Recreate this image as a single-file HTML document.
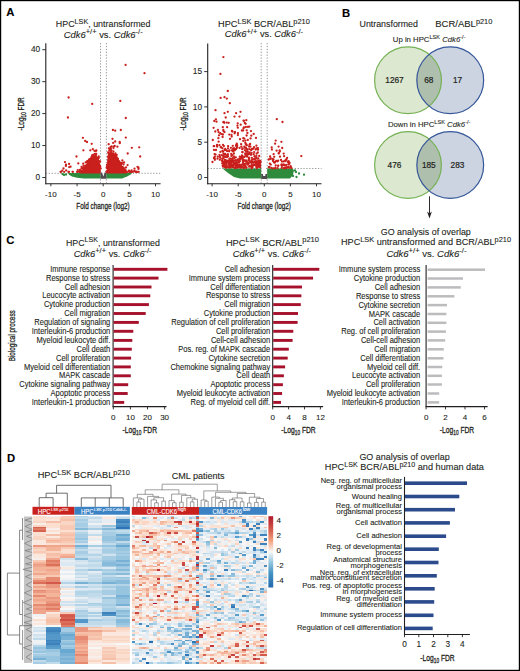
<!DOCTYPE html>
<html><head><meta charset="utf-8"><style>
html,body{margin:0;padding:0;background:#fff;}
body{width:520px;height:671px;overflow:hidden;}
svg{display:block;font-family:"Liberation Sans", sans-serif;}
</style></head><body>
<svg width="520" height="671" viewBox="0 0 520 671">
<rect x="0" y="0" width="520" height="671" fill="#fff"/>
<text transform="translate(6.30,15.90)" font-size="11.3" text-anchor="start" font-weight="bold" font-style="normal" fill="#000" stroke="#000" stroke-width="0.1" >A</text>
<text transform="translate(341.90,16.50)" font-size="11.3" text-anchor="start" font-weight="bold" font-style="normal" fill="#000" stroke="#000" stroke-width="0.1" >B</text>
<text transform="translate(6.30,244.10)" font-size="11.3" text-anchor="start" font-weight="bold" font-style="normal" fill="#000" stroke="#000" stroke-width="0.1" >C</text>
<text transform="translate(6.90,461.80)" font-size="11.3" text-anchor="start" font-weight="bold" font-style="normal" fill="#000" stroke="#000" stroke-width="0.1" >D</text>
<g id="A1">
<line x1="45.80" y1="43.20" x2="45.80" y2="184.30" stroke="#231f20" stroke-width="1.1"/>
<line x1="45.30" y1="183.70" x2="160.60" y2="183.70" stroke="#231f20" stroke-width="1.1"/>
<line x1="42.30" y1="177.50" x2="45.80" y2="177.50" stroke="#231f20" stroke-width="0.9"/>
<text transform="translate(40.20,180.10)" font-size="8.3" text-anchor="end" font-weight="normal" font-style="normal" fill="#231f20" stroke="#231f20" stroke-width="0.1" >0</text>
<line x1="42.30" y1="145.55" x2="45.80" y2="145.55" stroke="#231f20" stroke-width="0.9"/>
<text transform="translate(40.20,148.15)" font-size="8.3" text-anchor="end" font-weight="normal" font-style="normal" fill="#231f20" stroke="#231f20" stroke-width="0.1" >10</text>
<line x1="42.30" y1="113.60" x2="45.80" y2="113.60" stroke="#231f20" stroke-width="0.9"/>
<text transform="translate(40.20,116.20)" font-size="8.3" text-anchor="end" font-weight="normal" font-style="normal" fill="#231f20" stroke="#231f20" stroke-width="0.1" >20</text>
<line x1="42.30" y1="81.65" x2="45.80" y2="81.65" stroke="#231f20" stroke-width="0.9"/>
<text transform="translate(40.20,84.25)" font-size="8.3" text-anchor="end" font-weight="normal" font-style="normal" fill="#231f20" stroke="#231f20" stroke-width="0.1" >30</text>
<line x1="42.30" y1="49.70" x2="45.80" y2="49.70" stroke="#231f20" stroke-width="0.9"/>
<text transform="translate(40.20,52.30)" font-size="8.3" text-anchor="end" font-weight="normal" font-style="normal" fill="#231f20" stroke="#231f20" stroke-width="0.1" >40</text>
<line x1="50.90" y1="183.70" x2="50.90" y2="186.30" stroke="#231f20" stroke-width="0.9"/>
<text transform="translate(50.90,197.20)" font-size="8" text-anchor="middle" font-weight="normal" font-style="normal" fill="#231f20" stroke="#231f20" stroke-width="0.1" >-10</text>
<line x1="77.05" y1="183.70" x2="77.05" y2="186.30" stroke="#231f20" stroke-width="0.9"/>
<text transform="translate(77.05,197.20)" font-size="8" text-anchor="middle" font-weight="normal" font-style="normal" fill="#231f20" stroke="#231f20" stroke-width="0.1" >-5</text>
<line x1="103.20" y1="183.70" x2="103.20" y2="186.30" stroke="#231f20" stroke-width="0.9"/>
<text transform="translate(103.20,197.20)" font-size="8" text-anchor="middle" font-weight="normal" font-style="normal" fill="#231f20" stroke="#231f20" stroke-width="0.1" >0</text>
<line x1="129.35" y1="183.70" x2="129.35" y2="186.30" stroke="#231f20" stroke-width="0.9"/>
<text transform="translate(129.35,197.20)" font-size="8" text-anchor="middle" font-weight="normal" font-style="normal" fill="#231f20" stroke="#231f20" stroke-width="0.1" >5</text>
<line x1="155.50" y1="183.70" x2="155.50" y2="186.30" stroke="#231f20" stroke-width="0.9"/>
<text transform="translate(155.50,197.20)" font-size="8" text-anchor="middle" font-weight="normal" font-style="normal" fill="#231f20" stroke="#231f20" stroke-width="0.1" >10</text>
<line x1="100.50" y1="43.00" x2="100.50" y2="183.20" stroke="#555" stroke-width="0.6" stroke-dasharray="1.3,1.6"/>
<line x1="106.40" y1="43.00" x2="106.40" y2="183.20" stroke="#555" stroke-width="0.6" stroke-dasharray="1.3,1.6"/>
<line x1="45.80" y1="173.30" x2="160.60" y2="173.30" stroke="#555" stroke-width="0.6" stroke-dasharray="1.3,1.6"/>
<text transform="translate(103.00,209.30) scale(0.690,1)" font-size="9.3" text-anchor="middle" font-weight="normal" font-style="normal" fill="#231f20" stroke="#231f20" stroke-width="0.3">Fold change (log2)</text>
<text transform="translate(24.20,113.80) rotate(-90) scale(0.660,1)" font-size="9.8" text-anchor="middle" font-weight="normal" font-style="normal" fill="#231f20" stroke="#231f20" stroke-width="0.3">-Log<tspan font-size="7" dy="2">10</tspan><tspan dy="-2"> FDR</tspan></text>
<polygon fill="#2e8b3c" points="68,173 100.5,173 100.5,178.6 84,178.6 77,177.8 72,176.5 69,174.8"/>
<polygon fill="#2e8b3c" points="106.4,173 131,173 132,173.8 127,176.5 122,178.6 106.4,178.6"/>
<polygon fill="#4d4d4d" points="100.5,172.5 102,172.5 103.4,176.5 104.8,172.5 106.4,172.5 106.4,178.8 100.5,178.8"/>
<polygon fill="#c9201d" points="80,173.4 82,170.5 85,166.5 88,161.5 90.5,157.5 93,155.5 96,155.5 98.8,158.5 100.6,166 100.8,173.4"/>
<polygon fill="#c9201d" points="106.3,173.4 107.2,165 108.5,156 110.5,152 113,153 116,156 119,160.5 121.5,165.5 124,170 127,173.4"/>
<g fill="#c9201d"><circle cx="86.7" cy="166.0" r="1.15"/><circle cx="82.0" cy="171.8" r="1.15"/><circle cx="77.4" cy="171.8" r="1.15"/><circle cx="69.2" cy="167.1" r="1.15"/><circle cx="83.7" cy="169.5" r="1.15"/><circle cx="100.0" cy="166.0" r="1.15"/><circle cx="95.2" cy="157.1" r="1.15"/><circle cx="72.6" cy="171.8" r="1.15"/><circle cx="83.8" cy="168.0" r="1.15"/><circle cx="68.4" cy="171.8" r="1.15"/><circle cx="92.6" cy="155.3" r="1.15"/><circle cx="81.5" cy="168.5" r="1.15"/><circle cx="89.9" cy="160.1" r="1.15"/><circle cx="100.2" cy="166.5" r="1.15"/><circle cx="77.1" cy="171.8" r="1.15"/><circle cx="80.0" cy="171.8" r="1.15"/><circle cx="87.4" cy="161.4" r="1.15"/><circle cx="83.5" cy="165.8" r="1.15"/><circle cx="72.9" cy="171.8" r="1.15"/><circle cx="83.8" cy="169.1" r="1.15"/><circle cx="94.4" cy="150.8" r="1.15"/><circle cx="79.4" cy="171.8" r="1.15"/><circle cx="88.8" cy="160.2" r="1.15"/><circle cx="100.7" cy="168.5" r="1.15"/><circle cx="87.4" cy="164.9" r="1.15"/><circle cx="91.5" cy="158.9" r="1.15"/><circle cx="95.7" cy="157.8" r="1.15"/><circle cx="96.2" cy="154.0" r="1.15"/><circle cx="95.4" cy="157.2" r="1.15"/><circle cx="96.3" cy="150.4" r="1.15"/><circle cx="83.2" cy="163.7" r="1.15"/><circle cx="88.3" cy="161.7" r="1.15"/><circle cx="85.3" cy="165.6" r="1.15"/><circle cx="62.2" cy="170.7" r="1.15"/><circle cx="95.9" cy="154.0" r="1.15"/><circle cx="64.2" cy="171.8" r="1.15"/><circle cx="95.8" cy="155.6" r="1.15"/><circle cx="65.0" cy="162.1" r="1.15"/><circle cx="94.0" cy="157.6" r="1.15"/><circle cx="60.9" cy="171.8" r="1.15"/><circle cx="100.1" cy="161.5" r="1.15"/><circle cx="88.5" cy="162.4" r="1.15"/><circle cx="91.6" cy="157.2" r="1.15"/><circle cx="91.9" cy="157.8" r="1.15"/><circle cx="69.1" cy="164.0" r="1.15"/><circle cx="95.0" cy="153.9" r="1.15"/><circle cx="93.6" cy="154.6" r="1.15"/><circle cx="70.6" cy="166.7" r="1.15"/><circle cx="78.3" cy="163.4" r="1.15"/><circle cx="99.2" cy="161.3" r="1.15"/><circle cx="85.6" cy="162.3" r="1.15"/><circle cx="94.5" cy="156.4" r="1.15"/><circle cx="86.8" cy="162.0" r="1.15"/><circle cx="63.5" cy="168.5" r="1.15"/><circle cx="92.1" cy="155.3" r="1.15"/><circle cx="92.4" cy="157.5" r="1.15"/><circle cx="92.8" cy="149.2" r="1.15"/><circle cx="98.8" cy="157.9" r="1.15"/><circle cx="66.2" cy="170.4" r="1.15"/><circle cx="66.0" cy="164.7" r="1.15"/><circle cx="86.9" cy="164.7" r="1.15"/><circle cx="82.5" cy="171.8" r="1.15"/><circle cx="60.6" cy="171.8" r="1.15"/><circle cx="81.6" cy="166.8" r="1.15"/><circle cx="77.8" cy="170.1" r="1.15"/><circle cx="84.0" cy="169.5" r="1.15"/><circle cx="97.3" cy="158.3" r="1.15"/><circle cx="97.1" cy="157.8" r="1.15"/><circle cx="97.6" cy="158.0" r="1.15"/><circle cx="81.8" cy="171.4" r="1.15"/><circle cx="92.8" cy="157.7" r="1.15"/><circle cx="79.4" cy="171.8" r="1.15"/><circle cx="82.8" cy="168.1" r="1.15"/><circle cx="91.7" cy="157.3" r="1.15"/><circle cx="83.0" cy="168.1" r="1.15"/><circle cx="97.4" cy="158.0" r="1.15"/><circle cx="85.1" cy="167.0" r="1.15"/><circle cx="81.0" cy="171.5" r="1.15"/><circle cx="79.6" cy="171.5" r="1.15"/><circle cx="95.9" cy="150.9" r="1.15"/><circle cx="98.7" cy="156.3" r="1.15"/><circle cx="87.4" cy="161.1" r="1.15"/><circle cx="96.8" cy="158.4" r="1.15"/><circle cx="89.4" cy="159.1" r="1.15"/><circle cx="65.9" cy="165.9" r="1.15"/><circle cx="69.0" cy="171.8" r="1.15"/><circle cx="80.0" cy="170.0" r="1.15"/><circle cx="81.1" cy="171.8" r="1.15"/><circle cx="89.6" cy="161.4" r="1.15"/><circle cx="82.7" cy="170.6" r="1.15"/><circle cx="108.7" cy="144.2" r="1.15"/><circle cx="132.9" cy="171.8" r="1.15"/><circle cx="115.4" cy="157.8" r="1.15"/><circle cx="110.8" cy="152.8" r="1.15"/><circle cx="137.0" cy="171.8" r="1.15"/><circle cx="111.5" cy="146.5" r="1.15"/><circle cx="125.6" cy="170.3" r="1.15"/><circle cx="109.5" cy="156.3" r="1.15"/><circle cx="108.9" cy="148.4" r="1.15"/><circle cx="127.8" cy="171.8" r="1.15"/><circle cx="117.9" cy="158.6" r="1.15"/><circle cx="110.8" cy="152.1" r="1.15"/><circle cx="114.5" cy="156.6" r="1.15"/><circle cx="111.9" cy="154.9" r="1.15"/><circle cx="113.3" cy="154.5" r="1.15"/><circle cx="116.7" cy="154.8" r="1.15"/><circle cx="116.2" cy="156.5" r="1.15"/><circle cx="112.5" cy="153.9" r="1.15"/><circle cx="107.1" cy="167.4" r="1.15"/><circle cx="107.0" cy="164.8" r="1.15"/><circle cx="125.0" cy="171.8" r="1.15"/><circle cx="122.4" cy="160.5" r="1.15"/><circle cx="110.1" cy="149.7" r="1.15"/><circle cx="121.0" cy="164.7" r="1.15"/><circle cx="123.5" cy="167.7" r="1.15"/><circle cx="134.4" cy="171.1" r="1.15"/><circle cx="120.1" cy="163.7" r="1.15"/><circle cx="108.3" cy="159.3" r="1.15"/><circle cx="108.9" cy="153.3" r="1.15"/><circle cx="115.1" cy="157.0" r="1.15"/><circle cx="109.3" cy="150.7" r="1.15"/><circle cx="135.7" cy="171.8" r="1.15"/><circle cx="114.6" cy="156.0" r="1.15"/><circle cx="121.9" cy="168.1" r="1.15"/><circle cx="121.4" cy="166.9" r="1.15"/><circle cx="138.7" cy="171.8" r="1.15"/><circle cx="114.7" cy="146.0" r="1.15"/><circle cx="116.9" cy="158.3" r="1.15"/><circle cx="106.5" cy="171.8" r="1.15"/><circle cx="122.4" cy="167.3" r="1.15"/><circle cx="113.2" cy="153.4" r="1.15"/><circle cx="106.7" cy="171.5" r="1.15"/><circle cx="109.5" cy="154.8" r="1.15"/><circle cx="107.9" cy="162.6" r="1.15"/><circle cx="116.7" cy="158.7" r="1.15"/><circle cx="126.1" cy="171.8" r="1.15"/><circle cx="131.6" cy="170.3" r="1.15"/><circle cx="117.4" cy="146.7" r="1.15"/><circle cx="111.5" cy="150.6" r="1.15"/><circle cx="134.5" cy="171.2" r="1.15"/><circle cx="131.1" cy="171.8" r="1.15"/><circle cx="124.0" cy="170.2" r="1.15"/><circle cx="134.5" cy="168.7" r="1.15"/><circle cx="126.1" cy="167.4" r="1.15"/><circle cx="129.4" cy="171.8" r="1.15"/><circle cx="107.5" cy="164.6" r="1.15"/><circle cx="118.6" cy="162.0" r="1.15"/><circle cx="106.6" cy="167.7" r="1.15"/><circle cx="124.4" cy="169.4" r="1.15"/><circle cx="108.7" cy="153.6" r="1.15"/><circle cx="114.9" cy="157.2" r="1.15"/><circle cx="115.4" cy="153.5" r="1.15"/><circle cx="113.4" cy="151.4" r="1.15"/><circle cx="119.3" cy="161.5" r="1.15"/><circle cx="129.4" cy="171.3" r="1.15"/><circle cx="111.4" cy="153.9" r="1.15"/><circle cx="125.5" cy="171.8" r="1.15"/><circle cx="108.5" cy="157.4" r="1.15"/><circle cx="129.0" cy="170.7" r="1.15"/><circle cx="116.2" cy="156.4" r="1.15"/><circle cx="122.1" cy="166.9" r="1.15"/><circle cx="110.5" cy="147.1" r="1.15"/><circle cx="113.2" cy="142.9" r="1.15"/><circle cx="121.9" cy="163.0" r="1.15"/><circle cx="115.5" cy="157.2" r="1.15"/><circle cx="126.0" cy="171.8" r="1.15"/><circle cx="124.1" cy="162.4" r="1.15"/><circle cx="110.9" cy="149.0" r="1.15"/><circle cx="123.5" cy="164.4" r="1.15"/><circle cx="107.3" cy="166.6" r="1.15"/><circle cx="123.0" cy="168.7" r="1.15"/><circle cx="116.6" cy="158.9" r="1.15"/><circle cx="118.0" cy="160.3" r="1.15"/><circle cx="131.6" cy="171.8" r="1.15"/><circle cx="137.5" cy="166.8" r="1.15"/><circle cx="116.2" cy="157.3" r="1.15"/><circle cx="119.7" cy="141.9" r="1.15"/><circle cx="126.2" cy="171.8" r="1.15"/><circle cx="120.8" cy="165.6" r="1.15"/><circle cx="108.1" cy="160.8" r="1.15"/><circle cx="115.4" cy="155.5" r="1.15"/><circle cx="112.9" cy="153.9" r="1.15"/><circle cx="138.5" cy="168.9" r="1.15"/><circle cx="127.6" cy="165.1" r="1.15"/><circle cx="124.9" cy="169.3" r="1.15"/><circle cx="108.2" cy="156.5" r="1.15"/><circle cx="121.6" cy="163.5" r="1.15"/><circle cx="108.1" cy="152.3" r="1.15"/><circle cx="110.8" cy="152.5" r="1.15"/><circle cx="118.0" cy="160.3" r="1.15"/><circle cx="131.3" cy="171.8" r="1.15"/><circle cx="125.2" cy="171.8" r="1.15"/><circle cx="112.1" cy="154.6" r="1.15"/><circle cx="113.5" cy="148.1" r="1.15"/><circle cx="123.2" cy="170.1" r="1.15"/><circle cx="136.9" cy="171.8" r="1.15"/><circle cx="111.2" cy="154.1" r="1.15"/><circle cx="109.5" cy="155.0" r="1.15"/><circle cx="109.6" cy="155.5" r="1.15"/><circle cx="115.2" cy="154.8" r="1.15"/><circle cx="136.2" cy="171.8" r="1.15"/><circle cx="120.4" cy="163.3" r="1.15"/><circle cx="119.1" cy="161.9" r="1.15"/><circle cx="108.6" cy="157.3" r="1.15"/><circle cx="123.4" cy="168.0" r="1.15"/><circle cx="115.6" cy="157.1" r="1.15"/><circle cx="119.9" cy="162.8" r="1.15"/><circle cx="138.5" cy="167.6" r="1.15"/><circle cx="107.2" cy="167.2" r="1.15"/><circle cx="130.3" cy="171.8" r="1.15"/><circle cx="126.2" cy="171.8" r="1.15"/><circle cx="125.6" cy="64.9" r="1.15"/><circle cx="144.5" cy="73.2" r="1.15"/><circle cx="68.6" cy="97.5" r="1.15"/><circle cx="92.2" cy="103.9" r="1.15"/><circle cx="120.3" cy="100.9" r="1.15"/><circle cx="67.9" cy="117.5" r="1.15"/><circle cx="125.8" cy="118.0" r="1.15"/><circle cx="112.9" cy="130.0" r="1.15"/><circle cx="115.2" cy="130.7" r="1.15"/><circle cx="120.8" cy="130.0" r="1.15"/><circle cx="82.9" cy="137.8" r="1.15"/><circle cx="85.2" cy="141.0" r="1.15"/><circle cx="87.0" cy="142.0" r="1.15"/><circle cx="91.7" cy="143.8" r="1.15"/><circle cx="112.5" cy="138.8" r="1.15"/><circle cx="115.2" cy="141.5" r="1.15"/><circle cx="119.8" cy="143.2" r="1.15"/><circle cx="125.8" cy="137.6" r="1.15"/><circle cx="131.8" cy="147.8" r="1.15"/><circle cx="139.2" cy="147.3" r="1.15"/><circle cx="140.2" cy="156.5" r="1.15"/><circle cx="113.4" cy="146.6" r="1.15"/><circle cx="83.4" cy="150.3" r="1.15"/><circle cx="90.3" cy="150.3" r="1.15"/><circle cx="76.5" cy="156.5" r="1.15"/><circle cx="127.7" cy="153.5" r="1.15"/></g>
<g fill="#2e8b3c"><circle cx="62.5" cy="174.0" r="1.15"/><circle cx="64.0" cy="175.0" r="1.15"/><circle cx="66.0" cy="174.5" r="1.15"/></g>
</g>
<g id="A2">
<line x1="207.70" y1="43.50" x2="207.70" y2="184.30" stroke="#231f20" stroke-width="1.1"/>
<line x1="207.20" y1="183.70" x2="321.50" y2="183.70" stroke="#231f20" stroke-width="1.1"/>
<line x1="204.20" y1="177.50" x2="207.70" y2="177.50" stroke="#231f20" stroke-width="0.9"/>
<text transform="translate(202.10,180.10)" font-size="8.3" text-anchor="end" font-weight="normal" font-style="normal" fill="#231f20" stroke="#231f20" stroke-width="0.1" >0</text>
<line x1="204.20" y1="142.20" x2="207.70" y2="142.20" stroke="#231f20" stroke-width="0.9"/>
<text transform="translate(202.10,144.80)" font-size="8.3" text-anchor="end" font-weight="normal" font-style="normal" fill="#231f20" stroke="#231f20" stroke-width="0.1" >5</text>
<line x1="204.20" y1="106.90" x2="207.70" y2="106.90" stroke="#231f20" stroke-width="0.9"/>
<text transform="translate(202.10,109.50)" font-size="8.3" text-anchor="end" font-weight="normal" font-style="normal" fill="#231f20" stroke="#231f20" stroke-width="0.1" >10</text>
<line x1="204.20" y1="71.60" x2="207.70" y2="71.60" stroke="#231f20" stroke-width="0.9"/>
<text transform="translate(202.10,74.20)" font-size="8.3" text-anchor="end" font-weight="normal" font-style="normal" fill="#231f20" stroke="#231f20" stroke-width="0.1" >15</text>
<line x1="212.10" y1="183.70" x2="212.10" y2="186.30" stroke="#231f20" stroke-width="0.9"/>
<text transform="translate(212.10,197.20)" font-size="8" text-anchor="middle" font-weight="normal" font-style="normal" fill="#231f20" stroke="#231f20" stroke-width="0.1" >-10</text>
<line x1="238.20" y1="183.70" x2="238.20" y2="186.30" stroke="#231f20" stroke-width="0.9"/>
<text transform="translate(238.20,197.20)" font-size="8" text-anchor="middle" font-weight="normal" font-style="normal" fill="#231f20" stroke="#231f20" stroke-width="0.1" >-5</text>
<line x1="264.30" y1="183.70" x2="264.30" y2="186.30" stroke="#231f20" stroke-width="0.9"/>
<text transform="translate(264.30,197.20)" font-size="8" text-anchor="middle" font-weight="normal" font-style="normal" fill="#231f20" stroke="#231f20" stroke-width="0.1" >0</text>
<line x1="290.40" y1="183.70" x2="290.40" y2="186.30" stroke="#231f20" stroke-width="0.9"/>
<text transform="translate(290.40,197.20)" font-size="8" text-anchor="middle" font-weight="normal" font-style="normal" fill="#231f20" stroke="#231f20" stroke-width="0.1" >5</text>
<line x1="316.50" y1="183.70" x2="316.50" y2="186.30" stroke="#231f20" stroke-width="0.9"/>
<text transform="translate(316.50,197.20)" font-size="8" text-anchor="middle" font-weight="normal" font-style="normal" fill="#231f20" stroke="#231f20" stroke-width="0.1" >10</text>
<line x1="261.20" y1="43.00" x2="261.20" y2="183.20" stroke="#555" stroke-width="0.6" stroke-dasharray="1.3,1.6"/>
<line x1="267.20" y1="43.00" x2="267.20" y2="183.20" stroke="#555" stroke-width="0.6" stroke-dasharray="1.3,1.6"/>
<line x1="207.70" y1="168.50" x2="321.50" y2="168.50" stroke="#555" stroke-width="0.6" stroke-dasharray="1.3,1.6"/>
<text transform="translate(264.30,209.30) scale(0.690,1)" font-size="9.3" text-anchor="middle" font-weight="normal" font-style="normal" fill="#231f20" stroke="#231f20" stroke-width="0.3">Fold change (log2)</text>
<text transform="translate(186.10,113.80) rotate(-90) scale(0.660,1)" font-size="9.8" text-anchor="middle" font-weight="normal" font-style="normal" fill="#231f20" stroke="#231f20" stroke-width="0.3">-Log<tspan font-size="7" dy="2">10</tspan><tspan dy="-2"> FDR</tspan></text>
<polygon fill="#2e8b3c" points="222.5,168.5 261.2,168.5 261.2,178.6 240,178.6 234,177 228,173"/>
<polygon fill="#2e8b3c" points="267.2,168.5 292,168.5 294,170 293,175 290,178.6 267.2,178.6"/>
<polygon fill="#4d4d4d" points="261.2,174 267.2,174 267.2,179 261.2,179"/>
<polygon fill="#fff" points="262.2,168 266.2,168 265.2,176 263.2,176"/>
<g fill="#2e8b3c"><circle cx="296.0" cy="172.0" r="1.15"/><circle cx="299.0" cy="173.5" r="1.15"/><circle cx="304.0" cy="174.7" r="1.15"/><circle cx="296.5" cy="177.0" r="1.15"/><circle cx="293.0" cy="176.0" r="1.15"/><circle cx="295.0" cy="170.5" r="1.15"/></g>
<g fill="#c9201d"><circle cx="257.7" cy="165.0" r="1.15"/><circle cx="254.8" cy="161.6" r="1.15"/><circle cx="230.9" cy="160.5" r="1.15"/><circle cx="228.8" cy="167.2" r="1.15"/><circle cx="248.3" cy="164.0" r="1.15"/><circle cx="249.5" cy="160.8" r="1.15"/><circle cx="251.4" cy="163.0" r="1.15"/><circle cx="243.3" cy="164.5" r="1.15"/><circle cx="252.4" cy="167.7" r="1.15"/><circle cx="257.5" cy="166.2" r="1.15"/><circle cx="233.6" cy="163.0" r="1.15"/><circle cx="232.5" cy="167.0" r="1.15"/><circle cx="248.8" cy="163.1" r="1.15"/><circle cx="225.7" cy="167.1" r="1.15"/><circle cx="244.5" cy="164.0" r="1.15"/><circle cx="230.9" cy="165.0" r="1.15"/><circle cx="222.3" cy="163.4" r="1.15"/><circle cx="240.1" cy="165.7" r="1.15"/><circle cx="246.5" cy="160.6" r="1.15"/><circle cx="239.9" cy="161.2" r="1.15"/><circle cx="232.1" cy="166.2" r="1.15"/><circle cx="248.9" cy="160.6" r="1.15"/><circle cx="223.4" cy="165.6" r="1.15"/><circle cx="248.0" cy="164.2" r="1.15"/><circle cx="232.2" cy="164.8" r="1.15"/><circle cx="257.6" cy="162.9" r="1.15"/><circle cx="224.1" cy="166.3" r="1.15"/><circle cx="238.5" cy="165.4" r="1.15"/><circle cx="229.4" cy="162.7" r="1.15"/><circle cx="250.3" cy="161.9" r="1.15"/><circle cx="230.0" cy="164.1" r="1.15"/><circle cx="233.4" cy="160.5" r="1.15"/><circle cx="230.4" cy="161.7" r="1.15"/><circle cx="251.5" cy="166.3" r="1.15"/><circle cx="258.7" cy="165.7" r="1.15"/><circle cx="229.3" cy="164.2" r="1.15"/><circle cx="238.5" cy="166.3" r="1.15"/><circle cx="258.5" cy="162.9" r="1.15"/><circle cx="237.7" cy="166.9" r="1.15"/><circle cx="259.5" cy="166.4" r="1.15"/><circle cx="224.9" cy="166.9" r="1.15"/><circle cx="237.9" cy="167.5" r="1.15"/><circle cx="255.9" cy="161.1" r="1.15"/><circle cx="260.4" cy="162.4" r="1.15"/><circle cx="234.1" cy="160.8" r="1.15"/><circle cx="258.1" cy="166.6" r="1.15"/><circle cx="222.8" cy="162.3" r="1.15"/><circle cx="236.4" cy="162.9" r="1.15"/><circle cx="235.1" cy="165.1" r="1.15"/><circle cx="223.0" cy="166.7" r="1.15"/><circle cx="236.0" cy="165.8" r="1.15"/><circle cx="226.0" cy="160.6" r="1.15"/><circle cx="229.3" cy="160.6" r="1.15"/><circle cx="253.7" cy="165.3" r="1.15"/><circle cx="238.3" cy="161.7" r="1.15"/><circle cx="240.9" cy="167.6" r="1.15"/><circle cx="257.4" cy="165.1" r="1.15"/><circle cx="236.6" cy="166.5" r="1.15"/><circle cx="222.4" cy="161.1" r="1.15"/><circle cx="253.3" cy="164.8" r="1.15"/><circle cx="223.1" cy="162.1" r="1.15"/><circle cx="225.6" cy="167.7" r="1.15"/><circle cx="231.3" cy="160.9" r="1.15"/><circle cx="256.6" cy="162.2" r="1.15"/><circle cx="232.9" cy="165.4" r="1.15"/><circle cx="245.4" cy="160.6" r="1.15"/><circle cx="249.8" cy="166.0" r="1.15"/><circle cx="233.0" cy="165.6" r="1.15"/><circle cx="251.4" cy="168.0" r="1.15"/><circle cx="246.1" cy="160.9" r="1.15"/><circle cx="222.1" cy="160.7" r="1.15"/><circle cx="240.7" cy="166.2" r="1.15"/><circle cx="258.7" cy="160.6" r="1.15"/><circle cx="232.0" cy="165.0" r="1.15"/><circle cx="241.2" cy="164.7" r="1.15"/><circle cx="228.4" cy="160.9" r="1.15"/><circle cx="250.3" cy="161.8" r="1.15"/><circle cx="251.6" cy="161.7" r="1.15"/><circle cx="234.6" cy="163.3" r="1.15"/><circle cx="236.3" cy="165.5" r="1.15"/><circle cx="224.6" cy="162.0" r="1.15"/><circle cx="251.2" cy="166.5" r="1.15"/><circle cx="225.2" cy="166.1" r="1.15"/><circle cx="243.8" cy="167.7" r="1.15"/><circle cx="259.8" cy="165.5" r="1.15"/><circle cx="260.0" cy="161.2" r="1.15"/><circle cx="225.9" cy="166.0" r="1.15"/><circle cx="241.7" cy="167.3" r="1.15"/><circle cx="239.0" cy="162.5" r="1.15"/><circle cx="238.5" cy="166.2" r="1.15"/><circle cx="247.9" cy="163.2" r="1.15"/><circle cx="254.5" cy="162.2" r="1.15"/><circle cx="226.5" cy="162.9" r="1.15"/><circle cx="232.9" cy="161.5" r="1.15"/><circle cx="236.4" cy="163.6" r="1.15"/><circle cx="229.4" cy="162.3" r="1.15"/><circle cx="232.0" cy="166.1" r="1.15"/><circle cx="256.2" cy="166.8" r="1.15"/><circle cx="234.5" cy="163.5" r="1.15"/><circle cx="260.2" cy="165.0" r="1.15"/><circle cx="231.0" cy="164.1" r="1.15"/><circle cx="247.0" cy="161.8" r="1.15"/><circle cx="225.1" cy="160.4" r="1.15"/><circle cx="253.6" cy="164.3" r="1.15"/><circle cx="257.1" cy="161.5" r="1.15"/><circle cx="234.2" cy="167.7" r="1.15"/><circle cx="230.1" cy="167.1" r="1.15"/><circle cx="244.1" cy="160.5" r="1.15"/><circle cx="235.8" cy="160.8" r="1.15"/><circle cx="238.9" cy="161.3" r="1.15"/><circle cx="252.1" cy="166.0" r="1.15"/><circle cx="225.3" cy="160.7" r="1.15"/><circle cx="245.8" cy="163.4" r="1.15"/><circle cx="236.7" cy="166.3" r="1.15"/><circle cx="230.6" cy="166.9" r="1.15"/><circle cx="245.4" cy="166.0" r="1.15"/><circle cx="229.7" cy="163.0" r="1.15"/><circle cx="235.5" cy="167.9" r="1.15"/><circle cx="228.9" cy="162.8" r="1.15"/><circle cx="230.3" cy="165.6" r="1.15"/><circle cx="242.9" cy="161.9" r="1.15"/><circle cx="226.9" cy="167.5" r="1.15"/><circle cx="243.4" cy="165.0" r="1.15"/><circle cx="225.4" cy="163.1" r="1.15"/><circle cx="249.1" cy="166.7" r="1.15"/><circle cx="233.2" cy="164.8" r="1.15"/><circle cx="258.7" cy="165.6" r="1.15"/><circle cx="244.1" cy="165.6" r="1.15"/><circle cx="238.3" cy="165.2" r="1.15"/><circle cx="260.4" cy="161.3" r="1.15"/><circle cx="230.0" cy="165.2" r="1.15"/><circle cx="229.5" cy="162.4" r="1.15"/><circle cx="256.8" cy="168.0" r="1.15"/><circle cx="253.6" cy="164.7" r="1.15"/><circle cx="256.0" cy="164.9" r="1.15"/><circle cx="228.5" cy="164.5" r="1.15"/><circle cx="243.8" cy="167.9" r="1.15"/><circle cx="257.0" cy="163.1" r="1.15"/><circle cx="246.4" cy="167.3" r="1.15"/><circle cx="241.6" cy="165.1" r="1.15"/><circle cx="233.6" cy="166.9" r="1.15"/><circle cx="257.6" cy="164.0" r="1.15"/><circle cx="241.4" cy="167.2" r="1.15"/><circle cx="259.2" cy="161.8" r="1.15"/><circle cx="227.6" cy="166.5" r="1.15"/><circle cx="259.5" cy="160.7" r="1.15"/><circle cx="224.2" cy="164.3" r="1.15"/><circle cx="236.4" cy="160.9" r="1.15"/><circle cx="245.6" cy="161.0" r="1.15"/><circle cx="227.7" cy="161.7" r="1.15"/><circle cx="230.2" cy="161.9" r="1.15"/><circle cx="254.6" cy="164.9" r="1.15"/><circle cx="228.5" cy="161.6" r="1.15"/><circle cx="237.9" cy="166.3" r="1.15"/><circle cx="236.8" cy="164.0" r="1.15"/><circle cx="232.3" cy="167.1" r="1.15"/><circle cx="256.5" cy="162.4" r="1.15"/><circle cx="244.2" cy="167.7" r="1.15"/><circle cx="223.0" cy="162.2" r="1.15"/><circle cx="226.0" cy="161.5" r="1.15"/><circle cx="243.1" cy="163.4" r="1.15"/><circle cx="233.7" cy="163.2" r="1.15"/><circle cx="244.6" cy="164.8" r="1.15"/><circle cx="247.5" cy="164.7" r="1.15"/><circle cx="239.0" cy="164.6" r="1.15"/><circle cx="246.3" cy="167.8" r="1.15"/><circle cx="231.2" cy="164.2" r="1.15"/><circle cx="251.9" cy="162.1" r="1.15"/><circle cx="229.1" cy="164.5" r="1.15"/><circle cx="226.3" cy="164.4" r="1.15"/><circle cx="239.2" cy="167.0" r="1.15"/><circle cx="239.6" cy="167.3" r="1.15"/><circle cx="223.7" cy="164.1" r="1.15"/><circle cx="225.0" cy="163.1" r="1.15"/><circle cx="251.9" cy="162.4" r="1.15"/><circle cx="224.2" cy="164.1" r="1.15"/><circle cx="236.6" cy="164.1" r="1.15"/><circle cx="226.5" cy="160.7" r="1.15"/><circle cx="260.3" cy="161.4" r="1.15"/><circle cx="253.3" cy="162.4" r="1.15"/><circle cx="259.8" cy="166.5" r="1.15"/><circle cx="258.8" cy="164.2" r="1.15"/><circle cx="227.7" cy="160.9" r="1.15"/><circle cx="257.8" cy="161.9" r="1.15"/><circle cx="236.3" cy="167.5" r="1.15"/><circle cx="227.7" cy="162.2" r="1.15"/><circle cx="232.0" cy="161.1" r="1.15"/><circle cx="227.0" cy="161.7" r="1.15"/><circle cx="257.4" cy="164.1" r="1.15"/><circle cx="232.7" cy="166.4" r="1.15"/><circle cx="234.4" cy="164.1" r="1.15"/><circle cx="230.0" cy="167.7" r="1.15"/><circle cx="258.1" cy="166.8" r="1.15"/><circle cx="256.4" cy="162.8" r="1.15"/><circle cx="252.4" cy="166.7" r="1.15"/><circle cx="242.9" cy="167.1" r="1.15"/><circle cx="235.7" cy="163.1" r="1.15"/><circle cx="243.1" cy="161.3" r="1.15"/><circle cx="256.0" cy="163.5" r="1.15"/><circle cx="260.2" cy="167.2" r="1.15"/><circle cx="237.1" cy="163.2" r="1.15"/><circle cx="231.8" cy="161.9" r="1.15"/><circle cx="243.8" cy="160.4" r="1.15"/><circle cx="251.6" cy="165.2" r="1.15"/><circle cx="229.0" cy="164.6" r="1.15"/><circle cx="223.5" cy="162.3" r="1.15"/><circle cx="231.3" cy="161.7" r="1.15"/><circle cx="259.9" cy="163.1" r="1.15"/><circle cx="247.5" cy="163.5" r="1.15"/><circle cx="222.7" cy="165.6" r="1.15"/><circle cx="219.9" cy="159.8" r="1.15"/><circle cx="232.9" cy="150.4" r="1.15"/><circle cx="254.2" cy="152.1" r="1.15"/><circle cx="223.5" cy="158.2" r="1.15"/><circle cx="214.0" cy="149.9" r="1.15"/><circle cx="229.3" cy="160.3" r="1.15"/><circle cx="229.4" cy="158.6" r="1.15"/><circle cx="239.8" cy="156.7" r="1.15"/><circle cx="222.4" cy="150.9" r="1.15"/><circle cx="234.8" cy="150.3" r="1.15"/><circle cx="256.1" cy="158.1" r="1.15"/><circle cx="219.9" cy="156.4" r="1.15"/><circle cx="242.4" cy="158.8" r="1.15"/><circle cx="249.0" cy="146.4" r="1.15"/><circle cx="225.2" cy="153.9" r="1.15"/><circle cx="242.7" cy="160.1" r="1.15"/><circle cx="229.1" cy="151.3" r="1.15"/><circle cx="233.4" cy="150.0" r="1.15"/><circle cx="246.7" cy="145.3" r="1.15"/><circle cx="254.6" cy="156.3" r="1.15"/><circle cx="237.5" cy="159.6" r="1.15"/><circle cx="223.9" cy="153.8" r="1.15"/><circle cx="248.8" cy="159.4" r="1.15"/><circle cx="238.3" cy="160.1" r="1.15"/><circle cx="219.5" cy="145.2" r="1.15"/><circle cx="241.0" cy="157.1" r="1.15"/><circle cx="242.5" cy="152.2" r="1.15"/><circle cx="221.0" cy="147.3" r="1.15"/><circle cx="226.8" cy="155.3" r="1.15"/><circle cx="253.9" cy="159.5" r="1.15"/><circle cx="245.9" cy="147.8" r="1.15"/><circle cx="251.8" cy="160.2" r="1.15"/><circle cx="234.4" cy="148.4" r="1.15"/><circle cx="233.8" cy="148.4" r="1.15"/><circle cx="217.8" cy="156.7" r="1.15"/><circle cx="214.8" cy="156.6" r="1.15"/><circle cx="247.5" cy="154.9" r="1.15"/><circle cx="251.9" cy="149.2" r="1.15"/><circle cx="225.2" cy="148.9" r="1.15"/><circle cx="233.1" cy="151.4" r="1.15"/><circle cx="237.1" cy="147.7" r="1.15"/><circle cx="242.5" cy="156.1" r="1.15"/><circle cx="223.0" cy="144.9" r="1.15"/><circle cx="213.7" cy="146.2" r="1.15"/><circle cx="223.9" cy="156.1" r="1.15"/><circle cx="256.5" cy="148.4" r="1.15"/><circle cx="228.0" cy="148.4" r="1.15"/><circle cx="228.1" cy="146.2" r="1.15"/><circle cx="254.7" cy="156.5" r="1.15"/><circle cx="244.9" cy="150.2" r="1.15"/><circle cx="258.0" cy="149.7" r="1.15"/><circle cx="251.6" cy="152.8" r="1.15"/><circle cx="252.4" cy="149.1" r="1.15"/><circle cx="246.3" cy="153.3" r="1.15"/><circle cx="227.2" cy="151.2" r="1.15"/><circle cx="241.6" cy="156.9" r="1.15"/><circle cx="254.9" cy="159.1" r="1.15"/><circle cx="214.2" cy="158.0" r="1.15"/><circle cx="255.7" cy="158.6" r="1.15"/><circle cx="219.5" cy="154.8" r="1.15"/><circle cx="214.9" cy="159.8" r="1.15"/><circle cx="242.2" cy="149.2" r="1.15"/><circle cx="246.9" cy="149.1" r="1.15"/><circle cx="240.2" cy="159.2" r="1.15"/><circle cx="250.6" cy="154.5" r="1.15"/><circle cx="254.0" cy="147.2" r="1.15"/><circle cx="252.9" cy="159.2" r="1.15"/><circle cx="256.4" cy="145.7" r="1.15"/><circle cx="222.5" cy="158.6" r="1.15"/><circle cx="214.6" cy="158.5" r="1.15"/><circle cx="250.4" cy="146.7" r="1.15"/><circle cx="251.0" cy="150.2" r="1.15"/><circle cx="226.2" cy="150.2" r="1.15"/><circle cx="217.5" cy="158.7" r="1.15"/><circle cx="222.4" cy="148.2" r="1.15"/><circle cx="232.5" cy="155.2" r="1.15"/><circle cx="224.8" cy="160.0" r="1.15"/><circle cx="245.9" cy="155.8" r="1.15"/><circle cx="227.8" cy="154.4" r="1.15"/><circle cx="236.2" cy="144.9" r="1.15"/><circle cx="241.4" cy="146.7" r="1.15"/><circle cx="232.0" cy="159.8" r="1.15"/><circle cx="248.6" cy="153.3" r="1.15"/><circle cx="245.4" cy="154.8" r="1.15"/><circle cx="223.0" cy="151.7" r="1.15"/><circle cx="217.2" cy="146.5" r="1.15"/><circle cx="220.8" cy="147.2" r="1.15"/><circle cx="222.3" cy="160.3" r="1.15"/><circle cx="258.0" cy="148.1" r="1.15"/><circle cx="235.6" cy="160.2" r="1.15"/><circle cx="249.7" cy="152.4" r="1.15"/><circle cx="235.8" cy="157.3" r="1.15"/><circle cx="251.3" cy="154.7" r="1.15"/><circle cx="256.4" cy="156.1" r="1.15"/><circle cx="222.9" cy="155.8" r="1.15"/><circle cx="235.9" cy="149.1" r="1.15"/><circle cx="242.3" cy="158.5" r="1.15"/><circle cx="249.2" cy="159.0" r="1.15"/><circle cx="249.2" cy="149.1" r="1.15"/><circle cx="229.4" cy="150.3" r="1.15"/><circle cx="231.2" cy="153.9" r="1.15"/><circle cx="217.0" cy="146.1" r="1.15"/><circle cx="214.2" cy="146.1" r="1.15"/><circle cx="225.1" cy="157.0" r="1.15"/><circle cx="236.1" cy="145.9" r="1.15"/><circle cx="253.7" cy="154.2" r="1.15"/><circle cx="234.2" cy="156.6" r="1.15"/><circle cx="247.7" cy="151.8" r="1.15"/><circle cx="242.7" cy="148.3" r="1.15"/><circle cx="228.0" cy="154.7" r="1.15"/><circle cx="251.8" cy="157.8" r="1.15"/><circle cx="247.1" cy="149.7" r="1.15"/><circle cx="233.2" cy="157.6" r="1.15"/><circle cx="239.6" cy="147.9" r="1.15"/><circle cx="234.3" cy="158.3" r="1.15"/><circle cx="223.9" cy="146.1" r="1.15"/><circle cx="226.9" cy="157.2" r="1.15"/><circle cx="251.8" cy="149.0" r="1.15"/><circle cx="220.2" cy="157.8" r="1.15"/><circle cx="228.0" cy="156.3" r="1.15"/><circle cx="220.4" cy="151.9" r="1.15"/><circle cx="221.7" cy="155.1" r="1.15"/><circle cx="246.5" cy="144.7" r="1.15"/><circle cx="257.3" cy="158.7" r="1.15"/><circle cx="230.7" cy="158.7" r="1.15"/><circle cx="249.6" cy="144.6" r="1.15"/><circle cx="233.0" cy="148.6" r="1.15"/><circle cx="242.3" cy="157.2" r="1.15"/><circle cx="222.5" cy="158.6" r="1.15"/><circle cx="214.6" cy="154.1" r="1.15"/><circle cx="249.4" cy="153.9" r="1.15"/><circle cx="236.0" cy="149.2" r="1.15"/><circle cx="234.3" cy="150.2" r="1.15"/><circle cx="240.8" cy="158.0" r="1.15"/><circle cx="247.1" cy="153.8" r="1.15"/><circle cx="232.8" cy="145.8" r="1.15"/><circle cx="247.5" cy="151.1" r="1.15"/><circle cx="223.5" cy="153.6" r="1.15"/><circle cx="253.5" cy="148.7" r="1.15"/><circle cx="245.2" cy="147.9" r="1.15"/><circle cx="244.3" cy="146.7" r="1.15"/><circle cx="233.9" cy="150.0" r="1.15"/><circle cx="241.9" cy="155.3" r="1.15"/><circle cx="232.3" cy="158.7" r="1.15"/><circle cx="245.8" cy="147.8" r="1.15"/><circle cx="224.5" cy="150.2" r="1.15"/><circle cx="233.9" cy="153.5" r="1.15"/><circle cx="231.8" cy="150.4" r="1.15"/><circle cx="255.8" cy="149.5" r="1.15"/><circle cx="243.1" cy="157.4" r="1.15"/><circle cx="230.9" cy="147.8" r="1.15"/><circle cx="257.8" cy="152.5" r="1.15"/><circle cx="238.0" cy="159.7" r="1.15"/><circle cx="249.0" cy="157.7" r="1.15"/><circle cx="236.9" cy="145.3" r="1.15"/><circle cx="239.4" cy="158.7" r="1.15"/><circle cx="246.0" cy="151.6" r="1.15"/><circle cx="242.4" cy="152.1" r="1.15"/><circle cx="237.0" cy="147.0" r="1.15"/><circle cx="256.6" cy="153.7" r="1.15"/><circle cx="244.5" cy="156.9" r="1.15"/><circle cx="248.1" cy="154.0" r="1.15"/><circle cx="258.3" cy="158.3" r="1.15"/><circle cx="215.6" cy="154.6" r="1.15"/><circle cx="231.4" cy="155.9" r="1.15"/><circle cx="232.3" cy="160.1" r="1.15"/><circle cx="245.1" cy="153.6" r="1.15"/><circle cx="225.2" cy="154.7" r="1.15"/><circle cx="247.1" cy="156.7" r="1.15"/><circle cx="237.2" cy="145.3" r="1.15"/><circle cx="244.3" cy="138.6" r="1.15"/><circle cx="221.3" cy="134.1" r="1.15"/><circle cx="243.3" cy="140.9" r="1.15"/><circle cx="237.7" cy="123.3" r="1.15"/><circle cx="234.9" cy="132.1" r="1.15"/><circle cx="250.6" cy="138.4" r="1.15"/><circle cx="237.9" cy="135.1" r="1.15"/><circle cx="244.8" cy="123.0" r="1.15"/><circle cx="224.5" cy="132.1" r="1.15"/><circle cx="217.9" cy="130.0" r="1.15"/><circle cx="226.8" cy="122.6" r="1.15"/><circle cx="223.4" cy="122.2" r="1.15"/><circle cx="222.9" cy="134.5" r="1.15"/><circle cx="220.2" cy="133.2" r="1.15"/><circle cx="241.1" cy="144.2" r="1.15"/><circle cx="222.6" cy="137.0" r="1.15"/><circle cx="231.7" cy="136.5" r="1.15"/><circle cx="237.9" cy="133.2" r="1.15"/><circle cx="227.1" cy="127.2" r="1.15"/><circle cx="246.3" cy="120.2" r="1.15"/><circle cx="245.3" cy="142.8" r="1.15"/><circle cx="243.6" cy="120.7" r="1.15"/><circle cx="245.4" cy="140.6" r="1.15"/><circle cx="213.6" cy="127.8" r="1.15"/><circle cx="250.1" cy="144.0" r="1.15"/><circle cx="222.8" cy="127.2" r="1.15"/><circle cx="218.6" cy="141.7" r="1.15"/><circle cx="243.3" cy="138.2" r="1.15"/><circle cx="219.0" cy="135.3" r="1.15"/><circle cx="243.9" cy="120.8" r="1.15"/><circle cx="247.8" cy="139.9" r="1.15"/><circle cx="243.5" cy="128.5" r="1.15"/><circle cx="247.9" cy="126.9" r="1.15"/><circle cx="245.7" cy="123.8" r="1.15"/><circle cx="240.0" cy="139.2" r="1.15"/><circle cx="241.9" cy="130.5" r="1.15"/><circle cx="247.4" cy="132.9" r="1.15"/><circle cx="223.3" cy="129.9" r="1.15"/><circle cx="218.4" cy="138.2" r="1.15"/><circle cx="215.3" cy="131.5" r="1.15"/><circle cx="218.6" cy="132.2" r="1.15"/><circle cx="232.4" cy="131.5" r="1.15"/><circle cx="246.7" cy="130.3" r="1.15"/><circle cx="245.8" cy="144.1" r="1.15"/><circle cx="234.9" cy="132.1" r="1.15"/><circle cx="245.8" cy="127.0" r="1.15"/><circle cx="229.3" cy="134.6" r="1.15"/><circle cx="215.9" cy="119.3" r="1.15"/><circle cx="237.8" cy="127.7" r="1.15"/><circle cx="236.8" cy="143.6" r="1.15"/><circle cx="249.3" cy="126.6" r="1.15"/><circle cx="251.3" cy="135.7" r="1.15"/><circle cx="231.9" cy="131.0" r="1.15"/><circle cx="214.3" cy="121.0" r="1.15"/><circle cx="237.4" cy="125.6" r="1.15"/><circle cx="246.6" cy="135.5" r="1.15"/><circle cx="231.5" cy="134.8" r="1.15"/><circle cx="243.1" cy="130.6" r="1.15"/><circle cx="230.0" cy="138.8" r="1.15"/><circle cx="234.6" cy="133.3" r="1.15"/><circle cx="224.4" cy="122.8" r="1.15"/><circle cx="228.7" cy="122.8" r="1.15"/><circle cx="223.6" cy="131.2" r="1.15"/><circle cx="251.0" cy="131.1" r="1.15"/><circle cx="243.9" cy="127.3" r="1.15"/><circle cx="275.7" cy="165.5" r="1.15"/><circle cx="281.8" cy="165.8" r="1.15"/><circle cx="285.3" cy="161.2" r="1.15"/><circle cx="285.4" cy="168.0" r="1.15"/><circle cx="278.8" cy="153.1" r="1.15"/><circle cx="275.5" cy="167.9" r="1.15"/><circle cx="273.0" cy="168.3" r="1.15"/><circle cx="279.6" cy="150.5" r="1.15"/><circle cx="285.3" cy="160.8" r="1.15"/><circle cx="279.8" cy="151.5" r="1.15"/><circle cx="282.0" cy="161.6" r="1.15"/><circle cx="281.0" cy="160.0" r="1.15"/><circle cx="273.0" cy="160.3" r="1.15"/><circle cx="278.2" cy="160.6" r="1.15"/><circle cx="270.6" cy="158.2" r="1.15"/><circle cx="269.4" cy="166.9" r="1.15"/><circle cx="287.1" cy="157.9" r="1.15"/><circle cx="276.3" cy="160.8" r="1.15"/><circle cx="284.1" cy="156.2" r="1.15"/><circle cx="274.1" cy="162.5" r="1.15"/><circle cx="278.1" cy="165.8" r="1.15"/><circle cx="278.3" cy="165.6" r="1.15"/><circle cx="288.4" cy="161.1" r="1.15"/><circle cx="281.8" cy="167.9" r="1.15"/><circle cx="271.3" cy="168.0" r="1.15"/><circle cx="280.0" cy="156.7" r="1.15"/><circle cx="276.6" cy="150.7" r="1.15"/><circle cx="277.6" cy="168.2" r="1.15"/><circle cx="288.8" cy="162.0" r="1.15"/><circle cx="275.7" cy="140.6" r="1.15"/><circle cx="270.8" cy="164.6" r="1.15"/><circle cx="273.0" cy="161.1" r="1.15"/><circle cx="268.9" cy="167.1" r="1.15"/><circle cx="284.6" cy="168.3" r="1.15"/><circle cx="290.9" cy="167.4" r="1.15"/><circle cx="288.8" cy="167.7" r="1.15"/><circle cx="268.9" cy="167.3" r="1.15"/><circle cx="273.5" cy="159.4" r="1.15"/><circle cx="272.4" cy="159.0" r="1.15"/><circle cx="286.6" cy="167.9" r="1.15"/><circle cx="286.4" cy="159.5" r="1.15"/><circle cx="270.2" cy="159.1" r="1.15"/><circle cx="283.7" cy="161.4" r="1.15"/><circle cx="289.2" cy="164.0" r="1.15"/><circle cx="290.6" cy="166.2" r="1.15"/><circle cx="268.7" cy="159.5" r="1.15"/><circle cx="283.8" cy="168.2" r="1.15"/><circle cx="270.1" cy="156.4" r="1.15"/><circle cx="285.1" cy="165.7" r="1.15"/><circle cx="288.4" cy="167.0" r="1.15"/><circle cx="269.8" cy="163.6" r="1.15"/><circle cx="281.5" cy="165.1" r="1.15"/><circle cx="283.6" cy="164.3" r="1.15"/><circle cx="287.0" cy="167.2" r="1.15"/><circle cx="283.0" cy="165.1" r="1.15"/><circle cx="277.5" cy="161.3" r="1.15"/><circle cx="286.2" cy="164.9" r="1.15"/><circle cx="282.2" cy="148.0" r="1.15"/><circle cx="274.9" cy="162.4" r="1.15"/><circle cx="291.3" cy="167.9" r="1.15"/><circle cx="285.8" cy="159.8" r="1.15"/><circle cx="282.2" cy="165.5" r="1.15"/><circle cx="281.4" cy="141.8" r="1.15"/><circle cx="275.2" cy="161.9" r="1.15"/><circle cx="288.3" cy="164.4" r="1.15"/><circle cx="283.9" cy="165.0" r="1.15"/><circle cx="287.8" cy="161.9" r="1.15"/><circle cx="274.2" cy="156.8" r="1.15"/><circle cx="274.7" cy="168.3" r="1.15"/><circle cx="281.6" cy="164.5" r="1.15"/><circle cx="223.4" cy="57.1" r="1.15"/><circle cx="220.4" cy="73.9" r="1.15"/><circle cx="227.8" cy="91.0" r="1.15"/><circle cx="220.6" cy="97.9" r="1.15"/><circle cx="224.5" cy="97.2" r="1.15"/><circle cx="226.8" cy="98.6" r="1.15"/><circle cx="229.8" cy="103.2" r="1.15"/><circle cx="215.5" cy="110.2" r="1.15"/><circle cx="224.5" cy="113.2" r="1.15"/><circle cx="227.8" cy="111.8" r="1.15"/><circle cx="236.1" cy="113.2" r="1.15"/><circle cx="240.5" cy="111.8" r="1.15"/><circle cx="225.7" cy="117.5" r="1.15"/><circle cx="234.5" cy="116.6" r="1.15"/><circle cx="239.5" cy="116.6" r="1.15"/><circle cx="223.8" cy="122.0" r="1.15"/><circle cx="216.5" cy="121.7" r="1.15"/><circle cx="240.7" cy="124.7" r="1.15"/><circle cx="276.8" cy="119.2" r="1.15"/><circle cx="282.5" cy="122.0" r="1.15"/><circle cx="253.7" cy="133.9" r="1.15"/><circle cx="256.0" cy="137.9" r="1.15"/><circle cx="275.1" cy="143.7" r="1.15"/><circle cx="278.6" cy="146.6" r="1.15"/><circle cx="271.7" cy="147.5" r="1.15"/><circle cx="271.9" cy="149.6" r="1.15"/><circle cx="301.3" cy="156.1" r="1.15"/><circle cx="289.6" cy="162.8" r="1.15"/><circle cx="283.7" cy="153.6" r="1.15"/><circle cx="278.8" cy="153.4" r="1.15"/><circle cx="259.2" cy="155.9" r="1.15"/><circle cx="273.6" cy="154.2" r="1.15"/><circle cx="212.5" cy="162.0" r="1.15"/><circle cx="214.0" cy="158.0" r="1.15"/><circle cx="216.0" cy="150.0" r="1.15"/><circle cx="217.0" cy="145.0" r="1.15"/><circle cx="212.8" cy="140.0" r="1.15"/></g>
</g>
<text transform="translate(103.10,26.90)" font-size="9" text-anchor="middle" font-weight="normal" font-style="normal" fill="#231f20" stroke="#231f20" stroke-width="0.1"  textLength="94.6" lengthAdjust="spacingAndGlyphs">HPC<tspan font-size="7.3" dy="-3.4">LSK</tspan><tspan dy="3.4">, untransformed</tspan></text>
<text transform="translate(103.25,37.70)" font-size="9" text-anchor="middle" font-weight="normal" font-style="normal" fill="#231f20" stroke="#231f20" stroke-width="0.1"  textLength="78.9" lengthAdjust="spacingAndGlyphs"><tspan font-style="italic">Cdk6</tspan><tspan font-size="7.3" dy="-3.8">+/+</tspan><tspan dy="3.8"> vs. </tspan><tspan font-style="italic">Cdk6</tspan><tspan font-size="7.3" dy="-3.8">-/-</tspan><tspan dy="3.8"></tspan></text>
<text transform="translate(263.90,27.30)" font-size="9" text-anchor="middle" font-weight="normal" font-style="normal" fill="#231f20" stroke="#231f20" stroke-width="0.1"  textLength="91.8" lengthAdjust="spacingAndGlyphs">HPC<tspan font-size="7.3" dy="-3.4">LSK</tspan><tspan dy="3.4"> BCR/ABL</tspan><tspan font-size="7.3" dy="-3.4">p210</tspan><tspan dy="3.4"></tspan></text>
<text transform="translate(263.90,37.30)" font-size="9" text-anchor="middle" font-weight="normal" font-style="normal" fill="#231f20" stroke="#231f20" stroke-width="0.1"  textLength="78.2" lengthAdjust="spacingAndGlyphs"><tspan font-style="italic">Cdk6</tspan><tspan font-size="7.3" dy="-3.8">+/+</tspan><tspan dy="3.8"> vs. </tspan><tspan font-style="italic">Cdk6</tspan><tspan font-size="7.3" dy="-3.8">-/-</tspan><tspan dy="3.8"></tspan></text>
<text transform="translate(388.70,27.30)" font-size="9" text-anchor="middle" font-weight="normal" font-style="normal" fill="#231f20" stroke="#231f20" stroke-width="0.1"  textLength="58.4" lengthAdjust="spacingAndGlyphs">Untransformed</text>
<text transform="translate(463.80,27.30)" font-size="9" text-anchor="middle" font-weight="normal" font-style="normal" fill="#231f20" stroke="#231f20" stroke-width="0.1"  textLength="57.1" lengthAdjust="spacingAndGlyphs">BCR/ABL<tspan font-size="7" dy="-3.4">p210</tspan><tspan dy="3.4"></tspan></text>
<defs><clipPath id="cl80"><circle cx="408" cy="80.25" r="33.75"/></clipPath></defs>
<circle cx="408" cy="80.25" r="33.75" fill="#dce8cf"/>
<circle cx="450.25" cy="80.25" r="33.75" fill="#cdd4e1"/>
<circle cx="450.25" cy="80.25" r="33.75" fill="#afbfae" clip-path="url(#cl80)"/>
<circle cx="408" cy="80.25" r="33.4" fill="none" stroke="#76b256" stroke-width="1.2"/>
<circle cx="450.25" cy="80.25" r="33.4" fill="none" stroke="#36589a" stroke-width="1.2"/>
<text transform="translate(394.50,83.25)" font-size="8.3" text-anchor="middle" font-weight="normal" font-style="normal" fill="#231f20" stroke="#231f20" stroke-width="0.2">1267</text>
<text transform="translate(428.80,83.25)" font-size="8.3" text-anchor="middle" font-weight="normal" font-style="normal" fill="#231f20" stroke="#231f20" stroke-width="0.2">68</text>
<text transform="translate(457.50,83.25)" font-size="8.3" text-anchor="middle" font-weight="normal" font-style="normal" fill="#231f20" stroke="#231f20" stroke-width="0.2">17</text>
<text transform="translate(429.20,41.95)" font-size="8" text-anchor="middle" font-weight="normal" font-style="normal" fill="#231f20" stroke="#231f20" stroke-width="0.1"  textLength="72.7" lengthAdjust="spacingAndGlyphs">Up in HPC<tspan font-size="5.8" dy="-2.8">LSK</tspan><tspan dy="2.8" font-style="italic"> Cdk6</tspan><tspan font-size="5.8" dy="-2.8">-/-</tspan><tspan dy="2.8"></tspan></text>
<defs><clipPath id="cl165"><circle cx="408" cy="165" r="33.75"/></clipPath></defs>
<circle cx="408" cy="165" r="33.75" fill="#dce8cf"/>
<circle cx="450.25" cy="165" r="33.75" fill="#cdd4e1"/>
<circle cx="450.25" cy="165" r="33.75" fill="#afbfae" clip-path="url(#cl165)"/>
<circle cx="408" cy="165" r="33.4" fill="none" stroke="#76b256" stroke-width="1.2"/>
<circle cx="450.25" cy="165" r="33.4" fill="none" stroke="#36589a" stroke-width="1.2"/>
<text transform="translate(394.50,168.00)" font-size="8.3" text-anchor="middle" font-weight="normal" font-style="normal" fill="#231f20" stroke="#231f20" stroke-width="0.2">476</text>
<text transform="translate(428.80,168.00)" font-size="8.3" text-anchor="middle" font-weight="normal" font-style="normal" fill="#231f20" stroke="#231f20" stroke-width="0.2">185</text>
<text transform="translate(457.50,168.00)" font-size="8.3" text-anchor="middle" font-weight="normal" font-style="normal" fill="#231f20" stroke="#231f20" stroke-width="0.2">283</text>
<text transform="translate(429.20,126.70)" font-size="8" text-anchor="middle" font-weight="normal" font-style="normal" fill="#231f20" stroke="#231f20" stroke-width="0.1"  textLength="82.5" lengthAdjust="spacingAndGlyphs">Down in HPC<tspan font-size="5.8" dy="-2.8">LSK</tspan><tspan dy="2.8" font-style="italic"> Cdk6</tspan><tspan font-size="5.8" dy="-2.8">-/-</tspan><tspan dy="2.8"></tspan></text>
<line x1="429.50" y1="196.30" x2="429.50" y2="214.00" stroke="#231f20" stroke-width="0.95"/>
<polygon fill="#231f20" points="427.1,211.6 429.5,213.4 431.9,211.6 429.5,218.4"/>
<line x1="113.10" y1="265.00" x2="113.10" y2="407.10" stroke="#231f20" stroke-width="1.1"/>
<line x1="112.60" y1="406.60" x2="166.50" y2="406.60" stroke="#231f20" stroke-width="1.1"/>
<rect x="113.60" y="267.85" width="53.80" height="2.90" fill="#a6112c"/>
<rect x="113.60" y="276.65" width="44.90" height="2.90" fill="#a6112c"/>
<rect x="113.60" y="285.55" width="37.90" height="2.90" fill="#a6112c"/>
<rect x="113.60" y="294.35" width="36.70" height="2.90" fill="#a6112c"/>
<rect x="113.60" y="303.15" width="35.30" height="2.90" fill="#a6112c"/>
<rect x="113.60" y="312.05" width="32.10" height="2.90" fill="#a6112c"/>
<rect x="113.60" y="320.95" width="25.20" height="2.90" fill="#a6112c"/>
<rect x="113.60" y="329.85" width="19.70" height="2.90" fill="#a6112c"/>
<rect x="113.60" y="338.95" width="18.70" height="2.90" fill="#a6112c"/>
<rect x="113.60" y="347.75" width="18.20" height="2.90" fill="#a6112c"/>
<rect x="113.60" y="356.65" width="17.50" height="2.90" fill="#a6112c"/>
<rect x="113.60" y="365.45" width="17.20" height="2.90" fill="#a6112c"/>
<rect x="113.60" y="374.35" width="17.20" height="2.90" fill="#a6112c"/>
<rect x="113.60" y="383.25" width="14.60" height="2.90" fill="#a6112c"/>
<rect x="113.60" y="392.05" width="14.10" height="2.90" fill="#a6112c"/>
<rect x="113.60" y="400.95" width="10.60" height="2.90" fill="#a6112c"/>
<text transform="translate(110.30,271.90) scale(0.885,1)" font-size="8.5" text-anchor="end" font-weight="normal" font-style="normal" fill="#231f20" stroke="#231f20" stroke-width="0.1" >Immune response</text>
<text transform="translate(110.30,280.70) scale(0.885,1)" font-size="8.5" text-anchor="end" font-weight="normal" font-style="normal" fill="#231f20" stroke="#231f20" stroke-width="0.1" >Response to stress</text>
<text transform="translate(110.30,289.60) scale(0.885,1)" font-size="8.5" text-anchor="end" font-weight="normal" font-style="normal" fill="#231f20" stroke="#231f20" stroke-width="0.1" >Cell adhesion</text>
<text transform="translate(110.30,298.40) scale(0.885,1)" font-size="8.5" text-anchor="end" font-weight="normal" font-style="normal" fill="#231f20" stroke="#231f20" stroke-width="0.1" >Leucocyte activation</text>
<text transform="translate(110.30,307.20) scale(0.885,1)" font-size="8.5" text-anchor="end" font-weight="normal" font-style="normal" fill="#231f20" stroke="#231f20" stroke-width="0.1" >Cytokine production</text>
<text transform="translate(110.30,316.10) scale(0.885,1)" font-size="8.5" text-anchor="end" font-weight="normal" font-style="normal" fill="#231f20" stroke="#231f20" stroke-width="0.1" >Cell migration</text>
<text transform="translate(110.30,325.00) scale(0.885,1)" font-size="8.5" text-anchor="end" font-weight="normal" font-style="normal" fill="#231f20" stroke="#231f20" stroke-width="0.1" >Regulation of signaling</text>
<text transform="translate(110.30,333.90) scale(0.885,1)" font-size="8.5" text-anchor="end" font-weight="normal" font-style="normal" fill="#231f20" stroke="#231f20" stroke-width="0.1" >Interleukin-6 production</text>
<text transform="translate(110.30,343.00) scale(0.885,1)" font-size="8.5" text-anchor="end" font-weight="normal" font-style="normal" fill="#231f20" stroke="#231f20" stroke-width="0.1" >Myeloid leukocyte diff.</text>
<text transform="translate(110.30,351.80) scale(0.885,1)" font-size="8.5" text-anchor="end" font-weight="normal" font-style="normal" fill="#231f20" stroke="#231f20" stroke-width="0.1" >Cell death</text>
<text transform="translate(110.30,360.70) scale(0.885,1)" font-size="8.5" text-anchor="end" font-weight="normal" font-style="normal" fill="#231f20" stroke="#231f20" stroke-width="0.1" >Cell proliferation</text>
<text transform="translate(110.30,369.50) scale(0.885,1)" font-size="8.5" text-anchor="end" font-weight="normal" font-style="normal" fill="#231f20" stroke="#231f20" stroke-width="0.1" >Myeloid cell differentiation</text>
<text transform="translate(110.30,378.40) scale(0.885,1)" font-size="8.5" text-anchor="end" font-weight="normal" font-style="normal" fill="#231f20" stroke="#231f20" stroke-width="0.1" >MAPK cascade</text>
<text transform="translate(110.30,387.30) scale(0.885,1)" font-size="8.5" text-anchor="end" font-weight="normal" font-style="normal" fill="#231f20" stroke="#231f20" stroke-width="0.1" >Cytokine signaling pathway</text>
<text transform="translate(110.30,396.10) scale(0.885,1)" font-size="8.5" text-anchor="end" font-weight="normal" font-style="normal" fill="#231f20" stroke="#231f20" stroke-width="0.1" >Apoptotic process</text>
<text transform="translate(110.30,405.00) scale(0.885,1)" font-size="8.5" text-anchor="end" font-weight="normal" font-style="normal" fill="#231f20" stroke="#231f20" stroke-width="0.1" >Interleukin-1 production</text>
<line x1="113.30" y1="406.60" x2="113.30" y2="409.40" stroke="#231f20" stroke-width="0.9"/>
<text transform="translate(113.30,420.00)" font-size="8" text-anchor="middle" font-weight="normal" font-style="normal" fill="#231f20" stroke="#231f20" stroke-width="0.1" >0</text>
<line x1="130.40" y1="406.60" x2="130.40" y2="409.40" stroke="#231f20" stroke-width="0.9"/>
<text transform="translate(130.40,420.00)" font-size="8" text-anchor="middle" font-weight="normal" font-style="normal" fill="#231f20" stroke="#231f20" stroke-width="0.1" >10</text>
<line x1="147.50" y1="406.60" x2="147.50" y2="409.40" stroke="#231f20" stroke-width="0.9"/>
<text transform="translate(147.50,420.00)" font-size="8" text-anchor="middle" font-weight="normal" font-style="normal" fill="#231f20" stroke="#231f20" stroke-width="0.1" >20</text>
<line x1="164.60" y1="406.60" x2="164.60" y2="409.40" stroke="#231f20" stroke-width="0.9"/>
<text transform="translate(164.60,420.00)" font-size="8" text-anchor="middle" font-weight="normal" font-style="normal" fill="#231f20" stroke="#231f20" stroke-width="0.1" >30</text>
<line x1="272.70" y1="265.00" x2="272.70" y2="407.10" stroke="#231f20" stroke-width="1.1"/>
<line x1="272.20" y1="406.60" x2="323.10" y2="406.60" stroke="#231f20" stroke-width="1.1"/>
<rect x="273.20" y="267.85" width="46.10" height="2.90" fill="#a6112c"/>
<rect x="273.20" y="276.65" width="39.90" height="2.90" fill="#a6112c"/>
<rect x="273.20" y="285.55" width="28.80" height="2.90" fill="#a6112c"/>
<rect x="273.20" y="294.35" width="28.20" height="2.90" fill="#a6112c"/>
<rect x="273.20" y="303.15" width="27.60" height="2.90" fill="#a6112c"/>
<rect x="273.20" y="312.05" width="24.80" height="2.90" fill="#a6112c"/>
<rect x="273.20" y="320.95" width="24.40" height="2.90" fill="#a6112c"/>
<rect x="273.20" y="329.85" width="20.10" height="2.90" fill="#a6112c"/>
<rect x="273.20" y="338.95" width="19.40" height="2.90" fill="#a6112c"/>
<rect x="273.20" y="347.75" width="15.60" height="2.90" fill="#a6112c"/>
<rect x="273.20" y="356.65" width="14.50" height="2.90" fill="#a6112c"/>
<rect x="273.20" y="365.45" width="11.90" height="2.90" fill="#a6112c"/>
<rect x="273.20" y="374.35" width="10.70" height="2.90" fill="#a6112c"/>
<rect x="273.20" y="383.25" width="9.70" height="2.90" fill="#a6112c"/>
<rect x="273.20" y="392.05" width="8.90" height="2.90" fill="#a6112c"/>
<rect x="273.20" y="400.95" width="7.80" height="2.90" fill="#a6112c"/>
<text transform="translate(270.20,271.90) scale(0.885,1)" font-size="8.5" text-anchor="end" font-weight="normal" font-style="normal" fill="#231f20" stroke="#231f20" stroke-width="0.1" >Cell adhesion</text>
<text transform="translate(270.20,280.70) scale(0.885,1)" font-size="8.5" text-anchor="end" font-weight="normal" font-style="normal" fill="#231f20" stroke="#231f20" stroke-width="0.1" >Immune system process</text>
<text transform="translate(270.20,289.60) scale(0.885,1)" font-size="8.5" text-anchor="end" font-weight="normal" font-style="normal" fill="#231f20" stroke="#231f20" stroke-width="0.1" >Cell differentiation</text>
<text transform="translate(270.20,298.40) scale(0.885,1)" font-size="8.5" text-anchor="end" font-weight="normal" font-style="normal" fill="#231f20" stroke="#231f20" stroke-width="0.1" >Response to stress</text>
<text transform="translate(270.20,307.20) scale(0.885,1)" font-size="8.5" text-anchor="end" font-weight="normal" font-style="normal" fill="#231f20" stroke="#231f20" stroke-width="0.1" >Cell migration</text>
<text transform="translate(270.20,316.10) scale(0.885,1)" font-size="8.5" text-anchor="end" font-weight="normal" font-style="normal" fill="#231f20" stroke="#231f20" stroke-width="0.1" >Cytokine production</text>
<text transform="translate(270.20,325.00) scale(0.885,1)" font-size="8.5" text-anchor="end" font-weight="normal" font-style="normal" fill="#231f20" stroke="#231f20" stroke-width="0.1" >Regulation of cell proliferation</text>
<text transform="translate(270.20,333.90) scale(0.885,1)" font-size="8.5" text-anchor="end" font-weight="normal" font-style="normal" fill="#231f20" stroke="#231f20" stroke-width="0.1" >Cell proliferation</text>
<text transform="translate(270.20,343.00) scale(0.885,1)" font-size="8.5" text-anchor="end" font-weight="normal" font-style="normal" fill="#231f20" stroke="#231f20" stroke-width="0.1" >Cell-cell adhesion</text>
<text transform="translate(270.20,351.80) scale(0.885,1)" font-size="8.5" text-anchor="end" font-weight="normal" font-style="normal" fill="#231f20" stroke="#231f20" stroke-width="0.1" >Pos. reg. of MAPK cascade</text>
<text transform="translate(270.20,360.70) scale(0.885,1)" font-size="8.5" text-anchor="end" font-weight="normal" font-style="normal" fill="#231f20" stroke="#231f20" stroke-width="0.1" >Cytokine secretion</text>
<text transform="translate(270.20,369.50) scale(0.885,1)" font-size="8.5" text-anchor="end" font-weight="normal" font-style="normal" fill="#231f20" stroke="#231f20" stroke-width="0.1" >Chemokine signaling pathway</text>
<text transform="translate(270.20,378.40) scale(0.885,1)" font-size="8.5" text-anchor="end" font-weight="normal" font-style="normal" fill="#231f20" stroke="#231f20" stroke-width="0.1" >Cell death</text>
<text transform="translate(270.20,387.30) scale(0.885,1)" font-size="8.5" text-anchor="end" font-weight="normal" font-style="normal" fill="#231f20" stroke="#231f20" stroke-width="0.1" >Apoptotic process</text>
<text transform="translate(270.20,396.10) scale(0.885,1)" font-size="8.5" text-anchor="end" font-weight="normal" font-style="normal" fill="#231f20" stroke="#231f20" stroke-width="0.1" >Myeloid leukocyte activation</text>
<text transform="translate(270.20,405.00) scale(0.885,1)" font-size="8.5" text-anchor="end" font-weight="normal" font-style="normal" fill="#231f20" stroke="#231f20" stroke-width="0.1" >Reg. of myeloid cell diff.</text>
<line x1="272.70" y1="406.60" x2="272.70" y2="409.40" stroke="#231f20" stroke-width="0.9"/>
<text transform="translate(272.70,420.00)" font-size="8" text-anchor="middle" font-weight="normal" font-style="normal" fill="#231f20" stroke="#231f20" stroke-width="0.1" >0</text>
<line x1="288.60" y1="406.60" x2="288.60" y2="409.40" stroke="#231f20" stroke-width="0.9"/>
<text transform="translate(288.60,420.00)" font-size="8" text-anchor="middle" font-weight="normal" font-style="normal" fill="#231f20" stroke="#231f20" stroke-width="0.1" >4</text>
<line x1="304.50" y1="406.60" x2="304.50" y2="409.40" stroke="#231f20" stroke-width="0.9"/>
<text transform="translate(304.50,420.00)" font-size="8" text-anchor="middle" font-weight="normal" font-style="normal" fill="#231f20" stroke="#231f20" stroke-width="0.1" >8</text>
<line x1="320.40" y1="406.60" x2="320.40" y2="409.40" stroke="#231f20" stroke-width="0.9"/>
<text transform="translate(320.40,420.00)" font-size="8" text-anchor="middle" font-weight="normal" font-style="normal" fill="#231f20" stroke="#231f20" stroke-width="0.1" >12</text>
<line x1="426.10" y1="265.00" x2="426.10" y2="407.10" stroke="#231f20" stroke-width="1.1"/>
<line x1="425.60" y1="406.60" x2="487.60" y2="406.60" stroke="#231f20" stroke-width="1.1"/>
<rect x="427.60" y="268.45" width="57.40" height="2.50" fill="#bcbcbe"/>
<rect x="427.60" y="277.25" width="35.40" height="2.50" fill="#bcbcbe"/>
<rect x="427.60" y="286.15" width="33.20" height="2.50" fill="#bcbcbe"/>
<rect x="427.60" y="295.05" width="26.80" height="2.50" fill="#bcbcbe"/>
<rect x="427.60" y="303.85" width="19.40" height="2.50" fill="#bcbcbe"/>
<rect x="427.60" y="312.75" width="18.80" height="2.50" fill="#bcbcbe"/>
<rect x="427.60" y="321.55" width="18.80" height="2.50" fill="#bcbcbe"/>
<rect x="427.60" y="330.35" width="18.30" height="2.50" fill="#bcbcbe"/>
<rect x="427.60" y="339.15" width="17.60" height="2.50" fill="#bcbcbe"/>
<rect x="427.60" y="348.05" width="16.20" height="2.50" fill="#bcbcbe"/>
<rect x="427.60" y="357.05" width="15.90" height="2.50" fill="#bcbcbe"/>
<rect x="427.60" y="365.75" width="14.60" height="2.50" fill="#bcbcbe"/>
<rect x="427.60" y="374.55" width="14.30" height="2.50" fill="#bcbcbe"/>
<rect x="427.60" y="383.25" width="14.30" height="2.50" fill="#bcbcbe"/>
<rect x="427.60" y="392.25" width="11.60" height="2.50" fill="#bcbcbe"/>
<rect x="427.60" y="401.15" width="11.60" height="2.50" fill="#bcbcbe"/>
<text transform="translate(420.20,272.30) scale(0.885,1)" font-size="8.5" text-anchor="end" font-weight="normal" font-style="normal" fill="#231f20" stroke="#231f20" stroke-width="0.1" >Immune system process</text>
<text transform="translate(420.20,281.10) scale(0.885,1)" font-size="8.5" text-anchor="end" font-weight="normal" font-style="normal" fill="#231f20" stroke="#231f20" stroke-width="0.1" >Cytokine production</text>
<text transform="translate(420.20,290.00) scale(0.885,1)" font-size="8.5" text-anchor="end" font-weight="normal" font-style="normal" fill="#231f20" stroke="#231f20" stroke-width="0.1" >Cell adhesion</text>
<text transform="translate(420.20,298.90) scale(0.885,1)" font-size="8.5" text-anchor="end" font-weight="normal" font-style="normal" fill="#231f20" stroke="#231f20" stroke-width="0.1" >Response to stress</text>
<text transform="translate(420.20,307.70) scale(0.885,1)" font-size="8.5" text-anchor="end" font-weight="normal" font-style="normal" fill="#231f20" stroke="#231f20" stroke-width="0.1" >Cytokine secretion</text>
<text transform="translate(420.20,316.60) scale(0.885,1)" font-size="8.5" text-anchor="end" font-weight="normal" font-style="normal" fill="#231f20" stroke="#231f20" stroke-width="0.1" >MAPK cascade</text>
<text transform="translate(420.20,325.40) scale(0.885,1)" font-size="8.5" text-anchor="end" font-weight="normal" font-style="normal" fill="#231f20" stroke="#231f20" stroke-width="0.1" >Cell activation</text>
<text transform="translate(420.20,334.20) scale(0.885,1)" font-size="8.5" text-anchor="end" font-weight="normal" font-style="normal" fill="#231f20" stroke="#231f20" stroke-width="0.1" >Reg. of cell proliferation</text>
<text transform="translate(420.20,343.00) scale(0.885,1)" font-size="8.5" text-anchor="end" font-weight="normal" font-style="normal" fill="#231f20" stroke="#231f20" stroke-width="0.1" >Cell-cell adhesion</text>
<text transform="translate(420.20,351.90) scale(0.885,1)" font-size="8.5" text-anchor="end" font-weight="normal" font-style="normal" fill="#231f20" stroke="#231f20" stroke-width="0.1" >Cell migration</text>
<text transform="translate(420.20,360.90) scale(0.885,1)" font-size="8.5" text-anchor="end" font-weight="normal" font-style="normal" fill="#231f20" stroke="#231f20" stroke-width="0.1" >Cell differentiation</text>
<text transform="translate(420.20,369.60) scale(0.885,1)" font-size="8.5" text-anchor="end" font-weight="normal" font-style="normal" fill="#231f20" stroke="#231f20" stroke-width="0.1" >Myeloid cell diff.</text>
<text transform="translate(420.20,378.40) scale(0.885,1)" font-size="8.5" text-anchor="end" font-weight="normal" font-style="normal" fill="#231f20" stroke="#231f20" stroke-width="0.1" >Leucocyte activation</text>
<text transform="translate(420.20,387.10) scale(0.885,1)" font-size="8.5" text-anchor="end" font-weight="normal" font-style="normal" fill="#231f20" stroke="#231f20" stroke-width="0.1" >Cell proliferation</text>
<text transform="translate(420.20,396.10) scale(0.885,1)" font-size="8.5" text-anchor="end" font-weight="normal" font-style="normal" fill="#231f20" stroke="#231f20" stroke-width="0.1" >Myeloid leukocyte activation</text>
<text transform="translate(420.20,405.00) scale(0.885,1)" font-size="8.5" text-anchor="end" font-weight="normal" font-style="normal" fill="#231f20" stroke="#231f20" stroke-width="0.1" >Interleukin-6 production</text>
<line x1="426.10" y1="406.60" x2="426.10" y2="409.40" stroke="#231f20" stroke-width="0.9"/>
<text transform="translate(426.10,420.00)" font-size="8" text-anchor="middle" font-weight="normal" font-style="normal" fill="#231f20" stroke="#231f20" stroke-width="0.1" >0</text>
<line x1="445.50" y1="406.60" x2="445.50" y2="409.40" stroke="#231f20" stroke-width="0.9"/>
<text transform="translate(445.50,420.00)" font-size="8" text-anchor="middle" font-weight="normal" font-style="normal" fill="#231f20" stroke="#231f20" stroke-width="0.1" >2</text>
<line x1="465.00" y1="406.60" x2="465.00" y2="409.40" stroke="#231f20" stroke-width="0.9"/>
<text transform="translate(465.00,420.00)" font-size="8" text-anchor="middle" font-weight="normal" font-style="normal" fill="#231f20" stroke="#231f20" stroke-width="0.1" >4</text>
<line x1="484.50" y1="406.60" x2="484.50" y2="409.40" stroke="#231f20" stroke-width="0.9"/>
<text transform="translate(484.50,420.00)" font-size="8" text-anchor="middle" font-weight="normal" font-style="normal" fill="#231f20" stroke="#231f20" stroke-width="0.1" >6</text>
<text transform="translate(139.80,433.00) scale(0.700,1)" font-size="9.6" text-anchor="middle" font-weight="normal" font-style="normal" fill="#231f20" stroke="#231f20" stroke-width="0.3">-Log<tspan font-size="6.8" dy="2">10</tspan><tspan dy="-2"> FDR</tspan></text>
<text transform="translate(298.50,433.00) scale(0.700,1)" font-size="9.6" text-anchor="middle" font-weight="normal" font-style="normal" fill="#231f20" stroke="#231f20" stroke-width="0.3">-Log<tspan font-size="6.8" dy="2">10</tspan><tspan dy="-2"> FDR</tspan></text>
<text transform="translate(457.00,432.60) scale(0.700,1)" font-size="9.6" text-anchor="middle" font-weight="normal" font-style="normal" fill="#231f20" stroke="#231f20" stroke-width="0.3">-Log<tspan font-size="6.8" dy="2">10</tspan><tspan dy="-2"> FDR</tspan></text>
<text transform="translate(14.80,335.80) rotate(-90) scale(0.675,1)" font-size="9.4" text-anchor="middle" font-weight="normal" font-style="normal" fill="#231f20" stroke="#231f20" stroke-width="0.3">Biological process</text>
<text transform="translate(112.85,245.80)" font-size="9" text-anchor="middle" font-weight="normal" font-style="normal" fill="#231f20" stroke="#231f20" stroke-width="0.1"  textLength="93.9" lengthAdjust="spacingAndGlyphs">HPC<tspan font-size="7.3" dy="-3.4">LSK</tspan><tspan dy="3.4">, untransformed</tspan></text>
<text transform="translate(112.65,256.60)" font-size="9" text-anchor="middle" font-weight="normal" font-style="normal" fill="#231f20" stroke="#231f20" stroke-width="0.1"  textLength="77.9" lengthAdjust="spacingAndGlyphs"><tspan font-style="italic">Cdk6</tspan><tspan font-size="7.3" dy="-3.8">+/+</tspan><tspan dy="3.8"> vs. </tspan><tspan font-style="italic">Cdk6</tspan><tspan font-size="7.3" dy="-3.8">-/-</tspan><tspan dy="3.8"></tspan></text>
<text transform="translate(272.45,245.80)" font-size="9" text-anchor="middle" font-weight="normal" font-style="normal" fill="#231f20" stroke="#231f20" stroke-width="0.1"  textLength="93.1" lengthAdjust="spacingAndGlyphs">HPC<tspan font-size="7.3" dy="-3.4">LSK</tspan><tspan dy="3.4"> BCR/ABL</tspan><tspan font-size="7.3" dy="-3.4">p210</tspan><tspan dy="3.4"></tspan></text>
<text transform="translate(271.85,256.60)" font-size="9" text-anchor="middle" font-weight="normal" font-style="normal" fill="#231f20" stroke="#231f20" stroke-width="0.1"  textLength="78.3" lengthAdjust="spacingAndGlyphs"><tspan font-style="italic">Cdk6</tspan><tspan font-size="7.3" dy="-3.8">+/+</tspan><tspan dy="3.8"> vs. </tspan><tspan font-style="italic">Cdk6</tspan><tspan font-size="7.3" dy="-3.8">-/-</tspan><tspan dy="3.8"></tspan></text>
<text transform="translate(425.80,234.50)" font-size="9" text-anchor="middle" font-weight="normal" font-style="normal" fill="#231f20" stroke="#231f20" stroke-width="0.1"  textLength="90" lengthAdjust="spacingAndGlyphs">GO analysis of overlap</text>
<text transform="translate(426.00,245.40)" font-size="9" text-anchor="middle" font-weight="normal" font-style="normal" fill="#231f20" stroke="#231f20" stroke-width="0.1"  textLength="170" lengthAdjust="spacingAndGlyphs">HPC<tspan font-size="7.3" dy="-3.4">LSK</tspan><tspan dy="3.4"> untransformed and BCR/ABL</tspan><tspan font-size="7.3" dy="-3.4">p210</tspan><tspan dy="3.4"></tspan></text>
<text transform="translate(426.45,256.70)" font-size="9" text-anchor="middle" font-weight="normal" font-style="normal" fill="#231f20" stroke="#231f20" stroke-width="0.1"  textLength="80.1" lengthAdjust="spacingAndGlyphs"><tspan font-style="italic">Cdk6</tspan><tspan font-size="7.3" dy="-3.8">+/+</tspan><tspan dy="3.8"> vs. </tspan><tspan font-style="italic">Cdk6</tspan><tspan font-size="7.3" dy="-3.8">-/-</tspan><tspan dy="3.8"></tspan></text>
<text transform="translate(83.80,478.20)" font-size="9" text-anchor="middle" font-weight="normal" font-style="normal" fill="#231f20" stroke="#231f20" stroke-width="0.1"  textLength="92.2" lengthAdjust="spacingAndGlyphs">HPC<tspan font-size="7.3" dy="-3.4">LSK</tspan><tspan dy="3.4"> BCR/ABL</tspan><tspan font-size="7.3" dy="-3.4">p210</tspan><tspan dy="3.4"></tspan></text>
<text transform="translate(198.15,478.50)" font-size="9" text-anchor="middle" font-weight="normal" font-style="normal" fill="#231f20" stroke="#231f20" stroke-width="0.1"  textLength="52.9" lengthAdjust="spacingAndGlyphs">CML patients</text>
<g shape-rendering="crispEdges">
<path fill="#fbe0d2" d="M32.5 515.50h13.8v1.90h-13.8zM32.5 517.35h13.8v1.90h-13.8zM32.5 519.20h13.8v1.90h-13.8zM32.5 532.16h13.8v1.90h-13.8zM32.5 534.01h13.8v1.90h-13.8zM32.5 619.17h13.8v1.90h-13.8zM46.3 517.35h14.2v1.90h-14.2zM46.3 522.90h14.2v1.90h-14.2zM46.3 524.76h14.2v1.90h-14.2zM46.3 526.61h14.2v1.90h-14.2zM46.3 530.31h14.2v1.90h-14.2zM46.3 543.27h14.2v1.90h-14.2zM60.4 530.31h14.2v1.90h-14.2zM60.4 548.82h14.2v1.90h-14.2zM60.4 550.67h14.2v1.90h-14.2zM88.2 639.53h14.1v1.90h-14.1zM102.2 637.68h14.1v1.90h-14.1zM102.2 641.38h14.1v1.90h-14.1zM116.3 630.28h13.7v1.90h-13.7zM116.3 637.68h13.7v1.90h-13.7zM116.3 641.38h13.7v1.90h-13.7zM116.3 650.64h13.7v1.90h-13.7zM116.3 654.34h13.7v1.90h-13.7zM116.3 656.20h13.7v1.90h-13.7zM116.3 659.90h13.7v1.90h-13.7zM131.5 526.61h3.6v1.90h-3.6zM131.5 535.86h3.6v1.90h-3.6zM131.5 539.57h3.6v1.90h-3.6zM131.5 548.82h3.6v1.90h-3.6zM131.5 554.38h3.6v1.90h-3.6zM131.5 563.63h3.6v1.90h-3.6zM131.5 580.29h3.6v1.90h-3.6zM131.5 593.25h3.6v1.90h-3.6zM131.5 595.10h3.6v1.90h-3.6zM131.5 600.66h3.6v1.90h-3.6zM131.5 604.36h3.6v1.90h-3.6zM131.5 606.21h3.6v1.90h-3.6zM131.5 624.72h3.6v1.90h-3.6zM131.5 626.58h3.6v1.90h-3.6zM131.5 632.13h3.6v1.90h-3.6zM135.1 519.20h3.6v1.90h-3.6zM135.1 572.89h3.6v1.90h-3.6zM135.1 574.74h3.6v1.90h-3.6zM135.1 582.14h3.6v1.90h-3.6zM135.1 600.66h3.6v1.90h-3.6zM135.1 615.47h3.6v1.90h-3.6zM135.1 632.13h3.6v1.90h-3.6zM138.6 521.05h3.6v1.90h-3.6zM138.6 522.90h3.6v1.90h-3.6zM138.6 534.01h3.6v1.90h-3.6zM138.6 552.52h3.6v1.90h-3.6zM138.6 558.08h3.6v1.90h-3.6zM138.6 561.78h3.6v1.90h-3.6zM138.6 571.04h3.6v1.90h-3.6zM138.6 602.51h3.6v1.90h-3.6zM138.6 613.62h3.6v1.90h-3.6zM138.6 615.47h3.6v1.90h-3.6zM138.6 619.17h3.6v1.90h-3.6zM142.2 532.16h3.6v1.90h-3.6zM142.2 556.23h3.6v1.90h-3.6zM142.2 559.93h3.6v1.90h-3.6zM142.2 580.29h3.6v1.90h-3.6zM142.2 598.81h3.6v1.90h-3.6zM145.8 522.90h3.6v1.90h-3.6zM145.8 534.01h3.6v1.90h-3.6zM145.8 545.12h3.6v1.90h-3.6zM145.8 556.23h3.6v1.90h-3.6zM145.8 580.29h3.6v1.90h-3.6zM145.8 584.00h3.6v1.90h-3.6zM149.3 528.46h3.6v1.90h-3.6zM149.3 558.08h3.6v1.90h-3.6zM149.3 567.34h3.6v1.90h-3.6zM149.3 571.04h3.6v1.90h-3.6zM149.3 578.44h3.6v1.90h-3.6zM149.3 589.55h3.6v1.90h-3.6zM149.3 591.40h3.6v1.90h-3.6zM149.3 615.47h3.6v1.90h-3.6zM152.9 519.20h3.6v1.90h-3.6zM152.9 530.31h3.6v1.90h-3.6zM152.9 535.86h3.6v1.90h-3.6zM152.9 541.42h3.6v1.90h-3.6zM152.9 546.97h3.6v1.90h-3.6zM152.9 558.08h3.6v1.90h-3.6zM152.9 578.44h3.6v1.90h-3.6zM152.9 582.14h3.6v1.90h-3.6zM156.5 522.90h3.6v1.90h-3.6zM156.5 530.31h3.6v1.90h-3.6zM156.5 541.42h3.6v1.90h-3.6zM156.5 567.34h3.6v1.90h-3.6zM156.5 596.96h3.6v1.90h-3.6zM156.5 600.66h3.6v1.90h-3.6zM156.5 602.51h3.6v1.90h-3.6zM156.5 606.21h3.6v1.90h-3.6zM156.5 615.47h3.6v1.90h-3.6zM156.5 646.94h3.6v1.90h-3.6zM160.0 537.72h3.6v1.90h-3.6zM160.0 548.82h3.6v1.90h-3.6zM160.0 552.52h3.6v1.90h-3.6zM160.0 591.40h3.6v1.90h-3.6zM160.0 617.32h3.6v1.90h-3.6zM163.6 582.14h3.6v1.90h-3.6zM163.6 602.51h3.6v1.90h-3.6zM163.6 606.21h3.6v1.90h-3.6zM163.6 619.17h3.6v1.90h-3.6zM163.6 637.68h3.6v1.90h-3.6zM167.2 519.20h3.6v1.90h-3.6zM167.2 522.90h3.6v1.90h-3.6zM167.2 552.52h3.6v1.90h-3.6zM167.2 569.19h3.6v1.90h-3.6zM167.2 617.32h3.6v1.90h-3.6zM170.8 519.20h3.6v1.90h-3.6zM170.8 535.86h3.6v1.90h-3.6zM170.8 554.38h3.6v1.90h-3.6zM170.8 561.78h3.6v1.90h-3.6zM170.8 574.74h3.6v1.90h-3.6zM170.8 580.29h3.6v1.90h-3.6zM170.8 591.40h3.6v1.90h-3.6zM174.3 550.67h3.6v1.90h-3.6zM174.3 558.08h3.6v1.90h-3.6zM174.3 572.89h3.6v1.90h-3.6zM174.3 593.25h3.6v1.90h-3.6zM174.3 602.51h3.6v1.90h-3.6zM174.3 635.83h3.6v1.90h-3.6zM177.9 535.86h3.6v1.90h-3.6zM177.9 539.57h3.6v1.90h-3.6zM177.9 559.93h3.6v1.90h-3.6zM177.9 561.78h3.6v1.90h-3.6zM177.9 582.14h3.6v1.90h-3.6zM177.9 595.10h3.6v1.90h-3.6zM177.9 611.76h3.6v1.90h-3.6zM177.9 637.68h3.6v1.90h-3.6zM177.9 646.94h3.6v1.90h-3.6zM181.5 534.01h3.6v1.90h-3.6zM181.5 535.86h3.6v1.90h-3.6zM181.5 559.93h3.6v1.90h-3.6zM181.5 578.44h3.6v1.90h-3.6zM181.5 596.96h3.6v1.90h-3.6zM181.5 602.51h3.6v1.90h-3.6zM181.5 608.06h3.6v1.90h-3.6zM181.5 646.94h3.6v1.90h-3.6zM185.0 534.01h3.6v1.90h-3.6zM185.0 535.86h3.6v1.90h-3.6zM185.0 545.12h3.6v1.90h-3.6zM185.0 548.82h3.6v1.90h-3.6zM185.0 578.44h3.6v1.90h-3.6zM185.0 595.10h3.6v1.90h-3.6zM185.0 604.36h3.6v1.90h-3.6zM185.0 606.21h3.6v1.90h-3.6zM185.0 611.76h3.6v1.90h-3.6zM185.0 658.05h3.6v1.90h-3.6zM188.6 535.86h3.6v1.90h-3.6zM188.6 548.82h3.6v1.90h-3.6zM188.6 552.52h3.6v1.90h-3.6zM188.6 587.70h3.6v1.90h-3.6zM192.2 521.05h3.6v1.90h-3.6zM192.2 545.12h3.6v1.90h-3.6zM192.2 589.55h3.6v1.90h-3.6zM192.2 611.76h3.6v1.90h-3.6zM192.2 615.47h3.6v1.90h-3.6zM192.2 637.68h3.6v1.90h-3.6zM199.3 517.35h3.6v1.90h-3.6zM199.3 522.90h3.6v1.90h-3.6zM202.9 524.76h3.6v1.90h-3.6zM202.9 526.61h3.6v1.90h-3.6zM202.9 576.59h3.6v1.90h-3.6zM202.9 609.91h3.6v1.90h-3.6zM202.9 624.72h3.6v1.90h-3.6zM206.4 628.43h3.6v1.90h-3.6zM206.4 643.24h3.6v1.90h-3.6zM206.4 659.90h3.6v1.90h-3.6zM210.0 515.50h3.6v1.90h-3.6zM210.0 524.76h3.6v1.90h-3.6zM210.0 526.61h3.6v1.90h-3.6zM210.0 543.27h3.6v1.90h-3.6zM210.0 576.59h3.6v1.90h-3.6zM210.0 585.85h3.6v1.90h-3.6zM210.0 648.79h3.6v1.90h-3.6zM213.6 515.50h3.6v1.90h-3.6zM213.6 517.35h3.6v1.90h-3.6zM213.6 524.76h3.6v1.90h-3.6zM213.6 541.42h3.6v1.90h-3.6zM213.6 554.38h3.6v1.90h-3.6zM213.6 621.02h3.6v1.90h-3.6zM213.6 628.43h3.6v1.90h-3.6zM213.6 648.79h3.6v1.90h-3.6zM213.6 661.75h3.6v1.90h-3.6zM217.1 524.76h3.6v1.90h-3.6zM217.1 526.61h3.6v1.90h-3.6zM217.1 600.66h3.6v1.90h-3.6zM217.1 656.20h3.6v1.90h-3.6zM220.7 515.50h3.6v1.90h-3.6zM220.7 572.89h3.6v1.90h-3.6zM220.7 582.14h3.6v1.90h-3.6zM220.7 591.40h3.6v1.90h-3.6zM220.7 609.91h3.6v1.90h-3.6zM220.7 639.53h3.6v1.90h-3.6zM224.3 515.50h3.6v1.90h-3.6zM224.3 522.90h3.6v1.90h-3.6zM224.3 537.72h3.6v1.90h-3.6zM224.3 558.08h3.6v1.90h-3.6zM224.3 622.87h3.6v1.90h-3.6zM224.3 648.79h3.6v1.90h-3.6zM224.3 654.34h3.6v1.90h-3.6zM227.8 556.23h3.6v1.90h-3.6zM227.8 604.36h3.6v1.90h-3.6zM227.8 624.72h3.6v1.90h-3.6zM227.8 628.43h3.6v1.90h-3.6zM227.8 650.64h3.6v1.90h-3.6zM227.8 661.75h3.6v1.90h-3.6zM231.4 515.50h3.6v1.90h-3.6zM231.4 643.24h3.6v1.90h-3.6zM231.4 659.90h3.6v1.90h-3.6zM235.0 576.59h3.6v1.90h-3.6zM235.0 591.40h3.6v1.90h-3.6zM235.0 641.38h3.6v1.90h-3.6zM238.6 522.90h3.6v1.90h-3.6zM238.6 546.97h3.6v1.90h-3.6zM238.6 558.08h3.6v1.90h-3.6zM238.6 571.04h3.6v1.90h-3.6zM238.6 622.87h3.6v1.90h-3.6zM238.6 639.53h3.6v1.90h-3.6zM238.6 658.05h3.6v1.90h-3.6zM242.1 517.35h3.6v1.90h-3.6zM242.1 558.08h3.6v1.90h-3.6zM242.1 600.66h3.6v1.90h-3.6zM245.7 572.89h3.6v1.90h-3.6zM245.7 643.24h3.6v1.90h-3.6zM245.7 652.49h3.6v1.90h-3.6zM245.7 656.20h3.6v1.90h-3.6zM245.7 661.75h3.6v1.90h-3.6zM249.3 515.50h3.6v1.90h-3.6zM249.3 650.64h3.6v1.90h-3.6zM249.3 658.05h3.6v1.90h-3.6zM252.8 517.35h3.6v1.90h-3.6zM252.8 537.72h3.6v1.90h-3.6zM252.8 630.28h3.6v1.90h-3.6zM252.8 633.98h3.6v1.90h-3.6zM252.8 645.09h3.6v1.90h-3.6zM252.8 650.64h3.6v1.90h-3.6zM252.8 656.20h3.6v1.90h-3.6zM256.4 519.20h3.6v1.90h-3.6zM256.4 524.76h3.6v1.90h-3.6zM256.4 543.27h3.6v1.90h-3.6zM256.4 572.89h3.6v1.90h-3.6zM256.4 630.28h3.6v1.90h-3.6zM260.0 624.72h3.6v1.90h-3.6zM260.0 628.43h3.6v1.90h-3.6zM260.0 632.13h3.6v1.90h-3.6zM260.0 641.38h3.6v1.90h-3.6zM263.5 572.89h3.6v1.90h-3.6zM263.5 578.44h3.6v1.90h-3.6zM263.5 628.43h3.6v1.90h-3.6zM263.5 630.28h3.6v1.90h-3.6zM263.5 641.38h3.6v1.90h-3.6zM263.5 643.24h3.6v1.90h-3.6zM263.5 652.49h3.6v1.90h-3.6z"/>
<path fill="#f9d5c4" d="M32.5 521.05h13.8v1.90h-13.8zM32.5 524.76h13.8v1.90h-13.8zM32.5 535.86h13.8v1.90h-13.8zM32.5 537.72h13.8v1.90h-13.8zM32.5 548.82h13.8v1.90h-13.8zM32.5 552.52h13.8v1.90h-13.8zM32.5 576.59h13.8v1.90h-13.8zM46.3 550.67h14.2v1.90h-14.2zM46.3 613.62h14.2v1.90h-14.2zM46.3 615.47h14.2v1.90h-14.2zM60.4 521.05h14.2v1.90h-14.2zM60.4 522.90h14.2v1.90h-14.2zM60.4 543.27h14.2v1.90h-14.2zM60.4 552.52h14.2v1.90h-14.2zM88.2 628.43h14.1v1.90h-14.1zM88.2 659.90h14.1v1.90h-14.1zM102.2 626.58h14.1v1.90h-14.1zM102.2 628.43h14.1v1.90h-14.1zM102.2 635.83h14.1v1.90h-14.1zM102.2 639.53h14.1v1.90h-14.1zM102.2 648.79h14.1v1.90h-14.1zM102.2 652.49h14.1v1.90h-14.1zM116.3 628.43h13.7v1.90h-13.7zM116.3 635.83h13.7v1.90h-13.7zM116.3 639.53h13.7v1.90h-13.7zM116.3 648.79h13.7v1.90h-13.7zM116.3 652.49h13.7v1.90h-13.7zM116.3 658.05h13.7v1.90h-13.7zM131.5 521.05h3.6v1.90h-3.6zM131.5 552.52h3.6v1.90h-3.6zM131.5 565.48h3.6v1.90h-3.6zM131.5 582.14h3.6v1.90h-3.6zM131.5 591.40h3.6v1.90h-3.6zM131.5 596.96h3.6v1.90h-3.6zM131.5 602.51h3.6v1.90h-3.6zM131.5 615.47h3.6v1.90h-3.6zM131.5 617.32h3.6v1.90h-3.6zM135.1 522.90h3.6v1.90h-3.6zM135.1 528.46h3.6v1.90h-3.6zM135.1 552.52h3.6v1.90h-3.6zM135.1 567.34h3.6v1.90h-3.6zM135.1 578.44h3.6v1.90h-3.6zM135.1 587.70h3.6v1.90h-3.6zM135.1 593.25h3.6v1.90h-3.6zM135.1 608.06h3.6v1.90h-3.6zM135.1 626.58h3.6v1.90h-3.6zM138.6 519.20h3.6v1.90h-3.6zM138.6 528.46h3.6v1.90h-3.6zM138.6 535.86h3.6v1.90h-3.6zM138.6 541.42h3.6v1.90h-3.6zM138.6 565.48h3.6v1.90h-3.6zM138.6 580.29h3.6v1.90h-3.6zM138.6 582.14h3.6v1.90h-3.6zM138.6 587.70h3.6v1.90h-3.6zM138.6 608.06h3.6v1.90h-3.6zM142.2 521.05h3.6v1.90h-3.6zM142.2 522.90h3.6v1.90h-3.6zM142.2 528.46h3.6v1.90h-3.6zM142.2 534.01h3.6v1.90h-3.6zM142.2 554.38h3.6v1.90h-3.6zM142.2 567.34h3.6v1.90h-3.6zM142.2 569.19h3.6v1.90h-3.6zM142.2 591.40h3.6v1.90h-3.6zM142.2 595.10h3.6v1.90h-3.6zM142.2 604.36h3.6v1.90h-3.6zM142.2 617.32h3.6v1.90h-3.6zM145.8 521.05h3.6v1.90h-3.6zM145.8 528.46h3.6v1.90h-3.6zM145.8 532.16h3.6v1.90h-3.6zM145.8 539.57h3.6v1.90h-3.6zM145.8 554.38h3.6v1.90h-3.6zM145.8 606.21h3.6v1.90h-3.6zM145.8 617.32h3.6v1.90h-3.6zM149.3 537.72h3.6v1.90h-3.6zM149.3 545.12h3.6v1.90h-3.6zM149.3 554.38h3.6v1.90h-3.6zM149.3 580.29h3.6v1.90h-3.6zM149.3 587.70h3.6v1.90h-3.6zM152.9 521.05h3.6v1.90h-3.6zM152.9 528.46h3.6v1.90h-3.6zM152.9 537.72h3.6v1.90h-3.6zM152.9 550.67h3.6v1.90h-3.6zM152.9 552.52h3.6v1.90h-3.6zM152.9 556.23h3.6v1.90h-3.6zM152.9 589.55h3.6v1.90h-3.6zM152.9 595.10h3.6v1.90h-3.6zM152.9 598.81h3.6v1.90h-3.6zM152.9 606.21h3.6v1.90h-3.6zM152.9 619.17h3.6v1.90h-3.6zM156.5 534.01h3.6v1.90h-3.6zM156.5 550.67h3.6v1.90h-3.6zM156.5 559.93h3.6v1.90h-3.6zM160.0 528.46h3.6v1.90h-3.6zM160.0 565.48h3.6v1.90h-3.6zM160.0 569.19h3.6v1.90h-3.6zM160.0 593.25h3.6v1.90h-3.6zM163.6 522.90h3.6v1.90h-3.6zM163.6 534.01h3.6v1.90h-3.6zM163.6 556.23h3.6v1.90h-3.6zM163.6 578.44h3.6v1.90h-3.6zM163.6 646.94h3.6v1.90h-3.6zM167.2 521.05h3.6v1.90h-3.6zM167.2 528.46h3.6v1.90h-3.6zM167.2 534.01h3.6v1.90h-3.6zM167.2 554.38h3.6v1.90h-3.6zM167.2 567.34h3.6v1.90h-3.6zM167.2 611.76h3.6v1.90h-3.6zM170.8 521.05h3.6v1.90h-3.6zM170.8 522.90h3.6v1.90h-3.6zM170.8 552.52h3.6v1.90h-3.6zM170.8 578.44h3.6v1.90h-3.6zM170.8 608.06h3.6v1.90h-3.6zM170.8 611.76h3.6v1.90h-3.6zM170.8 617.32h3.6v1.90h-3.6zM174.3 561.78h3.6v1.90h-3.6zM174.3 576.59h3.6v1.90h-3.6zM174.3 578.44h3.6v1.90h-3.6zM174.3 580.29h3.6v1.90h-3.6zM174.3 615.47h3.6v1.90h-3.6zM177.9 537.72h3.6v1.90h-3.6zM177.9 550.67h3.6v1.90h-3.6zM177.9 608.06h3.6v1.90h-3.6zM181.5 532.16h3.6v1.90h-3.6zM181.5 545.12h3.6v1.90h-3.6zM181.5 552.52h3.6v1.90h-3.6zM181.5 582.14h3.6v1.90h-3.6zM181.5 584.00h3.6v1.90h-3.6zM181.5 589.55h3.6v1.90h-3.6zM185.0 521.05h3.6v1.90h-3.6zM185.0 574.74h3.6v1.90h-3.6zM185.0 613.62h3.6v1.90h-3.6zM185.0 615.47h3.6v1.90h-3.6zM185.0 617.32h3.6v1.90h-3.6zM188.6 519.20h3.6v1.90h-3.6zM188.6 522.90h3.6v1.90h-3.6zM188.6 526.61h3.6v1.90h-3.6zM188.6 530.31h3.6v1.90h-3.6zM188.6 550.67h3.6v1.90h-3.6zM188.6 572.89h3.6v1.90h-3.6zM192.2 550.67h3.6v1.90h-3.6zM192.2 554.38h3.6v1.90h-3.6zM192.2 559.93h3.6v1.90h-3.6zM192.2 617.32h3.6v1.90h-3.6zM192.2 619.17h3.6v1.90h-3.6zM195.7 545.12h3.6v1.90h-3.6zM195.7 609.91h3.6v1.90h-3.6zM195.7 615.47h3.6v1.90h-3.6zM199.3 584.00h3.6v1.90h-3.6zM199.3 609.91h3.6v1.90h-3.6zM199.3 613.62h3.6v1.90h-3.6zM199.3 630.28h3.6v1.90h-3.6zM199.3 659.90h3.6v1.90h-3.6zM202.9 517.35h3.6v1.90h-3.6zM202.9 600.66h3.6v1.90h-3.6zM202.9 643.24h3.6v1.90h-3.6zM202.9 650.64h3.6v1.90h-3.6zM206.4 600.66h3.6v1.90h-3.6zM206.4 633.98h3.6v1.90h-3.6zM210.0 537.72h3.6v1.90h-3.6zM210.0 541.42h3.6v1.90h-3.6zM210.0 624.72h3.6v1.90h-3.6zM210.0 630.28h3.6v1.90h-3.6zM210.0 632.13h3.6v1.90h-3.6zM213.6 630.28h3.6v1.90h-3.6zM213.6 635.83h3.6v1.90h-3.6zM213.6 652.49h3.6v1.90h-3.6zM213.6 654.34h3.6v1.90h-3.6zM217.1 609.91h3.6v1.90h-3.6zM217.1 628.43h3.6v1.90h-3.6zM217.1 652.49h3.6v1.90h-3.6zM220.7 526.61h3.6v1.90h-3.6zM220.7 593.25h3.6v1.90h-3.6zM220.7 622.87h3.6v1.90h-3.6zM220.7 630.28h3.6v1.90h-3.6zM220.7 661.75h3.6v1.90h-3.6zM224.3 545.12h3.6v1.90h-3.6zM224.3 600.66h3.6v1.90h-3.6zM227.8 517.35h3.6v1.90h-3.6zM227.8 539.57h3.6v1.90h-3.6zM227.8 576.59h3.6v1.90h-3.6zM227.8 645.09h3.6v1.90h-3.6zM231.4 622.87h3.6v1.90h-3.6zM231.4 648.79h3.6v1.90h-3.6zM231.4 652.49h3.6v1.90h-3.6zM235.0 543.27h3.6v1.90h-3.6zM235.0 563.63h3.6v1.90h-3.6zM235.0 624.72h3.6v1.90h-3.6zM235.0 661.75h3.6v1.90h-3.6zM238.6 517.35h3.6v1.90h-3.6zM238.6 600.66h3.6v1.90h-3.6zM238.6 630.28h3.6v1.90h-3.6zM238.6 633.98h3.6v1.90h-3.6zM238.6 635.83h3.6v1.90h-3.6zM238.6 648.79h3.6v1.90h-3.6zM238.6 654.34h3.6v1.90h-3.6zM238.6 661.75h3.6v1.90h-3.6zM242.1 633.98h3.6v1.90h-3.6zM242.1 643.24h3.6v1.90h-3.6zM242.1 658.05h3.6v1.90h-3.6zM245.7 591.40h3.6v1.90h-3.6zM245.7 622.87h3.6v1.90h-3.6zM249.3 622.87h3.6v1.90h-3.6zM249.3 643.24h3.6v1.90h-3.6zM249.3 652.49h3.6v1.90h-3.6zM249.3 656.20h3.6v1.90h-3.6zM249.3 659.90h3.6v1.90h-3.6zM252.8 648.79h3.6v1.90h-3.6zM252.8 659.90h3.6v1.90h-3.6zM256.4 515.50h3.6v1.90h-3.6zM256.4 624.72h3.6v1.90h-3.6zM256.4 648.79h3.6v1.90h-3.6zM256.4 661.75h3.6v1.90h-3.6zM260.0 541.42h3.6v1.90h-3.6zM260.0 648.79h3.6v1.90h-3.6zM260.0 658.05h3.6v1.90h-3.6zM260.0 659.90h3.6v1.90h-3.6zM263.5 517.35h3.6v1.90h-3.6z"/>
<path fill="#f8efeb" d="M32.5 522.90h13.8v1.90h-13.8zM32.5 558.08h13.8v1.90h-13.8zM32.5 615.47h13.8v1.90h-13.8zM32.5 621.02h13.8v1.90h-13.8zM46.3 528.46h14.2v1.90h-14.2zM46.3 532.16h14.2v1.90h-14.2zM60.4 593.25h14.2v1.90h-14.2zM60.4 598.81h14.2v1.90h-14.2zM60.4 606.21h14.2v1.90h-14.2zM88.2 535.86h14.1v1.90h-14.1zM88.2 643.24h14.1v1.90h-14.1zM88.2 650.64h14.1v1.90h-14.1zM88.2 656.20h14.1v1.90h-14.1zM102.2 515.50h14.1v1.90h-14.1zM102.2 522.90h14.1v1.90h-14.1zM102.2 643.24h14.1v1.90h-14.1zM131.5 532.16h3.6v1.90h-3.6zM131.5 541.42h3.6v1.90h-3.6zM131.5 572.89h3.6v1.90h-3.6zM131.5 587.70h3.6v1.90h-3.6zM131.5 613.62h3.6v1.90h-3.6zM131.5 628.43h3.6v1.90h-3.6zM131.5 635.83h3.6v1.90h-3.6zM131.5 646.94h3.6v1.90h-3.6zM135.1 539.57h3.6v1.90h-3.6zM135.1 543.27h3.6v1.90h-3.6zM135.1 609.91h3.6v1.90h-3.6zM135.1 630.28h3.6v1.90h-3.6zM135.1 645.09h3.6v1.90h-3.6zM138.6 539.57h3.6v1.90h-3.6zM138.6 569.19h3.6v1.90h-3.6zM138.6 591.40h3.6v1.90h-3.6zM138.6 600.66h3.6v1.90h-3.6zM138.6 626.58h3.6v1.90h-3.6zM142.2 524.76h3.6v1.90h-3.6zM142.2 550.67h3.6v1.90h-3.6zM142.2 561.78h3.6v1.90h-3.6zM142.2 584.00h3.6v1.90h-3.6zM142.2 585.85h3.6v1.90h-3.6zM142.2 606.21h3.6v1.90h-3.6zM145.8 537.72h3.6v1.90h-3.6zM145.8 546.97h3.6v1.90h-3.6zM145.8 550.67h3.6v1.90h-3.6zM145.8 558.08h3.6v1.90h-3.6zM145.8 559.93h3.6v1.90h-3.6zM145.8 598.81h3.6v1.90h-3.6zM145.8 602.51h3.6v1.90h-3.6zM145.8 609.91h3.6v1.90h-3.6zM149.3 517.35h3.6v1.90h-3.6zM149.3 524.76h3.6v1.90h-3.6zM149.3 559.93h3.6v1.90h-3.6zM149.3 563.63h3.6v1.90h-3.6zM149.3 576.59h3.6v1.90h-3.6zM149.3 606.21h3.6v1.90h-3.6zM149.3 608.06h3.6v1.90h-3.6zM149.3 621.02h3.6v1.90h-3.6zM149.3 646.94h3.6v1.90h-3.6zM152.9 515.50h3.6v1.90h-3.6zM152.9 554.38h3.6v1.90h-3.6zM152.9 567.34h3.6v1.90h-3.6zM152.9 571.04h3.6v1.90h-3.6zM152.9 626.58h3.6v1.90h-3.6zM152.9 635.83h3.6v1.90h-3.6zM152.9 637.68h3.6v1.90h-3.6zM156.5 521.05h3.6v1.90h-3.6zM156.5 526.61h3.6v1.90h-3.6zM156.5 528.46h3.6v1.90h-3.6zM156.5 558.08h3.6v1.90h-3.6zM156.5 571.04h3.6v1.90h-3.6zM156.5 584.00h3.6v1.90h-3.6zM156.5 593.25h3.6v1.90h-3.6zM156.5 621.02h3.6v1.90h-3.6zM160.0 515.50h3.6v1.90h-3.6zM160.0 535.86h3.6v1.90h-3.6zM160.0 543.27h3.6v1.90h-3.6zM160.0 567.34h3.6v1.90h-3.6zM160.0 571.04h3.6v1.90h-3.6zM160.0 572.89h3.6v1.90h-3.6zM160.0 578.44h3.6v1.90h-3.6zM160.0 596.96h3.6v1.90h-3.6zM160.0 602.51h3.6v1.90h-3.6zM160.0 611.76h3.6v1.90h-3.6zM160.0 619.17h3.6v1.90h-3.6zM160.0 650.64h3.6v1.90h-3.6zM163.6 519.20h3.6v1.90h-3.6zM163.6 535.86h3.6v1.90h-3.6zM163.6 541.42h3.6v1.90h-3.6zM163.6 567.34h3.6v1.90h-3.6zM163.6 572.89h3.6v1.90h-3.6zM163.6 584.00h3.6v1.90h-3.6zM163.6 591.40h3.6v1.90h-3.6zM163.6 598.81h3.6v1.90h-3.6zM163.6 604.36h3.6v1.90h-3.6zM163.6 611.76h3.6v1.90h-3.6zM167.2 541.42h3.6v1.90h-3.6zM167.2 548.82h3.6v1.90h-3.6zM167.2 563.63h3.6v1.90h-3.6zM167.2 576.59h3.6v1.90h-3.6zM167.2 585.85h3.6v1.90h-3.6zM167.2 595.10h3.6v1.90h-3.6zM167.2 604.36h3.6v1.90h-3.6zM167.2 632.13h3.6v1.90h-3.6zM167.2 646.94h3.6v1.90h-3.6zM170.8 526.61h3.6v1.90h-3.6zM170.8 528.46h3.6v1.90h-3.6zM170.8 545.12h3.6v1.90h-3.6zM170.8 546.97h3.6v1.90h-3.6zM170.8 565.48h3.6v1.90h-3.6zM170.8 587.70h3.6v1.90h-3.6zM170.8 604.36h3.6v1.90h-3.6zM170.8 615.47h3.6v1.90h-3.6zM170.8 619.17h3.6v1.90h-3.6zM170.8 656.20h3.6v1.90h-3.6zM174.3 556.23h3.6v1.90h-3.6zM174.3 563.63h3.6v1.90h-3.6zM174.3 567.34h3.6v1.90h-3.6zM174.3 574.74h3.6v1.90h-3.6zM174.3 584.00h3.6v1.90h-3.6zM174.3 621.02h3.6v1.90h-3.6zM174.3 643.24h3.6v1.90h-3.6zM177.9 528.46h3.6v1.90h-3.6zM177.9 532.16h3.6v1.90h-3.6zM177.9 554.38h3.6v1.90h-3.6zM177.9 556.23h3.6v1.90h-3.6zM177.9 563.63h3.6v1.90h-3.6zM177.9 574.74h3.6v1.90h-3.6zM177.9 606.21h3.6v1.90h-3.6zM177.9 613.62h3.6v1.90h-3.6zM181.5 522.90h3.6v1.90h-3.6zM181.5 528.46h3.6v1.90h-3.6zM181.5 558.08h3.6v1.90h-3.6zM181.5 565.48h3.6v1.90h-3.6zM181.5 569.19h3.6v1.90h-3.6zM181.5 595.10h3.6v1.90h-3.6zM181.5 615.47h3.6v1.90h-3.6zM185.0 517.35h3.6v1.90h-3.6zM185.0 519.20h3.6v1.90h-3.6zM185.0 539.57h3.6v1.90h-3.6zM185.0 543.27h3.6v1.90h-3.6zM185.0 582.14h3.6v1.90h-3.6zM185.0 584.00h3.6v1.90h-3.6zM185.0 585.85h3.6v1.90h-3.6zM185.0 608.06h3.6v1.90h-3.6zM185.0 609.91h3.6v1.90h-3.6zM188.6 541.42h3.6v1.90h-3.6zM188.6 561.78h3.6v1.90h-3.6zM188.6 595.10h3.6v1.90h-3.6zM188.6 602.51h3.6v1.90h-3.6zM188.6 650.64h3.6v1.90h-3.6zM192.2 537.72h3.6v1.90h-3.6zM192.2 539.57h3.6v1.90h-3.6zM192.2 580.29h3.6v1.90h-3.6zM192.2 626.58h3.6v1.90h-3.6zM199.3 526.61h3.6v1.90h-3.6zM199.3 563.63h3.6v1.90h-3.6zM199.3 632.13h3.6v1.90h-3.6zM199.3 639.53h3.6v1.90h-3.6zM199.3 648.79h3.6v1.90h-3.6zM199.3 650.64h3.6v1.90h-3.6zM202.9 546.97h3.6v1.90h-3.6zM202.9 548.82h3.6v1.90h-3.6zM202.9 550.67h3.6v1.90h-3.6zM202.9 563.63h3.6v1.90h-3.6zM202.9 596.96h3.6v1.90h-3.6zM202.9 621.02h3.6v1.90h-3.6zM202.9 628.43h3.6v1.90h-3.6zM202.9 633.98h3.6v1.90h-3.6zM202.9 645.09h3.6v1.90h-3.6zM202.9 646.94h3.6v1.90h-3.6zM206.4 524.76h3.6v1.90h-3.6zM206.4 539.57h3.6v1.90h-3.6zM206.4 571.04h3.6v1.90h-3.6zM206.4 574.74h3.6v1.90h-3.6zM206.4 596.96h3.6v1.90h-3.6zM206.4 621.02h3.6v1.90h-3.6zM206.4 637.68h3.6v1.90h-3.6zM206.4 639.53h3.6v1.90h-3.6zM206.4 645.09h3.6v1.90h-3.6zM206.4 658.05h3.6v1.90h-3.6zM210.0 628.43h3.6v1.90h-3.6zM213.6 561.78h3.6v1.90h-3.6zM213.6 585.85h3.6v1.90h-3.6zM213.6 604.36h3.6v1.90h-3.6zM213.6 613.62h3.6v1.90h-3.6zM213.6 633.98h3.6v1.90h-3.6zM213.6 637.68h3.6v1.90h-3.6zM213.6 643.24h3.6v1.90h-3.6zM213.6 645.09h3.6v1.90h-3.6zM213.6 650.64h3.6v1.90h-3.6zM217.1 537.72h3.6v1.90h-3.6zM217.1 572.89h3.6v1.90h-3.6zM217.1 576.59h3.6v1.90h-3.6zM217.1 580.29h3.6v1.90h-3.6zM217.1 659.90h3.6v1.90h-3.6zM220.7 524.76h3.6v1.90h-3.6zM220.7 539.57h3.6v1.90h-3.6zM220.7 543.27h3.6v1.90h-3.6zM220.7 567.34h3.6v1.90h-3.6zM220.7 621.02h3.6v1.90h-3.6zM220.7 658.05h3.6v1.90h-3.6zM224.3 519.20h3.6v1.90h-3.6zM224.3 524.76h3.6v1.90h-3.6zM224.3 556.23h3.6v1.90h-3.6zM224.3 582.14h3.6v1.90h-3.6zM224.3 609.91h3.6v1.90h-3.6zM224.3 633.98h3.6v1.90h-3.6zM224.3 637.68h3.6v1.90h-3.6zM224.3 641.38h3.6v1.90h-3.6zM224.3 643.24h3.6v1.90h-3.6zM227.8 600.66h3.6v1.90h-3.6zM227.8 602.51h3.6v1.90h-3.6zM227.8 633.98h3.6v1.90h-3.6zM227.8 643.24h3.6v1.90h-3.6zM227.8 648.79h3.6v1.90h-3.6zM227.8 658.05h3.6v1.90h-3.6zM231.4 537.72h3.6v1.90h-3.6zM231.4 541.42h3.6v1.90h-3.6zM231.4 546.97h3.6v1.90h-3.6zM231.4 558.08h3.6v1.90h-3.6zM231.4 563.63h3.6v1.90h-3.6zM231.4 635.83h3.6v1.90h-3.6zM231.4 639.53h3.6v1.90h-3.6zM231.4 641.38h3.6v1.90h-3.6zM235.0 515.50h3.6v1.90h-3.6zM235.0 519.20h3.6v1.90h-3.6zM235.0 522.90h3.6v1.90h-3.6zM235.0 524.76h3.6v1.90h-3.6zM235.0 545.12h3.6v1.90h-3.6zM235.0 565.48h3.6v1.90h-3.6zM235.0 567.34h3.6v1.90h-3.6zM235.0 595.10h3.6v1.90h-3.6zM235.0 606.21h3.6v1.90h-3.6zM235.0 646.94h3.6v1.90h-3.6zM238.6 519.20h3.6v1.90h-3.6zM238.6 524.76h3.6v1.90h-3.6zM238.6 589.55h3.6v1.90h-3.6zM238.6 641.38h3.6v1.90h-3.6zM238.6 643.24h3.6v1.90h-3.6zM242.1 572.89h3.6v1.90h-3.6zM242.1 585.85h3.6v1.90h-3.6zM242.1 589.55h3.6v1.90h-3.6zM242.1 615.47h3.6v1.90h-3.6zM242.1 632.13h3.6v1.90h-3.6zM242.1 635.83h3.6v1.90h-3.6zM242.1 641.38h3.6v1.90h-3.6zM242.1 646.94h3.6v1.90h-3.6zM242.1 652.49h3.6v1.90h-3.6zM242.1 656.20h3.6v1.90h-3.6zM245.7 528.46h3.6v1.90h-3.6zM245.7 541.42h3.6v1.90h-3.6zM245.7 543.27h3.6v1.90h-3.6zM245.7 567.34h3.6v1.90h-3.6zM245.7 593.25h3.6v1.90h-3.6zM245.7 621.02h3.6v1.90h-3.6zM249.3 517.35h3.6v1.90h-3.6zM249.3 526.61h3.6v1.90h-3.6zM249.3 584.00h3.6v1.90h-3.6zM249.3 596.96h3.6v1.90h-3.6zM249.3 609.91h3.6v1.90h-3.6zM249.3 613.62h3.6v1.90h-3.6zM249.3 630.28h3.6v1.90h-3.6zM249.3 632.13h3.6v1.90h-3.6zM249.3 635.83h3.6v1.90h-3.6zM252.8 543.27h3.6v1.90h-3.6zM252.8 584.00h3.6v1.90h-3.6zM252.8 591.40h3.6v1.90h-3.6zM252.8 596.96h3.6v1.90h-3.6zM252.8 626.58h3.6v1.90h-3.6zM256.4 539.57h3.6v1.90h-3.6zM256.4 580.29h3.6v1.90h-3.6zM256.4 587.70h3.6v1.90h-3.6zM256.4 613.62h3.6v1.90h-3.6zM256.4 635.83h3.6v1.90h-3.6zM256.4 650.64h3.6v1.90h-3.6zM256.4 656.20h3.6v1.90h-3.6zM260.0 519.20h3.6v1.90h-3.6zM260.0 563.63h3.6v1.90h-3.6zM260.0 572.89h3.6v1.90h-3.6zM260.0 576.59h3.6v1.90h-3.6zM260.0 585.85h3.6v1.90h-3.6zM260.0 596.96h3.6v1.90h-3.6zM260.0 598.81h3.6v1.90h-3.6zM263.5 521.05h3.6v1.90h-3.6zM263.5 567.34h3.6v1.90h-3.6zM263.5 585.85h3.6v1.90h-3.6zM263.5 593.25h3.6v1.90h-3.6zM263.5 602.51h3.6v1.90h-3.6zM263.5 609.91h3.6v1.90h-3.6zM263.5 621.02h3.6v1.90h-3.6zM263.5 622.87h3.6v1.90h-3.6zM263.5 635.83h3.6v1.90h-3.6z"/>
<path fill="#d76452" d="M32.5 526.61h13.8v1.90h-13.8zM32.5 530.31h13.8v1.90h-13.8zM60.4 613.62h14.2v1.90h-14.2zM60.4 617.32h14.2v1.90h-14.2zM60.4 622.87h14.2v1.90h-14.2zM131.5 619.17h3.6v1.90h-3.6zM163.6 593.25h3.6v1.90h-3.6zM174.3 591.40h3.6v1.90h-3.6zM177.9 543.27h3.6v1.90h-3.6zM192.2 541.42h3.6v1.90h-3.6zM202.9 632.13h3.6v1.90h-3.6zM202.9 654.34h3.6v1.90h-3.6zM235.0 643.24h3.6v1.90h-3.6zM260.0 661.75h3.6v1.90h-3.6z"/>
<path fill="#e17d64" d="M32.5 528.46h13.8v1.90h-13.8zM46.3 559.93h14.2v1.90h-14.2zM46.3 604.36h14.2v1.90h-14.2zM46.3 608.06h14.2v1.90h-14.2zM60.4 624.72h14.2v1.90h-14.2zM131.5 545.12h3.6v1.90h-3.6zM138.6 584.00h3.6v1.90h-3.6zM138.6 604.36h3.6v1.90h-3.6zM152.9 584.00h3.6v1.90h-3.6zM160.0 609.91h3.6v1.90h-3.6zM170.8 517.35h3.6v1.90h-3.6zM174.3 541.42h3.6v1.90h-3.6zM174.3 608.06h3.6v1.90h-3.6zM188.6 574.74h3.6v1.90h-3.6zM192.2 530.31h3.6v1.90h-3.6zM220.7 632.13h3.6v1.90h-3.6z"/>
<path fill="#fae8de" d="M32.5 539.57h13.8v1.90h-13.8zM32.5 541.42h13.8v1.90h-13.8zM32.5 543.27h13.8v1.90h-13.8zM32.5 554.38h13.8v1.90h-13.8zM32.5 556.23h13.8v1.90h-13.8zM32.5 622.87h13.8v1.90h-13.8zM46.3 519.20h14.2v1.90h-14.2zM46.3 535.86h14.2v1.90h-14.2zM46.3 611.76h14.2v1.90h-14.2zM60.4 567.34h14.2v1.90h-14.2zM60.4 587.70h14.2v1.90h-14.2zM88.2 539.57h14.1v1.90h-14.1zM88.2 641.38h14.1v1.90h-14.1zM88.2 645.09h14.1v1.90h-14.1zM88.2 648.79h14.1v1.90h-14.1zM88.2 652.49h14.1v1.90h-14.1zM88.2 654.34h14.1v1.90h-14.1zM88.2 658.05h14.1v1.90h-14.1zM88.2 661.75h14.1v1.90h-14.1zM102.2 517.35h14.1v1.90h-14.1zM102.2 632.13h14.1v1.90h-14.1zM102.2 633.98h14.1v1.90h-14.1zM102.2 645.09h14.1v1.90h-14.1zM102.2 659.90h14.1v1.90h-14.1zM116.3 632.13h13.7v1.90h-13.7zM116.3 633.98h13.7v1.90h-13.7zM116.3 645.09h13.7v1.90h-13.7zM116.3 646.94h13.7v1.90h-13.7zM116.3 661.75h13.7v1.90h-13.7zM131.5 522.90h3.6v1.90h-3.6zM131.5 543.27h3.6v1.90h-3.6zM131.5 556.23h3.6v1.90h-3.6zM131.5 558.08h3.6v1.90h-3.6zM131.5 561.78h3.6v1.90h-3.6zM135.1 530.31h3.6v1.90h-3.6zM135.1 534.01h3.6v1.90h-3.6zM135.1 545.12h3.6v1.90h-3.6zM135.1 548.82h3.6v1.90h-3.6zM135.1 576.59h3.6v1.90h-3.6zM135.1 580.29h3.6v1.90h-3.6zM135.1 585.85h3.6v1.90h-3.6zM135.1 595.10h3.6v1.90h-3.6zM135.1 604.36h3.6v1.90h-3.6zM135.1 617.32h3.6v1.90h-3.6zM135.1 646.94h3.6v1.90h-3.6zM138.6 537.72h3.6v1.90h-3.6zM138.6 543.27h3.6v1.90h-3.6zM138.6 546.97h3.6v1.90h-3.6zM138.6 548.82h3.6v1.90h-3.6zM138.6 554.38h3.6v1.90h-3.6zM138.6 556.23h3.6v1.90h-3.6zM138.6 563.63h3.6v1.90h-3.6zM138.6 567.34h3.6v1.90h-3.6zM138.6 661.75h3.6v1.90h-3.6zM142.2 519.20h3.6v1.90h-3.6zM142.2 526.61h3.6v1.90h-3.6zM142.2 563.63h3.6v1.90h-3.6zM142.2 593.25h3.6v1.90h-3.6zM142.2 611.76h3.6v1.90h-3.6zM142.2 615.47h3.6v1.90h-3.6zM142.2 619.17h3.6v1.90h-3.6zM142.2 626.58h3.6v1.90h-3.6zM142.2 637.68h3.6v1.90h-3.6zM145.8 515.50h3.6v1.90h-3.6zM145.8 519.20h3.6v1.90h-3.6zM145.8 526.61h3.6v1.90h-3.6zM145.8 548.82h3.6v1.90h-3.6zM145.8 582.14h3.6v1.90h-3.6zM145.8 585.85h3.6v1.90h-3.6zM145.8 596.96h3.6v1.90h-3.6zM145.8 608.06h3.6v1.90h-3.6zM145.8 613.62h3.6v1.90h-3.6zM145.8 628.43h3.6v1.90h-3.6zM145.8 639.53h3.6v1.90h-3.6zM149.3 521.05h3.6v1.90h-3.6zM149.3 522.90h3.6v1.90h-3.6zM149.3 526.61h3.6v1.90h-3.6zM149.3 530.31h3.6v1.90h-3.6zM149.3 539.57h3.6v1.90h-3.6zM149.3 541.42h3.6v1.90h-3.6zM149.3 561.78h3.6v1.90h-3.6zM149.3 572.89h3.6v1.90h-3.6zM149.3 633.98h3.6v1.90h-3.6zM152.9 522.90h3.6v1.90h-3.6zM152.9 593.25h3.6v1.90h-3.6zM152.9 639.53h3.6v1.90h-3.6zM152.9 646.94h3.6v1.90h-3.6zM152.9 658.05h3.6v1.90h-3.6zM156.5 537.72h3.6v1.90h-3.6zM156.5 548.82h3.6v1.90h-3.6zM156.5 556.23h3.6v1.90h-3.6zM156.5 565.48h3.6v1.90h-3.6zM156.5 587.70h3.6v1.90h-3.6zM156.5 591.40h3.6v1.90h-3.6zM156.5 604.36h3.6v1.90h-3.6zM156.5 608.06h3.6v1.90h-3.6zM156.5 617.32h3.6v1.90h-3.6zM156.5 635.83h3.6v1.90h-3.6zM160.0 532.16h3.6v1.90h-3.6zM160.0 534.01h3.6v1.90h-3.6zM160.0 539.57h3.6v1.90h-3.6zM160.0 545.12h3.6v1.90h-3.6zM160.0 595.10h3.6v1.90h-3.6zM160.0 606.21h3.6v1.90h-3.6zM160.0 608.06h3.6v1.90h-3.6zM160.0 628.43h3.6v1.90h-3.6zM160.0 637.68h3.6v1.90h-3.6zM160.0 654.34h3.6v1.90h-3.6zM160.0 658.05h3.6v1.90h-3.6zM163.6 543.27h3.6v1.90h-3.6zM163.6 548.82h3.6v1.90h-3.6zM163.6 550.67h3.6v1.90h-3.6zM163.6 554.38h3.6v1.90h-3.6zM163.6 559.93h3.6v1.90h-3.6zM163.6 569.19h3.6v1.90h-3.6zM163.6 617.32h3.6v1.90h-3.6zM163.6 626.58h3.6v1.90h-3.6zM167.2 535.86h3.6v1.90h-3.6zM167.2 565.48h3.6v1.90h-3.6zM167.2 582.14h3.6v1.90h-3.6zM167.2 587.70h3.6v1.90h-3.6zM167.2 596.96h3.6v1.90h-3.6zM167.2 598.81h3.6v1.90h-3.6zM167.2 637.68h3.6v1.90h-3.6zM170.8 550.67h3.6v1.90h-3.6zM170.8 571.04h3.6v1.90h-3.6zM170.8 585.85h3.6v1.90h-3.6zM170.8 589.55h3.6v1.90h-3.6zM170.8 593.25h3.6v1.90h-3.6zM170.8 596.96h3.6v1.90h-3.6zM170.8 609.91h3.6v1.90h-3.6zM170.8 637.68h3.6v1.90h-3.6zM174.3 522.90h3.6v1.90h-3.6zM174.3 534.01h3.6v1.90h-3.6zM174.3 543.27h3.6v1.90h-3.6zM174.3 545.12h3.6v1.90h-3.6zM174.3 546.97h3.6v1.90h-3.6zM174.3 548.82h3.6v1.90h-3.6zM174.3 565.48h3.6v1.90h-3.6zM174.3 569.19h3.6v1.90h-3.6zM174.3 582.14h3.6v1.90h-3.6zM174.3 598.81h3.6v1.90h-3.6zM174.3 604.36h3.6v1.90h-3.6zM174.3 619.17h3.6v1.90h-3.6zM177.9 546.97h3.6v1.90h-3.6zM177.9 593.25h3.6v1.90h-3.6zM177.9 615.47h3.6v1.90h-3.6zM177.9 619.17h3.6v1.90h-3.6zM177.9 626.58h3.6v1.90h-3.6zM177.9 632.13h3.6v1.90h-3.6zM181.5 521.05h3.6v1.90h-3.6zM181.5 546.97h3.6v1.90h-3.6zM181.5 554.38h3.6v1.90h-3.6zM181.5 598.81h3.6v1.90h-3.6zM181.5 611.76h3.6v1.90h-3.6zM185.0 522.90h3.6v1.90h-3.6zM185.0 559.93h3.6v1.90h-3.6zM185.0 587.70h3.6v1.90h-3.6zM185.0 591.40h3.6v1.90h-3.6zM185.0 593.25h3.6v1.90h-3.6zM185.0 637.68h3.6v1.90h-3.6zM188.6 543.27h3.6v1.90h-3.6zM188.6 554.38h3.6v1.90h-3.6zM188.6 556.23h3.6v1.90h-3.6zM188.6 569.19h3.6v1.90h-3.6zM188.6 582.14h3.6v1.90h-3.6zM188.6 593.25h3.6v1.90h-3.6zM188.6 596.96h3.6v1.90h-3.6zM188.6 598.81h3.6v1.90h-3.6zM188.6 604.36h3.6v1.90h-3.6zM188.6 606.21h3.6v1.90h-3.6zM188.6 611.76h3.6v1.90h-3.6zM192.2 534.01h3.6v1.90h-3.6zM192.2 548.82h3.6v1.90h-3.6zM192.2 552.52h3.6v1.90h-3.6zM192.2 556.23h3.6v1.90h-3.6zM192.2 584.00h3.6v1.90h-3.6zM192.2 585.85h3.6v1.90h-3.6zM192.2 604.36h3.6v1.90h-3.6zM192.2 621.02h3.6v1.90h-3.6zM192.2 632.13h3.6v1.90h-3.6zM195.7 541.42h3.6v1.90h-3.6zM195.7 543.27h3.6v1.90h-3.6zM195.7 548.82h3.6v1.90h-3.6zM195.7 552.52h3.6v1.90h-3.6zM195.7 554.38h3.6v1.90h-3.6zM195.7 559.93h3.6v1.90h-3.6zM195.7 571.04h3.6v1.90h-3.6zM195.7 572.89h3.6v1.90h-3.6zM195.7 578.44h3.6v1.90h-3.6zM195.7 585.85h3.6v1.90h-3.6zM195.7 587.70h3.6v1.90h-3.6zM195.7 593.25h3.6v1.90h-3.6zM195.7 596.96h3.6v1.90h-3.6zM195.7 608.06h3.6v1.90h-3.6zM195.7 628.43h3.6v1.90h-3.6zM195.7 633.98h3.6v1.90h-3.6zM195.7 645.09h3.6v1.90h-3.6zM195.7 648.79h3.6v1.90h-3.6zM195.7 654.34h3.6v1.90h-3.6zM195.7 659.90h3.6v1.90h-3.6zM199.3 543.27h3.6v1.90h-3.6zM199.3 596.96h3.6v1.90h-3.6zM199.3 624.72h3.6v1.90h-3.6zM199.3 643.24h3.6v1.90h-3.6zM199.3 645.09h3.6v1.90h-3.6zM199.3 652.49h3.6v1.90h-3.6zM202.9 545.12h3.6v1.90h-3.6zM202.9 556.23h3.6v1.90h-3.6zM202.9 591.40h3.6v1.90h-3.6zM202.9 613.62h3.6v1.90h-3.6zM202.9 622.87h3.6v1.90h-3.6zM202.9 626.58h3.6v1.90h-3.6zM202.9 641.38h3.6v1.90h-3.6zM202.9 652.49h3.6v1.90h-3.6zM202.9 658.05h3.6v1.90h-3.6zM206.4 526.61h3.6v1.90h-3.6zM206.4 585.85h3.6v1.90h-3.6zM206.4 609.91h3.6v1.90h-3.6zM206.4 622.87h3.6v1.90h-3.6zM206.4 635.83h3.6v1.90h-3.6zM206.4 641.38h3.6v1.90h-3.6zM206.4 652.49h3.6v1.90h-3.6zM206.4 661.75h3.6v1.90h-3.6zM210.0 580.29h3.6v1.90h-3.6zM210.0 582.14h3.6v1.90h-3.6zM210.0 633.98h3.6v1.90h-3.6zM210.0 656.20h3.6v1.90h-3.6zM210.0 659.90h3.6v1.90h-3.6zM213.6 526.61h3.6v1.90h-3.6zM213.6 600.66h3.6v1.90h-3.6zM213.6 615.47h3.6v1.90h-3.6zM213.6 622.87h3.6v1.90h-3.6zM213.6 626.58h3.6v1.90h-3.6zM213.6 639.53h3.6v1.90h-3.6zM213.6 656.20h3.6v1.90h-3.6zM213.6 658.05h3.6v1.90h-3.6zM217.1 519.20h3.6v1.90h-3.6zM217.1 521.05h3.6v1.90h-3.6zM217.1 543.27h3.6v1.90h-3.6zM217.1 552.52h3.6v1.90h-3.6zM217.1 630.28h3.6v1.90h-3.6zM217.1 639.53h3.6v1.90h-3.6zM217.1 641.38h3.6v1.90h-3.6zM217.1 654.34h3.6v1.90h-3.6zM220.7 537.72h3.6v1.90h-3.6zM220.7 545.12h3.6v1.90h-3.6zM220.7 563.63h3.6v1.90h-3.6zM220.7 576.59h3.6v1.90h-3.6zM220.7 584.00h3.6v1.90h-3.6zM220.7 626.58h3.6v1.90h-3.6zM220.7 648.79h3.6v1.90h-3.6zM220.7 650.64h3.6v1.90h-3.6zM224.3 517.35h3.6v1.90h-3.6zM224.3 567.34h3.6v1.90h-3.6zM224.3 596.96h3.6v1.90h-3.6zM224.3 656.20h3.6v1.90h-3.6zM224.3 658.05h3.6v1.90h-3.6zM227.8 515.50h3.6v1.90h-3.6zM227.8 524.76h3.6v1.90h-3.6zM227.8 541.42h3.6v1.90h-3.6zM227.8 563.63h3.6v1.90h-3.6zM227.8 585.85h3.6v1.90h-3.6zM227.8 591.40h3.6v1.90h-3.6zM227.8 632.13h3.6v1.90h-3.6zM227.8 635.83h3.6v1.90h-3.6zM227.8 641.38h3.6v1.90h-3.6zM231.4 548.82h3.6v1.90h-3.6zM231.4 602.51h3.6v1.90h-3.6zM231.4 613.62h3.6v1.90h-3.6zM231.4 624.72h3.6v1.90h-3.6zM231.4 656.20h3.6v1.90h-3.6zM231.4 661.75h3.6v1.90h-3.6zM235.0 541.42h3.6v1.90h-3.6zM235.0 571.04h3.6v1.90h-3.6zM235.0 584.00h3.6v1.90h-3.6zM235.0 585.85h3.6v1.90h-3.6zM235.0 593.25h3.6v1.90h-3.6zM235.0 635.83h3.6v1.90h-3.6zM235.0 637.68h3.6v1.90h-3.6zM235.0 648.79h3.6v1.90h-3.6zM235.0 658.05h3.6v1.90h-3.6zM238.6 528.46h3.6v1.90h-3.6zM238.6 554.38h3.6v1.90h-3.6zM238.6 559.93h3.6v1.90h-3.6zM238.6 602.51h3.6v1.90h-3.6zM238.6 624.72h3.6v1.90h-3.6zM238.6 645.09h3.6v1.90h-3.6zM238.6 652.49h3.6v1.90h-3.6zM238.6 656.20h3.6v1.90h-3.6zM242.1 526.61h3.6v1.90h-3.6zM242.1 534.01h3.6v1.90h-3.6zM242.1 593.25h3.6v1.90h-3.6zM242.1 628.43h3.6v1.90h-3.6zM242.1 645.09h3.6v1.90h-3.6zM245.7 526.61h3.6v1.90h-3.6zM245.7 561.78h3.6v1.90h-3.6zM245.7 580.29h3.6v1.90h-3.6zM245.7 632.13h3.6v1.90h-3.6zM249.3 524.76h3.6v1.90h-3.6zM249.3 558.08h3.6v1.90h-3.6zM249.3 572.89h3.6v1.90h-3.6zM249.3 628.43h3.6v1.90h-3.6zM249.3 633.98h3.6v1.90h-3.6zM249.3 654.34h3.6v1.90h-3.6zM252.8 526.61h3.6v1.90h-3.6zM252.8 571.04h3.6v1.90h-3.6zM252.8 608.06h3.6v1.90h-3.6zM252.8 609.91h3.6v1.90h-3.6zM252.8 624.72h3.6v1.90h-3.6zM252.8 637.68h3.6v1.90h-3.6zM252.8 639.53h3.6v1.90h-3.6zM256.4 535.86h3.6v1.90h-3.6zM256.4 546.97h3.6v1.90h-3.6zM256.4 576.59h3.6v1.90h-3.6zM256.4 593.25h3.6v1.90h-3.6zM256.4 632.13h3.6v1.90h-3.6zM256.4 633.98h3.6v1.90h-3.6zM256.4 639.53h3.6v1.90h-3.6zM256.4 643.24h3.6v1.90h-3.6zM260.0 593.25h3.6v1.90h-3.6zM260.0 643.24h3.6v1.90h-3.6zM263.5 515.50h3.6v1.90h-3.6zM263.5 541.42h3.6v1.90h-3.6zM263.5 546.97h3.6v1.90h-3.6zM263.5 558.08h3.6v1.90h-3.6zM263.5 563.63h3.6v1.90h-3.6zM263.5 596.96h3.6v1.90h-3.6zM263.5 613.62h3.6v1.90h-3.6zM263.5 656.20h3.6v1.90h-3.6z"/>
<path fill="#ea987f" d="M32.5 545.12h13.8v1.90h-13.8zM32.5 563.63h13.8v1.90h-13.8zM32.5 591.40h13.8v1.90h-13.8zM32.5 608.06h13.8v1.90h-13.8zM46.3 565.48h14.2v1.90h-14.2zM46.3 584.00h14.2v1.90h-14.2zM46.3 585.85h14.2v1.90h-14.2zM46.3 596.96h14.2v1.90h-14.2zM46.3 600.66h14.2v1.90h-14.2zM46.3 606.21h14.2v1.90h-14.2zM74.5 626.58h13.8v1.90h-13.8zM74.5 628.43h13.8v1.90h-13.8zM74.5 630.28h13.8v1.90h-13.8zM74.5 639.53h13.8v1.90h-13.8zM74.5 641.38h13.8v1.90h-13.8zM74.5 650.64h13.8v1.90h-13.8zM138.6 598.81h3.6v1.90h-3.6zM142.2 576.59h3.6v1.90h-3.6zM145.8 595.10h3.6v1.90h-3.6zM156.5 563.63h3.6v1.90h-3.6zM156.5 598.81h3.6v1.90h-3.6zM163.6 539.57h3.6v1.90h-3.6zM167.2 550.67h3.6v1.90h-3.6zM167.2 574.74h3.6v1.90h-3.6zM174.3 526.61h3.6v1.90h-3.6zM188.6 584.00h3.6v1.90h-3.6zM206.4 646.94h3.6v1.90h-3.6zM224.3 650.64h3.6v1.90h-3.6zM231.4 517.35h3.6v1.90h-3.6z"/>
<path fill="#f8cab6" d="M32.5 546.97h13.8v1.90h-13.8zM32.5 550.67h13.8v1.90h-13.8zM32.5 559.93h13.8v1.90h-13.8zM32.5 574.74h13.8v1.90h-13.8zM46.3 537.72h14.2v1.90h-14.2zM46.3 556.23h14.2v1.90h-14.2zM46.3 574.74h14.2v1.90h-14.2zM46.3 617.32h14.2v1.90h-14.2zM46.3 622.87h14.2v1.90h-14.2zM60.4 515.50h14.2v1.90h-14.2zM60.4 517.35h14.2v1.90h-14.2zM60.4 524.76h14.2v1.90h-14.2zM60.4 526.61h14.2v1.90h-14.2zM60.4 528.46h14.2v1.90h-14.2zM60.4 532.16h14.2v1.90h-14.2zM60.4 535.86h14.2v1.90h-14.2zM60.4 541.42h14.2v1.90h-14.2zM60.4 546.97h14.2v1.90h-14.2zM60.4 611.76h14.2v1.90h-14.2zM88.2 635.83h14.1v1.90h-14.1zM102.2 646.94h14.1v1.90h-14.1zM102.2 650.64h14.1v1.90h-14.1zM102.2 654.34h14.1v1.90h-14.1zM102.2 656.20h14.1v1.90h-14.1zM116.3 626.58h13.7v1.90h-13.7zM131.5 519.20h3.6v1.90h-3.6zM131.5 578.44h3.6v1.90h-3.6zM131.5 637.68h3.6v1.90h-3.6zM135.1 532.16h3.6v1.90h-3.6zM135.1 541.42h3.6v1.90h-3.6zM135.1 546.97h3.6v1.90h-3.6zM135.1 565.48h3.6v1.90h-3.6zM135.1 613.62h3.6v1.90h-3.6zM135.1 621.02h3.6v1.90h-3.6zM138.6 550.67h3.6v1.90h-3.6zM138.6 595.10h3.6v1.90h-3.6zM138.6 611.76h3.6v1.90h-3.6zM138.6 637.68h3.6v1.90h-3.6zM142.2 589.55h3.6v1.90h-3.6zM142.2 602.51h3.6v1.90h-3.6zM145.8 574.74h3.6v1.90h-3.6zM145.8 576.59h3.6v1.90h-3.6zM149.3 582.14h3.6v1.90h-3.6zM149.3 585.85h3.6v1.90h-3.6zM149.3 602.51h3.6v1.90h-3.6zM149.3 626.58h3.6v1.90h-3.6zM152.9 543.27h3.6v1.90h-3.6zM152.9 545.12h3.6v1.90h-3.6zM152.9 561.78h3.6v1.90h-3.6zM152.9 580.29h3.6v1.90h-3.6zM152.9 585.85h3.6v1.90h-3.6zM152.9 591.40h3.6v1.90h-3.6zM152.9 611.76h3.6v1.90h-3.6zM156.5 539.57h3.6v1.90h-3.6zM156.5 632.13h3.6v1.90h-3.6zM160.0 587.70h3.6v1.90h-3.6zM160.0 589.55h3.6v1.90h-3.6zM163.6 528.46h3.6v1.90h-3.6zM163.6 530.31h3.6v1.90h-3.6zM163.6 532.16h3.6v1.90h-3.6zM163.6 552.52h3.6v1.90h-3.6zM163.6 595.10h3.6v1.90h-3.6zM163.6 608.06h3.6v1.90h-3.6zM167.2 543.27h3.6v1.90h-3.6zM167.2 578.44h3.6v1.90h-3.6zM167.2 606.21h3.6v1.90h-3.6zM170.8 532.16h3.6v1.90h-3.6zM174.3 587.70h3.6v1.90h-3.6zM174.3 611.76h3.6v1.90h-3.6zM177.9 545.12h3.6v1.90h-3.6zM177.9 569.19h3.6v1.90h-3.6zM177.9 571.04h3.6v1.90h-3.6zM181.5 530.31h3.6v1.90h-3.6zM181.5 574.74h3.6v1.90h-3.6zM181.5 587.70h3.6v1.90h-3.6zM185.0 530.31h3.6v1.90h-3.6zM185.0 546.97h3.6v1.90h-3.6zM185.0 550.67h3.6v1.90h-3.6zM185.0 619.17h3.6v1.90h-3.6zM188.6 537.72h3.6v1.90h-3.6zM188.6 571.04h3.6v1.90h-3.6zM188.6 615.47h3.6v1.90h-3.6zM188.6 617.32h3.6v1.90h-3.6zM192.2 522.90h3.6v1.90h-3.6zM192.2 528.46h3.6v1.90h-3.6zM192.2 565.48h3.6v1.90h-3.6zM192.2 576.59h3.6v1.90h-3.6zM192.2 598.81h3.6v1.90h-3.6zM192.2 602.51h3.6v1.90h-3.6zM199.3 561.78h3.6v1.90h-3.6zM199.3 572.89h3.6v1.90h-3.6zM199.3 654.34h3.6v1.90h-3.6zM199.3 656.20h3.6v1.90h-3.6zM199.3 661.75h3.6v1.90h-3.6zM202.9 648.79h3.6v1.90h-3.6zM206.4 632.13h3.6v1.90h-3.6zM206.4 654.34h3.6v1.90h-3.6zM210.0 535.86h3.6v1.90h-3.6zM210.0 584.00h3.6v1.90h-3.6zM210.0 604.36h3.6v1.90h-3.6zM210.0 641.38h3.6v1.90h-3.6zM213.6 609.91h3.6v1.90h-3.6zM217.1 632.13h3.6v1.90h-3.6zM217.1 645.09h3.6v1.90h-3.6zM220.7 628.43h3.6v1.90h-3.6zM220.7 633.98h3.6v1.90h-3.6zM220.7 641.38h3.6v1.90h-3.6zM220.7 654.34h3.6v1.90h-3.6zM224.3 526.61h3.6v1.90h-3.6zM224.3 591.40h3.6v1.90h-3.6zM224.3 661.75h3.6v1.90h-3.6zM227.8 630.28h3.6v1.90h-3.6zM227.8 652.49h3.6v1.90h-3.6zM231.4 645.09h3.6v1.90h-3.6zM231.4 650.64h3.6v1.90h-3.6zM235.0 517.35h3.6v1.90h-3.6zM238.6 650.64h3.6v1.90h-3.6zM238.6 659.90h3.6v1.90h-3.6zM242.1 580.29h3.6v1.90h-3.6zM242.1 613.62h3.6v1.90h-3.6zM242.1 639.53h3.6v1.90h-3.6zM245.7 624.72h3.6v1.90h-3.6zM245.7 626.58h3.6v1.90h-3.6zM245.7 635.83h3.6v1.90h-3.6zM245.7 654.34h3.6v1.90h-3.6zM249.3 661.75h3.6v1.90h-3.6zM252.8 515.50h3.6v1.90h-3.6zM252.8 613.62h3.6v1.90h-3.6zM252.8 621.02h3.6v1.90h-3.6zM252.8 622.87h3.6v1.90h-3.6zM252.8 635.83h3.6v1.90h-3.6zM252.8 641.38h3.6v1.90h-3.6zM252.8 661.75h3.6v1.90h-3.6zM256.4 652.49h3.6v1.90h-3.6zM260.0 515.50h3.6v1.90h-3.6zM260.0 622.87h3.6v1.90h-3.6zM260.0 633.98h3.6v1.90h-3.6zM260.0 652.49h3.6v1.90h-3.6z"/>
<path fill="#f4b49a" d="M32.5 561.78h13.8v1.90h-13.8zM32.5 567.34h13.8v1.90h-13.8zM32.5 569.19h13.8v1.90h-13.8zM32.5 578.44h13.8v1.90h-13.8zM32.5 593.25h13.8v1.90h-13.8zM32.5 596.96h13.8v1.90h-13.8zM32.5 600.66h13.8v1.90h-13.8zM46.3 539.57h14.2v1.90h-14.2zM46.3 546.97h14.2v1.90h-14.2zM46.3 548.82h14.2v1.90h-14.2zM46.3 567.34h14.2v1.90h-14.2zM46.3 571.04h14.2v1.90h-14.2zM46.3 572.89h14.2v1.90h-14.2zM46.3 587.70h14.2v1.90h-14.2zM46.3 593.25h14.2v1.90h-14.2zM46.3 595.10h14.2v1.90h-14.2zM60.4 554.38h14.2v1.90h-14.2zM74.5 633.98h13.8v1.90h-13.8zM74.5 645.09h13.8v1.90h-13.8zM74.5 648.79h13.8v1.90h-13.8zM131.5 550.67h3.6v1.90h-3.6zM131.5 574.74h3.6v1.90h-3.6zM135.1 521.05h3.6v1.90h-3.6zM135.1 550.67h3.6v1.90h-3.6zM135.1 554.38h3.6v1.90h-3.6zM138.6 532.16h3.6v1.90h-3.6zM138.6 559.93h3.6v1.90h-3.6zM138.6 578.44h3.6v1.90h-3.6zM138.6 593.25h3.6v1.90h-3.6zM138.6 617.32h3.6v1.90h-3.6zM142.2 545.12h3.6v1.90h-3.6zM142.2 548.82h3.6v1.90h-3.6zM142.2 552.52h3.6v1.90h-3.6zM145.8 571.04h3.6v1.90h-3.6zM149.3 552.52h3.6v1.90h-3.6zM149.3 569.19h3.6v1.90h-3.6zM149.3 617.32h3.6v1.90h-3.6zM152.9 576.59h3.6v1.90h-3.6zM156.5 545.12h3.6v1.90h-3.6zM156.5 546.97h3.6v1.90h-3.6zM156.5 574.74h3.6v1.90h-3.6zM156.5 576.59h3.6v1.90h-3.6zM160.0 521.05h3.6v1.90h-3.6zM160.0 530.31h3.6v1.90h-3.6zM160.0 550.67h3.6v1.90h-3.6zM160.0 561.78h3.6v1.90h-3.6zM160.0 615.47h3.6v1.90h-3.6zM163.6 565.48h3.6v1.90h-3.6zM167.2 530.31h3.6v1.90h-3.6zM170.8 530.31h3.6v1.90h-3.6zM174.3 530.31h3.6v1.90h-3.6zM177.9 548.82h3.6v1.90h-3.6zM177.9 589.55h3.6v1.90h-3.6zM177.9 617.32h3.6v1.90h-3.6zM181.5 550.67h3.6v1.90h-3.6zM181.5 606.21h3.6v1.90h-3.6zM185.0 552.52h3.6v1.90h-3.6zM188.6 532.16h3.6v1.90h-3.6zM188.6 585.85h3.6v1.90h-3.6zM192.2 543.27h3.6v1.90h-3.6zM192.2 567.34h3.6v1.90h-3.6zM202.9 630.28h3.6v1.90h-3.6zM202.9 661.75h3.6v1.90h-3.6zM210.0 654.34h3.6v1.90h-3.6zM210.0 661.75h3.6v1.90h-3.6zM213.6 624.72h3.6v1.90h-3.6zM217.1 637.68h3.6v1.90h-3.6zM220.7 596.96h3.6v1.90h-3.6zM220.7 652.49h3.6v1.90h-3.6zM224.3 652.49h3.6v1.90h-3.6zM227.8 654.34h3.6v1.90h-3.6zM235.0 630.28h3.6v1.90h-3.6zM242.1 650.64h3.6v1.90h-3.6zM252.8 643.24h3.6v1.90h-3.6zM256.4 645.09h3.6v1.90h-3.6zM263.5 591.40h3.6v1.90h-3.6zM263.5 624.72h3.6v1.90h-3.6z"/>
<path fill="#efa68d" d="M32.5 565.48h13.8v1.90h-13.8zM32.5 572.89h13.8v1.90h-13.8zM32.5 585.85h13.8v1.90h-13.8zM32.5 598.81h13.8v1.90h-13.8zM32.5 606.21h13.8v1.90h-13.8zM32.5 609.91h13.8v1.90h-13.8zM32.5 611.76h13.8v1.90h-13.8zM46.3 545.12h14.2v1.90h-14.2zM46.3 558.08h14.2v1.90h-14.2zM46.3 569.19h14.2v1.90h-14.2zM46.3 589.55h14.2v1.90h-14.2zM46.3 591.40h14.2v1.90h-14.2zM46.3 598.81h14.2v1.90h-14.2zM46.3 609.91h14.2v1.90h-14.2zM60.4 545.12h14.2v1.90h-14.2zM60.4 556.23h14.2v1.90h-14.2zM74.5 643.24h13.8v1.90h-13.8zM74.5 646.94h13.8v1.90h-13.8zM74.5 652.49h13.8v1.90h-13.8zM74.5 656.20h13.8v1.90h-13.8zM74.5 658.05h13.8v1.90h-13.8zM74.5 659.90h13.8v1.90h-13.8zM88.2 630.28h14.1v1.90h-14.1zM131.5 530.31h3.6v1.90h-3.6zM131.5 546.97h3.6v1.90h-3.6zM138.6 589.55h3.6v1.90h-3.6zM142.2 565.48h3.6v1.90h-3.6zM142.2 582.14h3.6v1.90h-3.6zM142.2 646.94h3.6v1.90h-3.6zM145.8 530.31h3.6v1.90h-3.6zM145.8 552.52h3.6v1.90h-3.6zM145.8 565.48h3.6v1.90h-3.6zM145.8 578.44h3.6v1.90h-3.6zM145.8 587.70h3.6v1.90h-3.6zM145.8 589.55h3.6v1.90h-3.6zM145.8 593.25h3.6v1.90h-3.6zM145.8 615.47h3.6v1.90h-3.6zM149.3 550.67h3.6v1.90h-3.6zM149.3 598.81h3.6v1.90h-3.6zM152.9 565.48h3.6v1.90h-3.6zM152.9 569.19h3.6v1.90h-3.6zM152.9 587.70h3.6v1.90h-3.6zM156.5 552.52h3.6v1.90h-3.6zM160.0 598.81h3.6v1.90h-3.6zM174.3 585.85h3.6v1.90h-3.6zM174.3 617.32h3.6v1.90h-3.6zM188.6 559.93h3.6v1.90h-3.6zM192.2 578.44h3.6v1.90h-3.6zM192.2 595.10h3.6v1.90h-3.6zM210.0 635.83h3.6v1.90h-3.6zM242.1 524.76h3.6v1.90h-3.6zM242.1 659.90h3.6v1.90h-3.6zM245.7 648.79h3.6v1.90h-3.6zM245.7 659.90h3.6v1.90h-3.6zM263.5 650.64h3.6v1.90h-3.6z"/>
<path fill="#f6bfa8" d="M32.5 571.04h13.8v1.90h-13.8zM32.5 584.00h13.8v1.90h-13.8zM32.5 587.70h13.8v1.90h-13.8zM32.5 602.51h13.8v1.90h-13.8zM46.3 521.05h14.2v1.90h-14.2zM46.3 534.01h14.2v1.90h-14.2zM46.3 541.42h14.2v1.90h-14.2zM46.3 552.52h14.2v1.90h-14.2zM46.3 554.38h14.2v1.90h-14.2zM46.3 619.17h14.2v1.90h-14.2zM46.3 621.02h14.2v1.90h-14.2zM60.4 519.20h14.2v1.90h-14.2zM60.4 534.01h14.2v1.90h-14.2zM60.4 537.72h14.2v1.90h-14.2zM60.4 539.57h14.2v1.90h-14.2zM74.5 632.13h13.8v1.90h-13.8zM88.2 626.58h14.1v1.90h-14.1zM88.2 632.13h14.1v1.90h-14.1zM88.2 633.98h14.1v1.90h-14.1zM88.2 637.68h14.1v1.90h-14.1zM102.2 630.28h14.1v1.90h-14.1zM102.2 658.05h14.1v1.90h-14.1zM102.2 661.75h14.1v1.90h-14.1zM131.5 585.85h3.6v1.90h-3.6zM131.5 589.55h3.6v1.90h-3.6zM131.5 598.81h3.6v1.90h-3.6zM131.5 611.76h3.6v1.90h-3.6zM135.1 569.19h3.6v1.90h-3.6zM135.1 571.04h3.6v1.90h-3.6zM135.1 589.55h3.6v1.90h-3.6zM138.6 530.31h3.6v1.90h-3.6zM138.6 545.12h3.6v1.90h-3.6zM138.6 606.21h3.6v1.90h-3.6zM138.6 646.94h3.6v1.90h-3.6zM142.2 530.31h3.6v1.90h-3.6zM142.2 535.86h3.6v1.90h-3.6zM142.2 574.74h3.6v1.90h-3.6zM142.2 578.44h3.6v1.90h-3.6zM142.2 587.70h3.6v1.90h-3.6zM145.8 569.19h3.6v1.90h-3.6zM145.8 591.40h3.6v1.90h-3.6zM145.8 646.94h3.6v1.90h-3.6zM149.3 534.01h3.6v1.90h-3.6zM149.3 565.48h3.6v1.90h-3.6zM149.3 574.74h3.6v1.90h-3.6zM149.3 604.36h3.6v1.90h-3.6zM149.3 619.17h3.6v1.90h-3.6zM152.9 534.01h3.6v1.90h-3.6zM152.9 574.74h3.6v1.90h-3.6zM156.5 532.16h3.6v1.90h-3.6zM156.5 554.38h3.6v1.90h-3.6zM156.5 561.78h3.6v1.90h-3.6zM156.5 580.29h3.6v1.90h-3.6zM156.5 589.55h3.6v1.90h-3.6zM156.5 637.68h3.6v1.90h-3.6zM160.0 522.90h3.6v1.90h-3.6zM160.0 574.74h3.6v1.90h-3.6zM160.0 585.85h3.6v1.90h-3.6zM163.6 521.05h3.6v1.90h-3.6zM163.6 571.04h3.6v1.90h-3.6zM163.6 589.55h3.6v1.90h-3.6zM167.2 556.23h3.6v1.90h-3.6zM167.2 589.55h3.6v1.90h-3.6zM167.2 615.47h3.6v1.90h-3.6zM170.8 541.42h3.6v1.90h-3.6zM170.8 559.93h3.6v1.90h-3.6zM174.3 552.52h3.6v1.90h-3.6zM174.3 589.55h3.6v1.90h-3.6zM174.3 596.96h3.6v1.90h-3.6zM174.3 606.21h3.6v1.90h-3.6zM177.9 530.31h3.6v1.90h-3.6zM177.9 587.70h3.6v1.90h-3.6zM181.5 617.32h3.6v1.90h-3.6zM185.0 532.16h3.6v1.90h-3.6zM185.0 565.48h3.6v1.90h-3.6zM185.0 589.55h3.6v1.90h-3.6zM185.0 596.96h3.6v1.90h-3.6zM188.6 578.44h3.6v1.90h-3.6zM188.6 589.55h3.6v1.90h-3.6zM192.2 535.86h3.6v1.90h-3.6zM192.2 569.19h3.6v1.90h-3.6zM192.2 587.70h3.6v1.90h-3.6zM192.2 645.09h3.6v1.90h-3.6zM206.4 630.28h3.6v1.90h-3.6zM210.0 567.34h3.6v1.90h-3.6zM210.0 572.89h3.6v1.90h-3.6zM217.1 622.87h3.6v1.90h-3.6zM217.1 650.64h3.6v1.90h-3.6zM220.7 517.35h3.6v1.90h-3.6zM224.3 630.28h3.6v1.90h-3.6zM231.4 524.76h3.6v1.90h-3.6zM231.4 630.28h3.6v1.90h-3.6zM235.0 622.87h3.6v1.90h-3.6zM235.0 650.64h3.6v1.90h-3.6zM242.1 622.87h3.6v1.90h-3.6zM242.1 630.28h3.6v1.90h-3.6zM242.1 661.75h3.6v1.90h-3.6zM249.3 648.79h3.6v1.90h-3.6zM252.8 558.08h3.6v1.90h-3.6zM256.4 641.38h3.6v1.90h-3.6zM256.4 654.34h3.6v1.90h-3.6zM260.0 630.28h3.6v1.90h-3.6zM260.0 635.83h3.6v1.90h-3.6zM263.5 526.61h3.6v1.90h-3.6zM263.5 645.09h3.6v1.90h-3.6zM263.5 661.75h3.6v1.90h-3.6z"/>
<path fill="#e68b72" d="M32.5 580.29h13.8v1.90h-13.8zM32.5 589.55h13.8v1.90h-13.8zM32.5 595.10h13.8v1.90h-13.8zM32.5 604.36h13.8v1.90h-13.8zM46.3 561.78h14.2v1.90h-14.2zM46.3 576.59h14.2v1.90h-14.2zM46.3 578.44h14.2v1.90h-14.2zM46.3 580.29h14.2v1.90h-14.2zM46.3 602.51h14.2v1.90h-14.2zM74.5 635.83h13.8v1.90h-13.8zM74.5 637.68h13.8v1.90h-13.8zM74.5 654.34h13.8v1.90h-13.8zM74.5 661.75h13.8v1.90h-13.8zM131.5 584.00h3.6v1.90h-3.6zM135.1 559.93h3.6v1.90h-3.6zM135.1 596.96h3.6v1.90h-3.6zM152.9 517.35h3.6v1.90h-3.6zM152.9 532.16h3.6v1.90h-3.6zM152.9 615.47h3.6v1.90h-3.6zM163.6 574.74h3.6v1.90h-3.6zM177.9 578.44h3.6v1.90h-3.6zM195.7 567.34h3.6v1.90h-3.6zM195.7 598.81h3.6v1.90h-3.6zM195.7 611.76h3.6v1.90h-3.6zM206.4 648.79h3.6v1.90h-3.6zM227.8 646.94h3.6v1.90h-3.6zM235.0 652.49h3.6v1.90h-3.6zM242.1 654.34h3.6v1.90h-3.6zM263.5 648.79h3.6v1.90h-3.6z"/>
<path fill="#dc6f57" d="M32.5 582.14h13.8v1.90h-13.8zM46.3 563.63h14.2v1.90h-14.2zM60.4 621.02h14.2v1.90h-14.2zM135.1 606.21h3.6v1.90h-3.6zM138.6 574.74h3.6v1.90h-3.6zM156.5 582.14h3.6v1.90h-3.6zM167.2 619.17h3.6v1.90h-3.6zM177.9 522.90h3.6v1.90h-3.6zM185.0 580.29h3.6v1.90h-3.6zM195.7 641.38h3.6v1.90h-3.6zM199.3 628.43h3.6v1.90h-3.6zM210.0 658.05h3.6v1.90h-3.6zM213.6 659.90h3.6v1.90h-3.6zM217.1 661.75h3.6v1.90h-3.6z"/>
<path fill="#eef2f5" d="M32.5 613.62h13.8v1.90h-13.8zM32.5 632.13h13.8v1.90h-13.8zM32.5 639.53h13.8v1.90h-13.8zM32.5 641.38h13.8v1.90h-13.8zM46.3 515.50h14.2v1.90h-14.2zM60.4 565.48h14.2v1.90h-14.2zM60.4 578.44h14.2v1.90h-14.2zM88.2 522.90h14.1v1.90h-14.1zM88.2 530.31h14.1v1.90h-14.1zM88.2 543.27h14.1v1.90h-14.1zM131.5 569.19h3.6v1.90h-3.6zM131.5 654.34h3.6v1.90h-3.6zM135.1 517.35h3.6v1.90h-3.6zM135.1 537.72h3.6v1.90h-3.6zM135.1 591.40h3.6v1.90h-3.6zM135.1 598.81h3.6v1.90h-3.6zM135.1 633.98h3.6v1.90h-3.6zM135.1 656.20h3.6v1.90h-3.6zM138.6 517.35h3.6v1.90h-3.6zM138.6 621.02h3.6v1.90h-3.6zM138.6 641.38h3.6v1.90h-3.6zM138.6 658.05h3.6v1.90h-3.6zM142.2 546.97h3.6v1.90h-3.6zM142.2 600.66h3.6v1.90h-3.6zM142.2 609.91h3.6v1.90h-3.6zM142.2 613.62h3.6v1.90h-3.6zM142.2 645.09h3.6v1.90h-3.6zM142.2 654.34h3.6v1.90h-3.6zM142.2 656.20h3.6v1.90h-3.6zM145.8 524.76h3.6v1.90h-3.6zM145.8 563.63h3.6v1.90h-3.6zM145.8 600.66h3.6v1.90h-3.6zM145.8 604.36h3.6v1.90h-3.6zM145.8 621.02h3.6v1.90h-3.6zM145.8 622.87h3.6v1.90h-3.6zM145.8 645.09h3.6v1.90h-3.6zM145.8 650.64h3.6v1.90h-3.6zM149.3 543.27h3.6v1.90h-3.6zM149.3 595.10h3.6v1.90h-3.6zM149.3 609.91h3.6v1.90h-3.6zM149.3 611.76h3.6v1.90h-3.6zM149.3 630.28h3.6v1.90h-3.6zM149.3 637.68h3.6v1.90h-3.6zM149.3 645.09h3.6v1.90h-3.6zM149.3 659.90h3.6v1.90h-3.6zM152.9 563.63h3.6v1.90h-3.6zM152.9 613.62h3.6v1.90h-3.6zM152.9 624.72h3.6v1.90h-3.6zM152.9 648.79h3.6v1.90h-3.6zM152.9 650.64h3.6v1.90h-3.6zM152.9 654.34h3.6v1.90h-3.6zM156.5 535.86h3.6v1.90h-3.6zM156.5 609.91h3.6v1.90h-3.6zM156.5 654.34h3.6v1.90h-3.6zM156.5 658.05h3.6v1.90h-3.6zM160.0 524.76h3.6v1.90h-3.6zM160.0 554.38h3.6v1.90h-3.6zM160.0 580.29h3.6v1.90h-3.6zM160.0 582.14h3.6v1.90h-3.6zM160.0 600.66h3.6v1.90h-3.6zM160.0 621.02h3.6v1.90h-3.6zM160.0 648.79h3.6v1.90h-3.6zM163.6 515.50h3.6v1.90h-3.6zM163.6 558.08h3.6v1.90h-3.6zM163.6 563.63h3.6v1.90h-3.6zM163.6 596.96h3.6v1.90h-3.6zM163.6 624.72h3.6v1.90h-3.6zM163.6 628.43h3.6v1.90h-3.6zM163.6 632.13h3.6v1.90h-3.6zM163.6 635.83h3.6v1.90h-3.6zM163.6 658.05h3.6v1.90h-3.6zM163.6 659.90h3.6v1.90h-3.6zM167.2 539.57h3.6v1.90h-3.6zM167.2 546.97h3.6v1.90h-3.6zM167.2 580.29h3.6v1.90h-3.6zM167.2 608.06h3.6v1.90h-3.6zM167.2 621.02h3.6v1.90h-3.6zM170.8 548.82h3.6v1.90h-3.6zM170.8 563.63h3.6v1.90h-3.6zM170.8 572.89h3.6v1.90h-3.6zM170.8 582.14h3.6v1.90h-3.6zM170.8 635.83h3.6v1.90h-3.6zM170.8 645.09h3.6v1.90h-3.6zM170.8 650.64h3.6v1.90h-3.6zM174.3 554.38h3.6v1.90h-3.6zM174.3 624.72h3.6v1.90h-3.6zM174.3 656.20h3.6v1.90h-3.6zM174.3 658.05h3.6v1.90h-3.6zM177.9 515.50h3.6v1.90h-3.6zM177.9 572.89h3.6v1.90h-3.6zM177.9 591.40h3.6v1.90h-3.6zM177.9 602.51h3.6v1.90h-3.6zM177.9 604.36h3.6v1.90h-3.6zM177.9 609.91h3.6v1.90h-3.6zM181.5 515.50h3.6v1.90h-3.6zM181.5 526.61h3.6v1.90h-3.6zM181.5 571.04h3.6v1.90h-3.6zM181.5 572.89h3.6v1.90h-3.6zM181.5 585.85h3.6v1.90h-3.6zM181.5 591.40h3.6v1.90h-3.6zM181.5 593.25h3.6v1.90h-3.6zM181.5 604.36h3.6v1.90h-3.6zM181.5 619.17h3.6v1.90h-3.6zM181.5 626.58h3.6v1.90h-3.6zM181.5 637.68h3.6v1.90h-3.6zM181.5 648.79h3.6v1.90h-3.6zM185.0 554.38h3.6v1.90h-3.6zM185.0 621.02h3.6v1.90h-3.6zM185.0 645.09h3.6v1.90h-3.6zM188.6 528.46h3.6v1.90h-3.6zM188.6 539.57h3.6v1.90h-3.6zM188.6 600.66h3.6v1.90h-3.6zM192.2 519.20h3.6v1.90h-3.6zM192.2 524.76h3.6v1.90h-3.6zM192.2 526.61h3.6v1.90h-3.6zM192.2 546.97h3.6v1.90h-3.6zM192.2 574.74h3.6v1.90h-3.6zM192.2 639.53h3.6v1.90h-3.6zM192.2 659.90h3.6v1.90h-3.6zM199.3 515.50h3.6v1.90h-3.6zM199.3 535.86h3.6v1.90h-3.6zM199.3 546.97h3.6v1.90h-3.6zM199.3 550.67h3.6v1.90h-3.6zM199.3 571.04h3.6v1.90h-3.6zM199.3 580.29h3.6v1.90h-3.6zM199.3 591.40h3.6v1.90h-3.6zM199.3 600.66h3.6v1.90h-3.6zM202.9 537.72h3.6v1.90h-3.6zM202.9 543.27h3.6v1.90h-3.6zM202.9 558.08h3.6v1.90h-3.6zM202.9 559.93h3.6v1.90h-3.6zM202.9 574.74h3.6v1.90h-3.6zM202.9 578.44h3.6v1.90h-3.6zM202.9 598.81h3.6v1.90h-3.6zM202.9 639.53h3.6v1.90h-3.6zM202.9 656.20h3.6v1.90h-3.6zM202.9 659.90h3.6v1.90h-3.6zM206.4 515.50h3.6v1.90h-3.6zM206.4 519.20h3.6v1.90h-3.6zM206.4 534.01h3.6v1.90h-3.6zM206.4 556.23h3.6v1.90h-3.6zM206.4 580.29h3.6v1.90h-3.6zM206.4 608.06h3.6v1.90h-3.6zM206.4 611.76h3.6v1.90h-3.6zM210.0 530.31h3.6v1.90h-3.6zM210.0 534.01h3.6v1.90h-3.6zM210.0 546.97h3.6v1.90h-3.6zM210.0 548.82h3.6v1.90h-3.6zM210.0 558.08h3.6v1.90h-3.6zM210.0 596.96h3.6v1.90h-3.6zM210.0 637.68h3.6v1.90h-3.6zM210.0 652.49h3.6v1.90h-3.6zM213.6 519.20h3.6v1.90h-3.6zM213.6 522.90h3.6v1.90h-3.6zM213.6 539.57h3.6v1.90h-3.6zM213.6 558.08h3.6v1.90h-3.6zM213.6 563.63h3.6v1.90h-3.6zM213.6 571.04h3.6v1.90h-3.6zM213.6 576.59h3.6v1.90h-3.6zM213.6 632.13h3.6v1.90h-3.6zM217.1 539.57h3.6v1.90h-3.6zM217.1 558.08h3.6v1.90h-3.6zM217.1 563.63h3.6v1.90h-3.6zM217.1 565.48h3.6v1.90h-3.6zM217.1 596.96h3.6v1.90h-3.6zM217.1 602.51h3.6v1.90h-3.6zM217.1 613.62h3.6v1.90h-3.6zM217.1 615.47h3.6v1.90h-3.6zM217.1 621.02h3.6v1.90h-3.6zM217.1 624.72h3.6v1.90h-3.6zM217.1 635.83h3.6v1.90h-3.6zM217.1 643.24h3.6v1.90h-3.6zM217.1 648.79h3.6v1.90h-3.6zM220.7 541.42h3.6v1.90h-3.6zM220.7 556.23h3.6v1.90h-3.6zM220.7 559.93h3.6v1.90h-3.6zM220.7 569.19h3.6v1.90h-3.6zM220.7 571.04h3.6v1.90h-3.6zM220.7 585.85h3.6v1.90h-3.6zM220.7 600.66h3.6v1.90h-3.6zM220.7 615.47h3.6v1.90h-3.6zM224.3 541.42h3.6v1.90h-3.6zM224.3 576.59h3.6v1.90h-3.6zM224.3 580.29h3.6v1.90h-3.6zM224.3 602.51h3.6v1.90h-3.6zM224.3 604.36h3.6v1.90h-3.6zM224.3 617.32h3.6v1.90h-3.6zM224.3 624.72h3.6v1.90h-3.6zM224.3 628.43h3.6v1.90h-3.6zM224.3 635.83h3.6v1.90h-3.6zM224.3 645.09h3.6v1.90h-3.6zM224.3 659.90h3.6v1.90h-3.6zM227.8 550.67h3.6v1.90h-3.6zM227.8 552.52h3.6v1.90h-3.6zM227.8 558.08h3.6v1.90h-3.6zM227.8 587.70h3.6v1.90h-3.6zM227.8 606.21h3.6v1.90h-3.6zM227.8 609.91h3.6v1.90h-3.6zM227.8 659.90h3.6v1.90h-3.6zM231.4 526.61h3.6v1.90h-3.6zM231.4 530.31h3.6v1.90h-3.6zM231.4 539.57h3.6v1.90h-3.6zM231.4 559.93h3.6v1.90h-3.6zM231.4 571.04h3.6v1.90h-3.6zM231.4 576.59h3.6v1.90h-3.6zM231.4 621.02h3.6v1.90h-3.6zM231.4 646.94h3.6v1.90h-3.6zM235.0 572.89h3.6v1.90h-3.6zM235.0 626.58h3.6v1.90h-3.6zM235.0 639.53h3.6v1.90h-3.6zM238.6 548.82h3.6v1.90h-3.6zM238.6 567.34h3.6v1.90h-3.6zM238.6 576.59h3.6v1.90h-3.6zM238.6 578.44h3.6v1.90h-3.6zM238.6 580.29h3.6v1.90h-3.6zM238.6 584.00h3.6v1.90h-3.6zM238.6 585.85h3.6v1.90h-3.6zM238.6 611.76h3.6v1.90h-3.6zM242.1 530.31h3.6v1.90h-3.6zM242.1 537.72h3.6v1.90h-3.6zM242.1 545.12h3.6v1.90h-3.6zM242.1 546.97h3.6v1.90h-3.6zM242.1 548.82h3.6v1.90h-3.6zM242.1 559.93h3.6v1.90h-3.6zM242.1 563.63h3.6v1.90h-3.6zM242.1 596.96h3.6v1.90h-3.6zM242.1 611.76h3.6v1.90h-3.6zM242.1 619.17h3.6v1.90h-3.6zM245.7 535.86h3.6v1.90h-3.6zM245.7 545.12h3.6v1.90h-3.6zM245.7 554.38h3.6v1.90h-3.6zM245.7 559.93h3.6v1.90h-3.6zM245.7 584.00h3.6v1.90h-3.6zM245.7 639.53h3.6v1.90h-3.6zM249.3 522.90h3.6v1.90h-3.6zM249.3 541.42h3.6v1.90h-3.6zM249.3 567.34h3.6v1.90h-3.6zM249.3 580.29h3.6v1.90h-3.6zM249.3 617.32h3.6v1.90h-3.6zM252.8 522.90h3.6v1.90h-3.6zM252.8 565.48h3.6v1.90h-3.6zM252.8 574.74h3.6v1.90h-3.6zM252.8 593.25h3.6v1.90h-3.6zM252.8 595.10h3.6v1.90h-3.6zM252.8 600.66h3.6v1.90h-3.6zM252.8 619.17h3.6v1.90h-3.6zM252.8 646.94h3.6v1.90h-3.6zM256.4 532.16h3.6v1.90h-3.6zM256.4 567.34h3.6v1.90h-3.6zM256.4 582.14h3.6v1.90h-3.6zM256.4 585.85h3.6v1.90h-3.6zM256.4 602.51h3.6v1.90h-3.6zM256.4 609.91h3.6v1.90h-3.6zM256.4 626.58h3.6v1.90h-3.6zM256.4 637.68h3.6v1.90h-3.6zM260.0 517.35h3.6v1.90h-3.6zM260.0 546.97h3.6v1.90h-3.6zM260.0 582.14h3.6v1.90h-3.6zM260.0 606.21h3.6v1.90h-3.6zM260.0 621.02h3.6v1.90h-3.6zM260.0 656.20h3.6v1.90h-3.6zM263.5 559.93h3.6v1.90h-3.6zM263.5 561.78h3.6v1.90h-3.6zM263.5 569.19h3.6v1.90h-3.6zM263.5 580.29h3.6v1.90h-3.6zM263.5 584.00h3.6v1.90h-3.6zM263.5 600.66h3.6v1.90h-3.6zM263.5 615.47h3.6v1.90h-3.6zM263.5 659.90h3.6v1.90h-3.6z"/>
<path fill="#f7f7f7" d="M32.5 617.32h13.8v1.90h-13.8zM32.5 624.72h13.8v1.90h-13.8zM46.3 624.72h14.2v1.90h-14.2zM60.4 571.04h14.2v1.90h-14.2zM60.4 574.74h14.2v1.90h-14.2zM60.4 576.59h14.2v1.90h-14.2zM60.4 589.55h14.2v1.90h-14.2zM60.4 596.96h14.2v1.90h-14.2zM60.4 608.06h14.2v1.90h-14.2zM88.2 541.42h14.1v1.90h-14.1zM88.2 646.94h14.1v1.90h-14.1zM116.3 643.24h13.7v1.90h-13.7zM131.5 528.46h3.6v1.90h-3.6zM131.5 534.01h3.6v1.90h-3.6zM131.5 537.72h3.6v1.90h-3.6zM131.5 559.93h3.6v1.90h-3.6zM131.5 571.04h3.6v1.90h-3.6zM131.5 576.59h3.6v1.90h-3.6zM131.5 608.06h3.6v1.90h-3.6zM131.5 622.87h3.6v1.90h-3.6zM131.5 639.53h3.6v1.90h-3.6zM131.5 645.09h3.6v1.90h-3.6zM131.5 650.64h3.6v1.90h-3.6zM131.5 656.20h3.6v1.90h-3.6zM135.1 515.50h3.6v1.90h-3.6zM135.1 524.76h3.6v1.90h-3.6zM135.1 526.61h3.6v1.90h-3.6zM135.1 556.23h3.6v1.90h-3.6zM135.1 561.78h3.6v1.90h-3.6zM135.1 563.63h3.6v1.90h-3.6zM135.1 619.17h3.6v1.90h-3.6zM135.1 624.72h3.6v1.90h-3.6zM135.1 635.83h3.6v1.90h-3.6zM135.1 637.68h3.6v1.90h-3.6zM135.1 641.38h3.6v1.90h-3.6zM138.6 515.50h3.6v1.90h-3.6zM138.6 576.59h3.6v1.90h-3.6zM138.6 585.85h3.6v1.90h-3.6zM138.6 632.13h3.6v1.90h-3.6zM138.6 635.83h3.6v1.90h-3.6zM138.6 656.20h3.6v1.90h-3.6zM142.2 515.50h3.6v1.90h-3.6zM142.2 572.89h3.6v1.90h-3.6zM142.2 608.06h3.6v1.90h-3.6zM142.2 621.02h3.6v1.90h-3.6zM142.2 624.72h3.6v1.90h-3.6zM142.2 632.13h3.6v1.90h-3.6zM145.8 561.78h3.6v1.90h-3.6zM145.8 567.34h3.6v1.90h-3.6zM145.8 611.76h3.6v1.90h-3.6zM145.8 641.38h3.6v1.90h-3.6zM145.8 656.20h3.6v1.90h-3.6zM145.8 658.05h3.6v1.90h-3.6zM145.8 659.90h3.6v1.90h-3.6zM149.3 548.82h3.6v1.90h-3.6zM149.3 556.23h3.6v1.90h-3.6zM149.3 584.00h3.6v1.90h-3.6zM149.3 593.25h3.6v1.90h-3.6zM149.3 613.62h3.6v1.90h-3.6zM149.3 628.43h3.6v1.90h-3.6zM149.3 632.13h3.6v1.90h-3.6zM149.3 635.83h3.6v1.90h-3.6zM149.3 658.05h3.6v1.90h-3.6zM152.9 526.61h3.6v1.90h-3.6zM152.9 559.93h3.6v1.90h-3.6zM152.9 596.96h3.6v1.90h-3.6zM152.9 604.36h3.6v1.90h-3.6zM152.9 608.06h3.6v1.90h-3.6zM152.9 628.43h3.6v1.90h-3.6zM152.9 641.38h3.6v1.90h-3.6zM152.9 643.24h3.6v1.90h-3.6zM152.9 645.09h3.6v1.90h-3.6zM152.9 659.90h3.6v1.90h-3.6zM156.5 543.27h3.6v1.90h-3.6zM156.5 572.89h3.6v1.90h-3.6zM156.5 611.76h3.6v1.90h-3.6zM156.5 619.17h3.6v1.90h-3.6zM156.5 626.58h3.6v1.90h-3.6zM156.5 633.98h3.6v1.90h-3.6zM156.5 643.24h3.6v1.90h-3.6zM156.5 648.79h3.6v1.90h-3.6zM156.5 650.64h3.6v1.90h-3.6zM156.5 659.90h3.6v1.90h-3.6zM160.0 519.20h3.6v1.90h-3.6zM160.0 541.42h3.6v1.90h-3.6zM160.0 546.97h3.6v1.90h-3.6zM160.0 556.23h3.6v1.90h-3.6zM160.0 559.93h3.6v1.90h-3.6zM160.0 563.63h3.6v1.90h-3.6zM160.0 604.36h3.6v1.90h-3.6zM160.0 613.62h3.6v1.90h-3.6zM160.0 622.87h3.6v1.90h-3.6zM160.0 635.83h3.6v1.90h-3.6zM160.0 645.09h3.6v1.90h-3.6zM160.0 646.94h3.6v1.90h-3.6zM160.0 656.20h3.6v1.90h-3.6zM163.6 517.35h3.6v1.90h-3.6zM163.6 545.12h3.6v1.90h-3.6zM163.6 561.78h3.6v1.90h-3.6zM163.6 580.29h3.6v1.90h-3.6zM163.6 585.85h3.6v1.90h-3.6zM163.6 615.47h3.6v1.90h-3.6zM163.6 621.02h3.6v1.90h-3.6zM163.6 645.09h3.6v1.90h-3.6zM167.2 537.72h3.6v1.90h-3.6zM167.2 559.93h3.6v1.90h-3.6zM167.2 593.25h3.6v1.90h-3.6zM167.2 635.83h3.6v1.90h-3.6zM167.2 645.09h3.6v1.90h-3.6zM170.8 534.01h3.6v1.90h-3.6zM170.8 539.57h3.6v1.90h-3.6zM170.8 543.27h3.6v1.90h-3.6zM170.8 556.23h3.6v1.90h-3.6zM170.8 567.34h3.6v1.90h-3.6zM170.8 569.19h3.6v1.90h-3.6zM170.8 598.81h3.6v1.90h-3.6zM170.8 600.66h3.6v1.90h-3.6zM170.8 606.21h3.6v1.90h-3.6zM170.8 624.72h3.6v1.90h-3.6zM170.8 633.98h3.6v1.90h-3.6zM170.8 646.94h3.6v1.90h-3.6zM174.3 515.50h3.6v1.90h-3.6zM174.3 519.20h3.6v1.90h-3.6zM174.3 528.46h3.6v1.90h-3.6zM174.3 535.86h3.6v1.90h-3.6zM174.3 539.57h3.6v1.90h-3.6zM174.3 595.10h3.6v1.90h-3.6zM174.3 626.58h3.6v1.90h-3.6zM174.3 637.68h3.6v1.90h-3.6zM177.9 517.35h3.6v1.90h-3.6zM177.9 526.61h3.6v1.90h-3.6zM177.9 534.01h3.6v1.90h-3.6zM177.9 565.48h3.6v1.90h-3.6zM177.9 584.00h3.6v1.90h-3.6zM177.9 598.81h3.6v1.90h-3.6zM177.9 635.83h3.6v1.90h-3.6zM177.9 658.05h3.6v1.90h-3.6zM181.5 539.57h3.6v1.90h-3.6zM181.5 543.27h3.6v1.90h-3.6zM181.5 613.62h3.6v1.90h-3.6zM181.5 639.53h3.6v1.90h-3.6zM181.5 645.09h3.6v1.90h-3.6zM181.5 659.90h3.6v1.90h-3.6zM181.5 661.75h3.6v1.90h-3.6zM185.0 528.46h3.6v1.90h-3.6zM185.0 537.72h3.6v1.90h-3.6zM185.0 541.42h3.6v1.90h-3.6zM185.0 556.23h3.6v1.90h-3.6zM185.0 558.08h3.6v1.90h-3.6zM185.0 561.78h3.6v1.90h-3.6zM185.0 567.34h3.6v1.90h-3.6zM188.6 534.01h3.6v1.90h-3.6zM188.6 545.12h3.6v1.90h-3.6zM188.6 546.97h3.6v1.90h-3.6zM188.6 563.63h3.6v1.90h-3.6zM188.6 565.48h3.6v1.90h-3.6zM188.6 608.06h3.6v1.90h-3.6zM188.6 633.98h3.6v1.90h-3.6zM188.6 643.24h3.6v1.90h-3.6zM192.2 532.16h3.6v1.90h-3.6zM192.2 561.78h3.6v1.90h-3.6zM192.2 572.89h3.6v1.90h-3.6zM192.2 582.14h3.6v1.90h-3.6zM192.2 593.25h3.6v1.90h-3.6zM192.2 596.96h3.6v1.90h-3.6zM192.2 600.66h3.6v1.90h-3.6zM192.2 658.05h3.6v1.90h-3.6zM199.3 519.20h3.6v1.90h-3.6zM199.3 554.38h3.6v1.90h-3.6zM199.3 567.34h3.6v1.90h-3.6zM199.3 598.81h3.6v1.90h-3.6zM199.3 602.51h3.6v1.90h-3.6zM199.3 608.06h3.6v1.90h-3.6zM199.3 621.02h3.6v1.90h-3.6zM199.3 622.87h3.6v1.90h-3.6zM199.3 626.58h3.6v1.90h-3.6zM199.3 641.38h3.6v1.90h-3.6zM202.9 515.50h3.6v1.90h-3.6zM202.9 519.20h3.6v1.90h-3.6zM202.9 535.86h3.6v1.90h-3.6zM202.9 539.57h3.6v1.90h-3.6zM202.9 580.29h3.6v1.90h-3.6zM202.9 584.00h3.6v1.90h-3.6zM202.9 635.83h3.6v1.90h-3.6zM206.4 537.72h3.6v1.90h-3.6zM206.4 559.93h3.6v1.90h-3.6zM206.4 563.63h3.6v1.90h-3.6zM206.4 576.59h3.6v1.90h-3.6zM206.4 593.25h3.6v1.90h-3.6zM206.4 604.36h3.6v1.90h-3.6zM206.4 617.32h3.6v1.90h-3.6zM206.4 650.64h3.6v1.90h-3.6zM206.4 656.20h3.6v1.90h-3.6zM210.0 545.12h3.6v1.90h-3.6zM210.0 591.40h3.6v1.90h-3.6zM210.0 598.81h3.6v1.90h-3.6zM210.0 619.17h3.6v1.90h-3.6zM210.0 622.87h3.6v1.90h-3.6zM210.0 626.58h3.6v1.90h-3.6zM210.0 639.53h3.6v1.90h-3.6zM210.0 643.24h3.6v1.90h-3.6zM210.0 650.64h3.6v1.90h-3.6zM213.6 537.72h3.6v1.90h-3.6zM213.6 556.23h3.6v1.90h-3.6zM213.6 584.00h3.6v1.90h-3.6zM213.6 593.25h3.6v1.90h-3.6zM217.1 515.50h3.6v1.90h-3.6zM217.1 522.90h3.6v1.90h-3.6zM217.1 546.97h3.6v1.90h-3.6zM217.1 548.82h3.6v1.90h-3.6zM217.1 554.38h3.6v1.90h-3.6zM217.1 556.23h3.6v1.90h-3.6zM217.1 567.34h3.6v1.90h-3.6zM217.1 569.19h3.6v1.90h-3.6zM217.1 585.85h3.6v1.90h-3.6zM217.1 593.25h3.6v1.90h-3.6zM217.1 606.21h3.6v1.90h-3.6zM220.7 546.97h3.6v1.90h-3.6zM220.7 619.17h3.6v1.90h-3.6zM220.7 635.83h3.6v1.90h-3.6zM220.7 637.68h3.6v1.90h-3.6zM220.7 656.20h3.6v1.90h-3.6zM224.3 546.97h3.6v1.90h-3.6zM224.3 548.82h3.6v1.90h-3.6zM224.3 563.63h3.6v1.90h-3.6zM224.3 611.76h3.6v1.90h-3.6zM224.3 621.02h3.6v1.90h-3.6zM224.3 632.13h3.6v1.90h-3.6zM224.3 639.53h3.6v1.90h-3.6zM227.8 537.72h3.6v1.90h-3.6zM227.8 543.27h3.6v1.90h-3.6zM227.8 571.04h3.6v1.90h-3.6zM227.8 572.89h3.6v1.90h-3.6zM227.8 580.29h3.6v1.90h-3.6zM227.8 584.00h3.6v1.90h-3.6zM227.8 596.96h3.6v1.90h-3.6zM227.8 613.62h3.6v1.90h-3.6zM227.8 621.02h3.6v1.90h-3.6zM227.8 622.87h3.6v1.90h-3.6zM227.8 639.53h3.6v1.90h-3.6zM231.4 567.34h3.6v1.90h-3.6zM231.4 580.29h3.6v1.90h-3.6zM231.4 585.85h3.6v1.90h-3.6zM231.4 596.96h3.6v1.90h-3.6zM231.4 600.66h3.6v1.90h-3.6zM231.4 628.43h3.6v1.90h-3.6zM231.4 632.13h3.6v1.90h-3.6zM231.4 633.98h3.6v1.90h-3.6zM231.4 658.05h3.6v1.90h-3.6zM235.0 554.38h3.6v1.90h-3.6zM235.0 580.29h3.6v1.90h-3.6zM235.0 582.14h3.6v1.90h-3.6zM235.0 587.70h3.6v1.90h-3.6zM235.0 596.96h3.6v1.90h-3.6zM235.0 632.13h3.6v1.90h-3.6zM235.0 654.34h3.6v1.90h-3.6zM238.6 534.01h3.6v1.90h-3.6zM238.6 537.72h3.6v1.90h-3.6zM238.6 556.23h3.6v1.90h-3.6zM238.6 563.63h3.6v1.90h-3.6zM238.6 572.89h3.6v1.90h-3.6zM238.6 593.25h3.6v1.90h-3.6zM238.6 628.43h3.6v1.90h-3.6zM238.6 646.94h3.6v1.90h-3.6zM242.1 539.57h3.6v1.90h-3.6zM242.1 541.42h3.6v1.90h-3.6zM242.1 543.27h3.6v1.90h-3.6zM242.1 552.52h3.6v1.90h-3.6zM242.1 569.19h3.6v1.90h-3.6zM242.1 576.59h3.6v1.90h-3.6zM242.1 591.40h3.6v1.90h-3.6zM242.1 626.58h3.6v1.90h-3.6zM242.1 637.68h3.6v1.90h-3.6zM245.7 515.50h3.6v1.90h-3.6zM245.7 517.35h3.6v1.90h-3.6zM245.7 534.01h3.6v1.90h-3.6zM245.7 556.23h3.6v1.90h-3.6zM245.7 558.08h3.6v1.90h-3.6zM245.7 571.04h3.6v1.90h-3.6zM245.7 630.28h3.6v1.90h-3.6zM245.7 633.98h3.6v1.90h-3.6zM245.7 637.68h3.6v1.90h-3.6zM245.7 650.64h3.6v1.90h-3.6zM249.3 543.27h3.6v1.90h-3.6zM249.3 546.97h3.6v1.90h-3.6zM249.3 554.38h3.6v1.90h-3.6zM249.3 559.93h3.6v1.90h-3.6zM249.3 563.63h3.6v1.90h-3.6zM249.3 571.04h3.6v1.90h-3.6zM249.3 591.40h3.6v1.90h-3.6zM249.3 608.06h3.6v1.90h-3.6zM249.3 626.58h3.6v1.90h-3.6zM249.3 641.38h3.6v1.90h-3.6zM252.8 519.20h3.6v1.90h-3.6zM252.8 545.12h3.6v1.90h-3.6zM252.8 563.63h3.6v1.90h-3.6zM252.8 569.19h3.6v1.90h-3.6zM252.8 572.89h3.6v1.90h-3.6zM252.8 632.13h3.6v1.90h-3.6zM252.8 652.49h3.6v1.90h-3.6zM256.4 517.35h3.6v1.90h-3.6zM256.4 545.12h3.6v1.90h-3.6zM256.4 596.96h3.6v1.90h-3.6zM256.4 604.36h3.6v1.90h-3.6zM256.4 621.02h3.6v1.90h-3.6zM256.4 659.90h3.6v1.90h-3.6zM260.0 524.76h3.6v1.90h-3.6zM260.0 539.57h3.6v1.90h-3.6zM260.0 554.38h3.6v1.90h-3.6zM260.0 559.93h3.6v1.90h-3.6zM260.0 626.58h3.6v1.90h-3.6zM263.5 524.76h3.6v1.90h-3.6zM263.5 535.86h3.6v1.90h-3.6zM263.5 571.04h3.6v1.90h-3.6zM263.5 626.58h3.6v1.90h-3.6zM263.5 632.13h3.6v1.90h-3.6zM263.5 658.05h3.6v1.90h-3.6z"/>
<path fill="#cfe2ee" d="M32.5 626.58h13.8v1.90h-13.8zM32.5 630.28h13.8v1.90h-13.8zM32.5 633.98h13.8v1.90h-13.8zM60.4 558.08h14.2v1.90h-14.2zM60.4 585.85h14.2v1.90h-14.2zM60.4 600.66h14.2v1.90h-14.2zM60.4 604.36h14.2v1.90h-14.2zM74.5 530.31h13.8v1.90h-13.8zM74.5 543.27h13.8v1.90h-13.8zM74.5 559.93h13.8v1.90h-13.8zM74.5 563.63h13.8v1.90h-13.8zM74.5 571.04h13.8v1.90h-13.8zM74.5 589.55h13.8v1.90h-13.8zM74.5 598.81h13.8v1.90h-13.8zM74.5 608.06h13.8v1.90h-13.8zM74.5 624.72h13.8v1.90h-13.8zM88.2 521.05h14.1v1.90h-14.1zM88.2 524.76h14.1v1.90h-14.1zM88.2 526.61h14.1v1.90h-14.1zM88.2 548.82h14.1v1.90h-14.1zM88.2 552.52h14.1v1.90h-14.1zM88.2 556.23h14.1v1.90h-14.1zM88.2 561.78h14.1v1.90h-14.1zM88.2 567.34h14.1v1.90h-14.1zM88.2 572.89h14.1v1.90h-14.1zM88.2 576.59h14.1v1.90h-14.1zM88.2 584.00h14.1v1.90h-14.1zM88.2 596.96h14.1v1.90h-14.1zM88.2 606.21h14.1v1.90h-14.1zM88.2 624.72h14.1v1.90h-14.1zM102.2 554.38h14.1v1.90h-14.1zM102.2 595.10h14.1v1.90h-14.1zM102.2 615.47h14.1v1.90h-14.1zM116.3 606.21h13.7v1.90h-13.7zM131.5 515.50h3.6v1.90h-3.6zM135.1 584.00h3.6v1.90h-3.6zM135.1 648.79h3.6v1.90h-3.6zM135.1 661.75h3.6v1.90h-3.6zM138.6 609.91h3.6v1.90h-3.6zM138.6 648.79h3.6v1.90h-3.6zM142.2 541.42h3.6v1.90h-3.6zM142.2 622.87h3.6v1.90h-3.6zM145.8 517.35h3.6v1.90h-3.6zM145.8 572.89h3.6v1.90h-3.6zM145.8 630.28h3.6v1.90h-3.6zM145.8 654.34h3.6v1.90h-3.6zM149.3 624.72h3.6v1.90h-3.6zM149.3 639.53h3.6v1.90h-3.6zM149.3 654.34h3.6v1.90h-3.6zM152.9 609.91h3.6v1.90h-3.6zM152.9 617.32h3.6v1.90h-3.6zM156.5 641.38h3.6v1.90h-3.6zM156.5 645.09h3.6v1.90h-3.6zM160.0 584.00h3.6v1.90h-3.6zM160.0 630.28h3.6v1.90h-3.6zM163.6 641.38h3.6v1.90h-3.6zM163.6 643.24h3.6v1.90h-3.6zM163.6 650.64h3.6v1.90h-3.6zM163.6 656.20h3.6v1.90h-3.6zM167.2 545.12h3.6v1.90h-3.6zM167.2 572.89h3.6v1.90h-3.6zM167.2 622.87h3.6v1.90h-3.6zM167.2 624.72h3.6v1.90h-3.6zM170.8 648.79h3.6v1.90h-3.6zM174.3 517.35h3.6v1.90h-3.6zM174.3 632.13h3.6v1.90h-3.6zM174.3 633.98h3.6v1.90h-3.6zM174.3 645.09h3.6v1.90h-3.6zM177.9 576.59h3.6v1.90h-3.6zM177.9 600.66h3.6v1.90h-3.6zM177.9 628.43h3.6v1.90h-3.6zM177.9 641.38h3.6v1.90h-3.6zM177.9 654.34h3.6v1.90h-3.6zM177.9 659.90h3.6v1.90h-3.6zM177.9 661.75h3.6v1.90h-3.6zM181.5 517.35h3.6v1.90h-3.6zM181.5 621.02h3.6v1.90h-3.6zM181.5 622.87h3.6v1.90h-3.6zM181.5 624.72h3.6v1.90h-3.6zM181.5 630.28h3.6v1.90h-3.6zM181.5 632.13h3.6v1.90h-3.6zM185.0 571.04h3.6v1.90h-3.6zM185.0 622.87h3.6v1.90h-3.6zM185.0 652.49h3.6v1.90h-3.6zM188.6 637.68h3.6v1.90h-3.6zM188.6 641.38h3.6v1.90h-3.6zM192.2 515.50h3.6v1.90h-3.6zM192.2 571.04h3.6v1.90h-3.6zM192.2 646.94h3.6v1.90h-3.6zM192.2 650.64h3.6v1.90h-3.6zM192.2 656.20h3.6v1.90h-3.6zM195.7 622.87h3.6v1.90h-3.6zM195.7 637.68h3.6v1.90h-3.6zM195.7 658.05h3.6v1.90h-3.6zM199.3 537.72h3.6v1.90h-3.6zM199.3 606.21h3.6v1.90h-3.6zM199.3 619.17h3.6v1.90h-3.6zM202.9 521.05h3.6v1.90h-3.6zM202.9 587.70h3.6v1.90h-3.6zM202.9 604.36h3.6v1.90h-3.6zM206.4 532.16h3.6v1.90h-3.6zM206.4 565.48h3.6v1.90h-3.6zM206.4 598.81h3.6v1.90h-3.6zM206.4 602.51h3.6v1.90h-3.6zM210.0 550.67h3.6v1.90h-3.6zM210.0 552.52h3.6v1.90h-3.6zM210.0 554.38h3.6v1.90h-3.6zM210.0 559.93h3.6v1.90h-3.6zM210.0 587.70h3.6v1.90h-3.6zM210.0 602.51h3.6v1.90h-3.6zM213.6 521.05h3.6v1.90h-3.6zM213.6 550.67h3.6v1.90h-3.6zM213.6 559.93h3.6v1.90h-3.6zM213.6 582.14h3.6v1.90h-3.6zM213.6 602.51h3.6v1.90h-3.6zM217.1 517.35h3.6v1.90h-3.6zM217.1 530.31h3.6v1.90h-3.6zM217.1 541.42h3.6v1.90h-3.6zM217.1 550.67h3.6v1.90h-3.6zM217.1 578.44h3.6v1.90h-3.6zM217.1 595.10h3.6v1.90h-3.6zM217.1 604.36h3.6v1.90h-3.6zM220.7 530.31h3.6v1.90h-3.6zM220.7 558.08h3.6v1.90h-3.6zM220.7 578.44h3.6v1.90h-3.6zM220.7 595.10h3.6v1.90h-3.6zM220.7 645.09h3.6v1.90h-3.6zM224.3 528.46h3.6v1.90h-3.6zM224.3 530.31h3.6v1.90h-3.6zM224.3 550.67h3.6v1.90h-3.6zM224.3 578.44h3.6v1.90h-3.6zM224.3 589.55h3.6v1.90h-3.6zM227.8 567.34h3.6v1.90h-3.6zM227.8 582.14h3.6v1.90h-3.6zM227.8 589.55h3.6v1.90h-3.6zM227.8 608.06h3.6v1.90h-3.6zM231.4 535.86h3.6v1.90h-3.6zM231.4 584.00h3.6v1.90h-3.6zM231.4 589.55h3.6v1.90h-3.6zM235.0 526.61h3.6v1.90h-3.6zM235.0 539.57h3.6v1.90h-3.6zM235.0 552.52h3.6v1.90h-3.6zM235.0 559.93h3.6v1.90h-3.6zM235.0 561.78h3.6v1.90h-3.6zM235.0 574.74h3.6v1.90h-3.6zM235.0 578.44h3.6v1.90h-3.6zM235.0 633.98h3.6v1.90h-3.6zM238.6 561.78h3.6v1.90h-3.6zM238.6 591.40h3.6v1.90h-3.6zM238.6 604.36h3.6v1.90h-3.6zM242.1 528.46h3.6v1.90h-3.6zM242.1 535.86h3.6v1.90h-3.6zM242.1 561.78h3.6v1.90h-3.6zM242.1 574.74h3.6v1.90h-3.6zM242.1 582.14h3.6v1.90h-3.6zM242.1 604.36h3.6v1.90h-3.6zM242.1 617.32h3.6v1.90h-3.6zM245.7 552.52h3.6v1.90h-3.6zM245.7 565.48h3.6v1.90h-3.6zM245.7 613.62h3.6v1.90h-3.6zM245.7 628.43h3.6v1.90h-3.6zM249.3 530.31h3.6v1.90h-3.6zM249.3 574.74h3.6v1.90h-3.6zM249.3 578.44h3.6v1.90h-3.6zM249.3 585.85h3.6v1.90h-3.6zM249.3 604.36h3.6v1.90h-3.6zM249.3 606.21h3.6v1.90h-3.6zM249.3 639.53h3.6v1.90h-3.6zM252.8 521.05h3.6v1.90h-3.6zM252.8 528.46h3.6v1.90h-3.6zM252.8 567.34h3.6v1.90h-3.6zM252.8 602.51h3.6v1.90h-3.6zM256.4 534.01h3.6v1.90h-3.6zM256.4 541.42h3.6v1.90h-3.6zM256.4 554.38h3.6v1.90h-3.6zM256.4 556.23h3.6v1.90h-3.6zM256.4 559.93h3.6v1.90h-3.6zM256.4 608.06h3.6v1.90h-3.6zM256.4 611.76h3.6v1.90h-3.6zM256.4 615.47h3.6v1.90h-3.6zM256.4 617.32h3.6v1.90h-3.6zM256.4 646.94h3.6v1.90h-3.6zM260.0 532.16h3.6v1.90h-3.6zM260.0 552.52h3.6v1.90h-3.6zM260.0 574.74h3.6v1.90h-3.6zM260.0 604.36h3.6v1.90h-3.6zM260.0 609.91h3.6v1.90h-3.6zM260.0 617.32h3.6v1.90h-3.6zM263.5 519.20h3.6v1.90h-3.6zM263.5 545.12h3.6v1.90h-3.6zM263.5 574.74h3.6v1.90h-3.6zM263.5 587.70h3.6v1.90h-3.6zM263.5 639.53h3.6v1.90h-3.6zM263.5 646.94h3.6v1.90h-3.6z"/>
<path fill="#dde9f2" d="M32.5 628.43h13.8v1.90h-13.8zM32.5 635.83h13.8v1.90h-13.8zM60.4 561.78h14.2v1.90h-14.2zM60.4 563.63h14.2v1.90h-14.2zM60.4 580.29h14.2v1.90h-14.2zM60.4 609.91h14.2v1.90h-14.2zM74.5 561.78h13.8v1.90h-13.8zM74.5 567.34h13.8v1.90h-13.8zM74.5 574.74h13.8v1.90h-13.8zM74.5 584.00h13.8v1.90h-13.8zM74.5 587.70h13.8v1.90h-13.8zM74.5 606.21h13.8v1.90h-13.8zM88.2 515.50h14.1v1.90h-14.1zM88.2 519.20h14.1v1.90h-14.1zM88.2 550.67h14.1v1.90h-14.1zM88.2 587.70h14.1v1.90h-14.1zM88.2 598.81h14.1v1.90h-14.1zM88.2 600.66h14.1v1.90h-14.1zM88.2 609.91h14.1v1.90h-14.1zM88.2 613.62h14.1v1.90h-14.1zM88.2 617.32h14.1v1.90h-14.1zM102.2 567.34h14.1v1.90h-14.1zM102.2 624.72h14.1v1.90h-14.1zM116.3 515.50h13.7v1.90h-13.7zM116.3 574.74h13.7v1.90h-13.7zM131.5 609.91h3.6v1.90h-3.6zM135.1 659.90h3.6v1.90h-3.6zM138.6 628.43h3.6v1.90h-3.6zM138.6 630.28h3.6v1.90h-3.6zM138.6 633.98h3.6v1.90h-3.6zM138.6 650.64h3.6v1.90h-3.6zM138.6 652.49h3.6v1.90h-3.6zM142.2 537.72h3.6v1.90h-3.6zM142.2 543.27h3.6v1.90h-3.6zM142.2 558.08h3.6v1.90h-3.6zM142.2 650.64h3.6v1.90h-3.6zM142.2 652.49h3.6v1.90h-3.6zM145.8 626.58h3.6v1.90h-3.6zM145.8 632.13h3.6v1.90h-3.6zM145.8 643.24h3.6v1.90h-3.6zM145.8 648.79h3.6v1.90h-3.6zM149.3 596.96h3.6v1.90h-3.6zM149.3 650.64h3.6v1.90h-3.6zM149.3 652.49h3.6v1.90h-3.6zM152.9 539.57h3.6v1.90h-3.6zM152.9 600.66h3.6v1.90h-3.6zM152.9 652.49h3.6v1.90h-3.6zM152.9 661.75h3.6v1.90h-3.6zM156.5 519.20h3.6v1.90h-3.6zM156.5 524.76h3.6v1.90h-3.6zM156.5 622.87h3.6v1.90h-3.6zM156.5 628.43h3.6v1.90h-3.6zM160.0 517.35h3.6v1.90h-3.6zM160.0 526.61h3.6v1.90h-3.6zM160.0 558.08h3.6v1.90h-3.6zM160.0 659.90h3.6v1.90h-3.6zM163.6 537.72h3.6v1.90h-3.6zM163.6 546.97h3.6v1.90h-3.6zM163.6 587.70h3.6v1.90h-3.6zM163.6 609.91h3.6v1.90h-3.6zM167.2 571.04h3.6v1.90h-3.6zM167.2 600.66h3.6v1.90h-3.6zM167.2 641.38h3.6v1.90h-3.6zM167.2 658.05h3.6v1.90h-3.6zM167.2 659.90h3.6v1.90h-3.6zM170.8 524.76h3.6v1.90h-3.6zM170.8 558.08h3.6v1.90h-3.6zM170.8 641.38h3.6v1.90h-3.6zM170.8 659.90h3.6v1.90h-3.6zM174.3 571.04h3.6v1.90h-3.6zM174.3 609.91h3.6v1.90h-3.6zM174.3 613.62h3.6v1.90h-3.6zM174.3 622.87h3.6v1.90h-3.6zM174.3 641.38h3.6v1.90h-3.6zM174.3 659.90h3.6v1.90h-3.6zM177.9 519.20h3.6v1.90h-3.6zM177.9 552.52h3.6v1.90h-3.6zM177.9 558.08h3.6v1.90h-3.6zM177.9 567.34h3.6v1.90h-3.6zM177.9 621.02h3.6v1.90h-3.6zM177.9 650.64h3.6v1.90h-3.6zM181.5 524.76h3.6v1.90h-3.6zM181.5 576.59h3.6v1.90h-3.6zM181.5 600.66h3.6v1.90h-3.6zM181.5 609.91h3.6v1.90h-3.6zM181.5 633.98h3.6v1.90h-3.6zM185.0 524.76h3.6v1.90h-3.6zM185.0 526.61h3.6v1.90h-3.6zM185.0 572.89h3.6v1.90h-3.6zM185.0 626.58h3.6v1.90h-3.6zM185.0 646.94h3.6v1.90h-3.6zM188.6 580.29h3.6v1.90h-3.6zM188.6 613.62h3.6v1.90h-3.6zM188.6 621.02h3.6v1.90h-3.6zM188.6 626.58h3.6v1.90h-3.6zM188.6 630.28h3.6v1.90h-3.6zM188.6 659.90h3.6v1.90h-3.6zM192.2 613.62h3.6v1.90h-3.6zM192.2 624.72h3.6v1.90h-3.6zM192.2 652.49h3.6v1.90h-3.6zM199.3 532.16h3.6v1.90h-3.6zM199.3 539.57h3.6v1.90h-3.6zM199.3 541.42h3.6v1.90h-3.6zM199.3 545.12h3.6v1.90h-3.6zM199.3 565.48h3.6v1.90h-3.6zM199.3 587.70h3.6v1.90h-3.6zM199.3 589.55h3.6v1.90h-3.6zM199.3 611.76h3.6v1.90h-3.6zM199.3 658.05h3.6v1.90h-3.6zM202.9 554.38h3.6v1.90h-3.6zM202.9 567.34h3.6v1.90h-3.6zM202.9 582.14h3.6v1.90h-3.6zM202.9 593.25h3.6v1.90h-3.6zM202.9 602.51h3.6v1.90h-3.6zM202.9 606.21h3.6v1.90h-3.6zM202.9 608.06h3.6v1.90h-3.6zM202.9 611.76h3.6v1.90h-3.6zM202.9 637.68h3.6v1.90h-3.6zM206.4 535.86h3.6v1.90h-3.6zM206.4 546.97h3.6v1.90h-3.6zM206.4 567.34h3.6v1.90h-3.6zM206.4 584.00h3.6v1.90h-3.6zM210.0 521.05h3.6v1.90h-3.6zM210.0 522.90h3.6v1.90h-3.6zM210.0 556.23h3.6v1.90h-3.6zM210.0 563.63h3.6v1.90h-3.6zM210.0 593.25h3.6v1.90h-3.6zM210.0 617.32h3.6v1.90h-3.6zM210.0 621.02h3.6v1.90h-3.6zM213.6 545.12h3.6v1.90h-3.6zM213.6 565.48h3.6v1.90h-3.6zM213.6 572.89h3.6v1.90h-3.6zM213.6 587.70h3.6v1.90h-3.6zM213.6 595.10h3.6v1.90h-3.6zM213.6 619.17h3.6v1.90h-3.6zM213.6 646.94h3.6v1.90h-3.6zM217.1 534.01h3.6v1.90h-3.6zM217.1 535.86h3.6v1.90h-3.6zM217.1 545.12h3.6v1.90h-3.6zM217.1 571.04h3.6v1.90h-3.6zM217.1 587.70h3.6v1.90h-3.6zM217.1 589.55h3.6v1.90h-3.6zM217.1 598.81h3.6v1.90h-3.6zM217.1 617.32h3.6v1.90h-3.6zM217.1 646.94h3.6v1.90h-3.6zM220.7 519.20h3.6v1.90h-3.6zM220.7 521.05h3.6v1.90h-3.6zM220.7 532.16h3.6v1.90h-3.6zM220.7 548.82h3.6v1.90h-3.6zM220.7 561.78h3.6v1.90h-3.6zM220.7 565.48h3.6v1.90h-3.6zM220.7 580.29h3.6v1.90h-3.6zM220.7 598.81h3.6v1.90h-3.6zM220.7 604.36h3.6v1.90h-3.6zM220.7 613.62h3.6v1.90h-3.6zM220.7 643.24h3.6v1.90h-3.6zM224.3 521.05h3.6v1.90h-3.6zM224.3 535.86h3.6v1.90h-3.6zM224.3 539.57h3.6v1.90h-3.6zM224.3 572.89h3.6v1.90h-3.6zM224.3 598.81h3.6v1.90h-3.6zM224.3 606.21h3.6v1.90h-3.6zM224.3 613.62h3.6v1.90h-3.6zM227.8 519.20h3.6v1.90h-3.6zM227.8 528.46h3.6v1.90h-3.6zM227.8 535.86h3.6v1.90h-3.6zM227.8 545.12h3.6v1.90h-3.6zM227.8 546.97h3.6v1.90h-3.6zM227.8 554.38h3.6v1.90h-3.6zM227.8 559.93h3.6v1.90h-3.6zM227.8 561.78h3.6v1.90h-3.6zM227.8 569.19h3.6v1.90h-3.6zM227.8 637.68h3.6v1.90h-3.6zM231.4 519.20h3.6v1.90h-3.6zM231.4 534.01h3.6v1.90h-3.6zM231.4 552.52h3.6v1.90h-3.6zM231.4 554.38h3.6v1.90h-3.6zM231.4 556.23h3.6v1.90h-3.6zM231.4 578.44h3.6v1.90h-3.6zM231.4 593.25h3.6v1.90h-3.6zM231.4 598.81h3.6v1.90h-3.6zM231.4 615.47h3.6v1.90h-3.6zM231.4 637.68h3.6v1.90h-3.6zM235.0 521.05h3.6v1.90h-3.6zM235.0 528.46h3.6v1.90h-3.6zM235.0 534.01h3.6v1.90h-3.6zM235.0 589.55h3.6v1.90h-3.6zM235.0 602.51h3.6v1.90h-3.6zM235.0 604.36h3.6v1.90h-3.6zM235.0 615.47h3.6v1.90h-3.6zM235.0 617.32h3.6v1.90h-3.6zM235.0 628.43h3.6v1.90h-3.6zM238.6 526.61h3.6v1.90h-3.6zM238.6 545.12h3.6v1.90h-3.6zM238.6 550.67h3.6v1.90h-3.6zM238.6 574.74h3.6v1.90h-3.6zM238.6 606.21h3.6v1.90h-3.6zM238.6 615.47h3.6v1.90h-3.6zM238.6 617.32h3.6v1.90h-3.6zM238.6 619.17h3.6v1.90h-3.6zM238.6 637.68h3.6v1.90h-3.6zM242.1 522.90h3.6v1.90h-3.6zM242.1 556.23h3.6v1.90h-3.6zM242.1 608.06h3.6v1.90h-3.6zM245.7 530.31h3.6v1.90h-3.6zM245.7 548.82h3.6v1.90h-3.6zM245.7 578.44h3.6v1.90h-3.6zM245.7 587.70h3.6v1.90h-3.6zM245.7 611.76h3.6v1.90h-3.6zM245.7 615.47h3.6v1.90h-3.6zM249.3 550.67h3.6v1.90h-3.6zM249.3 552.52h3.6v1.90h-3.6zM249.3 569.19h3.6v1.90h-3.6zM249.3 602.51h3.6v1.90h-3.6zM249.3 611.76h3.6v1.90h-3.6zM249.3 615.47h3.6v1.90h-3.6zM249.3 621.02h3.6v1.90h-3.6zM252.8 552.52h3.6v1.90h-3.6zM252.8 578.44h3.6v1.90h-3.6zM252.8 580.29h3.6v1.90h-3.6zM252.8 585.85h3.6v1.90h-3.6zM252.8 628.43h3.6v1.90h-3.6zM256.4 530.31h3.6v1.90h-3.6zM256.4 550.67h3.6v1.90h-3.6zM256.4 619.17h3.6v1.90h-3.6zM260.0 561.78h3.6v1.90h-3.6zM260.0 578.44h3.6v1.90h-3.6zM260.0 584.00h3.6v1.90h-3.6zM260.0 595.10h3.6v1.90h-3.6zM260.0 602.51h3.6v1.90h-3.6zM260.0 615.47h3.6v1.90h-3.6zM260.0 637.68h3.6v1.90h-3.6zM263.5 522.90h3.6v1.90h-3.6zM263.5 554.38h3.6v1.90h-3.6zM263.5 598.81h3.6v1.90h-3.6zM263.5 604.36h3.6v1.90h-3.6zM263.5 619.17h3.6v1.90h-3.6z"/>
<path fill="#c2dbea" d="M32.5 637.68h13.8v1.90h-13.8zM32.5 652.49h13.8v1.90h-13.8zM32.5 659.90h13.8v1.90h-13.8zM46.3 661.75h14.2v1.90h-14.2zM74.5 517.35h13.8v1.90h-13.8zM74.5 548.82h13.8v1.90h-13.8zM74.5 556.23h13.8v1.90h-13.8zM74.5 565.48h13.8v1.90h-13.8zM74.5 572.89h13.8v1.90h-13.8zM74.5 576.59h13.8v1.90h-13.8zM74.5 580.29h13.8v1.90h-13.8zM74.5 595.10h13.8v1.90h-13.8zM74.5 600.66h13.8v1.90h-13.8zM74.5 617.32h13.8v1.90h-13.8zM74.5 622.87h13.8v1.90h-13.8zM88.2 517.35h14.1v1.90h-14.1zM88.2 534.01h14.1v1.90h-14.1zM88.2 558.08h14.1v1.90h-14.1zM88.2 563.63h14.1v1.90h-14.1zM88.2 565.48h14.1v1.90h-14.1zM88.2 574.74h14.1v1.90h-14.1zM88.2 578.44h14.1v1.90h-14.1zM88.2 580.29h14.1v1.90h-14.1zM88.2 585.85h14.1v1.90h-14.1zM88.2 589.55h14.1v1.90h-14.1zM88.2 593.25h14.1v1.90h-14.1zM88.2 595.10h14.1v1.90h-14.1zM88.2 621.02h14.1v1.90h-14.1zM88.2 622.87h14.1v1.90h-14.1zM102.2 526.61h14.1v1.90h-14.1zM102.2 543.27h14.1v1.90h-14.1zM102.2 574.74h14.1v1.90h-14.1zM102.2 584.00h14.1v1.90h-14.1zM102.2 587.70h14.1v1.90h-14.1zM102.2 617.32h14.1v1.90h-14.1zM102.2 621.02h14.1v1.90h-14.1zM102.2 622.87h14.1v1.90h-14.1zM116.3 517.35h13.7v1.90h-13.7zM116.3 530.31h13.7v1.90h-13.7zM116.3 541.42h13.7v1.90h-13.7zM131.5 524.76h3.6v1.90h-3.6zM131.5 648.79h3.6v1.90h-3.6zM131.5 652.49h3.6v1.90h-3.6zM135.1 622.87h3.6v1.90h-3.6zM135.1 658.05h3.6v1.90h-3.6zM149.3 546.97h3.6v1.90h-3.6zM152.9 621.02h3.6v1.90h-3.6zM152.9 632.13h3.6v1.90h-3.6zM160.0 624.72h3.6v1.90h-3.6zM160.0 643.24h3.6v1.90h-3.6zM163.6 576.59h3.6v1.90h-3.6zM163.6 600.66h3.6v1.90h-3.6zM167.2 517.35h3.6v1.90h-3.6zM167.2 591.40h3.6v1.90h-3.6zM167.2 633.98h3.6v1.90h-3.6zM174.3 661.75h3.6v1.90h-3.6zM177.9 580.29h3.6v1.90h-3.6zM181.5 519.20h3.6v1.90h-3.6zM181.5 567.34h3.6v1.90h-3.6zM181.5 650.64h3.6v1.90h-3.6zM188.6 632.13h3.6v1.90h-3.6zM188.6 645.09h3.6v1.90h-3.6zM188.6 652.49h3.6v1.90h-3.6zM188.6 654.34h3.6v1.90h-3.6zM192.2 517.35h3.6v1.90h-3.6zM192.2 609.91h3.6v1.90h-3.6zM199.3 559.93h3.6v1.90h-3.6zM199.3 593.25h3.6v1.90h-3.6zM199.3 646.94h3.6v1.90h-3.6zM202.9 541.42h3.6v1.90h-3.6zM202.9 595.10h3.6v1.90h-3.6zM206.4 521.05h3.6v1.90h-3.6zM206.4 545.12h3.6v1.90h-3.6zM206.4 552.52h3.6v1.90h-3.6zM206.4 587.70h3.6v1.90h-3.6zM206.4 606.21h3.6v1.90h-3.6zM210.0 528.46h3.6v1.90h-3.6zM210.0 532.16h3.6v1.90h-3.6zM210.0 565.48h3.6v1.90h-3.6zM210.0 608.06h3.6v1.90h-3.6zM210.0 611.76h3.6v1.90h-3.6zM213.6 532.16h3.6v1.90h-3.6zM213.6 543.27h3.6v1.90h-3.6zM213.6 567.34h3.6v1.90h-3.6zM213.6 598.81h3.6v1.90h-3.6zM213.6 641.38h3.6v1.90h-3.6zM217.1 591.40h3.6v1.90h-3.6zM220.7 535.86h3.6v1.90h-3.6zM220.7 550.67h3.6v1.90h-3.6zM220.7 602.51h3.6v1.90h-3.6zM220.7 608.06h3.6v1.90h-3.6zM220.7 617.32h3.6v1.90h-3.6zM224.3 552.52h3.6v1.90h-3.6zM224.3 574.74h3.6v1.90h-3.6zM224.3 584.00h3.6v1.90h-3.6zM224.3 587.70h3.6v1.90h-3.6zM224.3 615.47h3.6v1.90h-3.6zM224.3 619.17h3.6v1.90h-3.6zM227.8 530.31h3.6v1.90h-3.6zM227.8 548.82h3.6v1.90h-3.6zM227.8 595.10h3.6v1.90h-3.6zM227.8 598.81h3.6v1.90h-3.6zM227.8 611.76h3.6v1.90h-3.6zM231.4 545.12h3.6v1.90h-3.6zM231.4 611.76h3.6v1.90h-3.6zM231.4 619.17h3.6v1.90h-3.6zM235.0 600.66h3.6v1.90h-3.6zM235.0 619.17h3.6v1.90h-3.6zM235.0 621.02h3.6v1.90h-3.6zM238.6 521.05h3.6v1.90h-3.6zM238.6 569.19h3.6v1.90h-3.6zM238.6 609.91h3.6v1.90h-3.6zM242.1 550.67h3.6v1.90h-3.6zM242.1 565.48h3.6v1.90h-3.6zM242.1 571.04h3.6v1.90h-3.6zM245.7 532.16h3.6v1.90h-3.6zM245.7 574.74h3.6v1.90h-3.6zM245.7 576.59h3.6v1.90h-3.6zM245.7 582.14h3.6v1.90h-3.6zM245.7 596.96h3.6v1.90h-3.6zM245.7 617.32h3.6v1.90h-3.6zM245.7 646.94h3.6v1.90h-3.6zM249.3 561.78h3.6v1.90h-3.6zM249.3 587.70h3.6v1.90h-3.6zM249.3 595.10h3.6v1.90h-3.6zM252.8 550.67h3.6v1.90h-3.6zM252.8 617.32h3.6v1.90h-3.6zM256.4 589.55h3.6v1.90h-3.6zM256.4 598.81h3.6v1.90h-3.6zM260.0 530.31h3.6v1.90h-3.6zM260.0 569.19h3.6v1.90h-3.6zM263.5 608.06h3.6v1.90h-3.6zM263.5 617.32h3.6v1.90h-3.6z"/>
<path fill="#e6eef4" d="M32.5 643.24h13.8v1.90h-13.8zM60.4 559.93h14.2v1.90h-14.2zM60.4 569.19h14.2v1.90h-14.2zM60.4 572.89h14.2v1.90h-14.2zM60.4 584.00h14.2v1.90h-14.2zM60.4 591.40h14.2v1.90h-14.2zM60.4 595.10h14.2v1.90h-14.2zM60.4 602.51h14.2v1.90h-14.2zM74.5 578.44h13.8v1.90h-13.8zM74.5 596.96h13.8v1.90h-13.8zM74.5 602.51h13.8v1.90h-13.8zM88.2 532.16h14.1v1.90h-14.1zM88.2 537.72h14.1v1.90h-14.1zM88.2 546.97h14.1v1.90h-14.1zM88.2 571.04h14.1v1.90h-14.1zM88.2 608.06h14.1v1.90h-14.1zM102.2 519.20h14.1v1.90h-14.1zM102.2 521.05h14.1v1.90h-14.1zM131.5 517.35h3.6v1.90h-3.6zM131.5 567.34h3.6v1.90h-3.6zM131.5 621.02h3.6v1.90h-3.6zM131.5 643.24h3.6v1.90h-3.6zM131.5 658.05h3.6v1.90h-3.6zM131.5 659.90h3.6v1.90h-3.6zM135.1 558.08h3.6v1.90h-3.6zM135.1 602.51h3.6v1.90h-3.6zM135.1 628.43h3.6v1.90h-3.6zM135.1 639.53h3.6v1.90h-3.6zM135.1 650.64h3.6v1.90h-3.6zM138.6 524.76h3.6v1.90h-3.6zM138.6 526.61h3.6v1.90h-3.6zM138.6 572.89h3.6v1.90h-3.6zM138.6 596.96h3.6v1.90h-3.6zM138.6 624.72h3.6v1.90h-3.6zM138.6 639.53h3.6v1.90h-3.6zM138.6 645.09h3.6v1.90h-3.6zM138.6 654.34h3.6v1.90h-3.6zM142.2 571.04h3.6v1.90h-3.6zM142.2 596.96h3.6v1.90h-3.6zM142.2 628.43h3.6v1.90h-3.6zM142.2 633.98h3.6v1.90h-3.6zM142.2 635.83h3.6v1.90h-3.6zM142.2 639.53h3.6v1.90h-3.6zM142.2 641.38h3.6v1.90h-3.6zM142.2 648.79h3.6v1.90h-3.6zM142.2 659.90h3.6v1.90h-3.6zM142.2 661.75h3.6v1.90h-3.6zM145.8 543.27h3.6v1.90h-3.6zM145.8 619.17h3.6v1.90h-3.6zM145.8 633.98h3.6v1.90h-3.6zM145.8 635.83h3.6v1.90h-3.6zM145.8 637.68h3.6v1.90h-3.6zM149.3 515.50h3.6v1.90h-3.6zM149.3 519.20h3.6v1.90h-3.6zM149.3 600.66h3.6v1.90h-3.6zM149.3 643.24h3.6v1.90h-3.6zM149.3 656.20h3.6v1.90h-3.6zM152.9 524.76h3.6v1.90h-3.6zM152.9 572.89h3.6v1.90h-3.6zM152.9 630.28h3.6v1.90h-3.6zM156.5 515.50h3.6v1.90h-3.6zM156.5 517.35h3.6v1.90h-3.6zM156.5 585.85h3.6v1.90h-3.6zM156.5 624.72h3.6v1.90h-3.6zM156.5 652.49h3.6v1.90h-3.6zM156.5 656.20h3.6v1.90h-3.6zM160.0 576.59h3.6v1.90h-3.6zM160.0 632.13h3.6v1.90h-3.6zM160.0 633.98h3.6v1.90h-3.6zM160.0 639.53h3.6v1.90h-3.6zM163.6 524.76h3.6v1.90h-3.6zM163.6 526.61h3.6v1.90h-3.6zM163.6 613.62h3.6v1.90h-3.6zM163.6 630.28h3.6v1.90h-3.6zM163.6 633.98h3.6v1.90h-3.6zM163.6 639.53h3.6v1.90h-3.6zM167.2 515.50h3.6v1.90h-3.6zM167.2 526.61h3.6v1.90h-3.6zM167.2 558.08h3.6v1.90h-3.6zM167.2 561.78h3.6v1.90h-3.6zM167.2 602.51h3.6v1.90h-3.6zM167.2 613.62h3.6v1.90h-3.6zM167.2 639.53h3.6v1.90h-3.6zM167.2 652.49h3.6v1.90h-3.6zM167.2 654.34h3.6v1.90h-3.6zM167.2 656.20h3.6v1.90h-3.6zM170.8 537.72h3.6v1.90h-3.6zM170.8 576.59h3.6v1.90h-3.6zM170.8 584.00h3.6v1.90h-3.6zM170.8 602.51h3.6v1.90h-3.6zM170.8 613.62h3.6v1.90h-3.6zM170.8 621.02h3.6v1.90h-3.6zM170.8 622.87h3.6v1.90h-3.6zM170.8 628.43h3.6v1.90h-3.6zM170.8 639.53h3.6v1.90h-3.6zM170.8 658.05h3.6v1.90h-3.6zM174.3 524.76h3.6v1.90h-3.6zM174.3 537.72h3.6v1.90h-3.6zM174.3 559.93h3.6v1.90h-3.6zM174.3 650.64h3.6v1.90h-3.6zM177.9 524.76h3.6v1.90h-3.6zM177.9 541.42h3.6v1.90h-3.6zM177.9 596.96h3.6v1.90h-3.6zM177.9 656.20h3.6v1.90h-3.6zM181.5 537.72h3.6v1.90h-3.6zM181.5 548.82h3.6v1.90h-3.6zM181.5 556.23h3.6v1.90h-3.6zM181.5 580.29h3.6v1.90h-3.6zM181.5 652.49h3.6v1.90h-3.6zM181.5 654.34h3.6v1.90h-3.6zM185.0 515.50h3.6v1.90h-3.6zM185.0 563.63h3.6v1.90h-3.6zM185.0 576.59h3.6v1.90h-3.6zM185.0 602.51h3.6v1.90h-3.6zM185.0 641.38h3.6v1.90h-3.6zM188.6 515.50h3.6v1.90h-3.6zM188.6 524.76h3.6v1.90h-3.6zM188.6 567.34h3.6v1.90h-3.6zM188.6 576.59h3.6v1.90h-3.6zM188.6 609.91h3.6v1.90h-3.6zM188.6 622.87h3.6v1.90h-3.6zM188.6 656.20h3.6v1.90h-3.6zM192.2 558.08h3.6v1.90h-3.6zM192.2 563.63h3.6v1.90h-3.6zM192.2 591.40h3.6v1.90h-3.6zM192.2 628.43h3.6v1.90h-3.6zM192.2 654.34h3.6v1.90h-3.6zM199.3 548.82h3.6v1.90h-3.6zM199.3 552.52h3.6v1.90h-3.6zM199.3 556.23h3.6v1.90h-3.6zM199.3 558.08h3.6v1.90h-3.6zM199.3 569.19h3.6v1.90h-3.6zM199.3 582.14h3.6v1.90h-3.6zM199.3 585.85h3.6v1.90h-3.6zM199.3 595.10h3.6v1.90h-3.6zM199.3 604.36h3.6v1.90h-3.6zM199.3 617.32h3.6v1.90h-3.6zM199.3 637.68h3.6v1.90h-3.6zM202.9 522.90h3.6v1.90h-3.6zM202.9 528.46h3.6v1.90h-3.6zM202.9 532.16h3.6v1.90h-3.6zM202.9 534.01h3.6v1.90h-3.6zM202.9 572.89h3.6v1.90h-3.6zM202.9 615.47h3.6v1.90h-3.6zM202.9 619.17h3.6v1.90h-3.6zM206.4 517.35h3.6v1.90h-3.6zM206.4 522.90h3.6v1.90h-3.6zM206.4 528.46h3.6v1.90h-3.6zM206.4 548.82h3.6v1.90h-3.6zM206.4 550.67h3.6v1.90h-3.6zM206.4 554.38h3.6v1.90h-3.6zM206.4 572.89h3.6v1.90h-3.6zM206.4 582.14h3.6v1.90h-3.6zM206.4 615.47h3.6v1.90h-3.6zM206.4 619.17h3.6v1.90h-3.6zM206.4 624.72h3.6v1.90h-3.6zM210.0 519.20h3.6v1.90h-3.6zM210.0 561.78h3.6v1.90h-3.6zM210.0 569.19h3.6v1.90h-3.6zM210.0 595.10h3.6v1.90h-3.6zM210.0 609.91h3.6v1.90h-3.6zM210.0 613.62h3.6v1.90h-3.6zM210.0 615.47h3.6v1.90h-3.6zM210.0 646.94h3.6v1.90h-3.6zM213.6 534.01h3.6v1.90h-3.6zM213.6 548.82h3.6v1.90h-3.6zM213.6 552.52h3.6v1.90h-3.6zM213.6 569.19h3.6v1.90h-3.6zM213.6 574.74h3.6v1.90h-3.6zM213.6 580.29h3.6v1.90h-3.6zM213.6 591.40h3.6v1.90h-3.6zM213.6 596.96h3.6v1.90h-3.6zM213.6 608.06h3.6v1.90h-3.6zM217.1 528.46h3.6v1.90h-3.6zM217.1 582.14h3.6v1.90h-3.6zM217.1 626.58h3.6v1.90h-3.6zM217.1 658.05h3.6v1.90h-3.6zM220.7 522.90h3.6v1.90h-3.6zM220.7 534.01h3.6v1.90h-3.6zM220.7 624.72h3.6v1.90h-3.6zM220.7 646.94h3.6v1.90h-3.6zM224.3 543.27h3.6v1.90h-3.6zM224.3 559.93h3.6v1.90h-3.6zM224.3 571.04h3.6v1.90h-3.6zM224.3 595.10h3.6v1.90h-3.6zM224.3 608.06h3.6v1.90h-3.6zM224.3 626.58h3.6v1.90h-3.6zM227.8 521.05h3.6v1.90h-3.6zM227.8 522.90h3.6v1.90h-3.6zM227.8 526.61h3.6v1.90h-3.6zM227.8 534.01h3.6v1.90h-3.6zM227.8 615.47h3.6v1.90h-3.6zM227.8 626.58h3.6v1.90h-3.6zM231.4 521.05h3.6v1.90h-3.6zM231.4 522.90h3.6v1.90h-3.6zM231.4 528.46h3.6v1.90h-3.6zM231.4 543.27h3.6v1.90h-3.6zM231.4 565.48h3.6v1.90h-3.6zM231.4 582.14h3.6v1.90h-3.6zM231.4 587.70h3.6v1.90h-3.6zM231.4 591.40h3.6v1.90h-3.6zM231.4 609.91h3.6v1.90h-3.6zM231.4 626.58h3.6v1.90h-3.6zM235.0 537.72h3.6v1.90h-3.6zM235.0 546.97h3.6v1.90h-3.6zM235.0 550.67h3.6v1.90h-3.6zM235.0 558.08h3.6v1.90h-3.6zM235.0 611.76h3.6v1.90h-3.6zM238.6 530.31h3.6v1.90h-3.6zM238.6 539.57h3.6v1.90h-3.6zM238.6 543.27h3.6v1.90h-3.6zM238.6 565.48h3.6v1.90h-3.6zM238.6 595.10h3.6v1.90h-3.6zM238.6 596.96h3.6v1.90h-3.6zM238.6 608.06h3.6v1.90h-3.6zM238.6 613.62h3.6v1.90h-3.6zM242.1 515.50h3.6v1.90h-3.6zM242.1 584.00h3.6v1.90h-3.6zM242.1 598.81h3.6v1.90h-3.6zM242.1 602.51h3.6v1.90h-3.6zM242.1 606.21h3.6v1.90h-3.6zM245.7 519.20h3.6v1.90h-3.6zM245.7 550.67h3.6v1.90h-3.6zM245.7 563.63h3.6v1.90h-3.6zM245.7 598.81h3.6v1.90h-3.6zM245.7 602.51h3.6v1.90h-3.6zM245.7 604.36h3.6v1.90h-3.6zM245.7 606.21h3.6v1.90h-3.6zM245.7 608.06h3.6v1.90h-3.6zM245.7 658.05h3.6v1.90h-3.6zM249.3 519.20h3.6v1.90h-3.6zM249.3 532.16h3.6v1.90h-3.6zM249.3 535.86h3.6v1.90h-3.6zM249.3 539.57h3.6v1.90h-3.6zM249.3 545.12h3.6v1.90h-3.6zM249.3 548.82h3.6v1.90h-3.6zM249.3 556.23h3.6v1.90h-3.6zM249.3 576.59h3.6v1.90h-3.6zM249.3 598.81h3.6v1.90h-3.6zM249.3 619.17h3.6v1.90h-3.6zM249.3 637.68h3.6v1.90h-3.6zM249.3 645.09h3.6v1.90h-3.6zM249.3 646.94h3.6v1.90h-3.6zM252.8 587.70h3.6v1.90h-3.6zM252.8 598.81h3.6v1.90h-3.6zM252.8 604.36h3.6v1.90h-3.6zM252.8 615.47h3.6v1.90h-3.6zM256.4 537.72h3.6v1.90h-3.6zM256.4 552.52h3.6v1.90h-3.6zM256.4 561.78h3.6v1.90h-3.6zM256.4 563.63h3.6v1.90h-3.6zM256.4 565.48h3.6v1.90h-3.6zM256.4 569.19h3.6v1.90h-3.6zM256.4 578.44h3.6v1.90h-3.6zM256.4 584.00h3.6v1.90h-3.6zM256.4 591.40h3.6v1.90h-3.6zM260.0 522.90h3.6v1.90h-3.6zM260.0 526.61h3.6v1.90h-3.6zM260.0 528.46h3.6v1.90h-3.6zM260.0 535.86h3.6v1.90h-3.6zM260.0 537.72h3.6v1.90h-3.6zM260.0 545.12h3.6v1.90h-3.6zM260.0 556.23h3.6v1.90h-3.6zM260.0 565.48h3.6v1.90h-3.6zM260.0 567.34h3.6v1.90h-3.6zM260.0 571.04h3.6v1.90h-3.6zM260.0 580.29h3.6v1.90h-3.6zM260.0 600.66h3.6v1.90h-3.6zM260.0 608.06h3.6v1.90h-3.6zM260.0 611.76h3.6v1.90h-3.6zM263.5 528.46h3.6v1.90h-3.6zM263.5 548.82h3.6v1.90h-3.6zM263.5 552.52h3.6v1.90h-3.6zM263.5 595.10h3.6v1.90h-3.6zM263.5 606.21h3.6v1.90h-3.6zM263.5 611.76h3.6v1.90h-3.6zM263.5 637.68h3.6v1.90h-3.6z"/>
<path fill="#b4d4e7" d="M32.5 645.09h13.8v1.90h-13.8zM60.4 582.14h14.2v1.90h-14.2zM74.5 515.50h13.8v1.90h-13.8zM74.5 521.05h13.8v1.90h-13.8zM74.5 526.61h13.8v1.90h-13.8zM74.5 532.16h13.8v1.90h-13.8zM74.5 539.57h13.8v1.90h-13.8zM74.5 554.38h13.8v1.90h-13.8zM74.5 569.19h13.8v1.90h-13.8zM74.5 591.40h13.8v1.90h-13.8zM74.5 593.25h13.8v1.90h-13.8zM74.5 604.36h13.8v1.90h-13.8zM74.5 611.76h13.8v1.90h-13.8zM74.5 613.62h13.8v1.90h-13.8zM88.2 554.38h14.1v1.90h-14.1zM88.2 559.93h14.1v1.90h-14.1zM88.2 591.40h14.1v1.90h-14.1zM88.2 604.36h14.1v1.90h-14.1zM88.2 615.47h14.1v1.90h-14.1zM102.2 530.31h14.1v1.90h-14.1zM102.2 546.97h14.1v1.90h-14.1zM102.2 552.52h14.1v1.90h-14.1zM102.2 571.04h14.1v1.90h-14.1zM102.2 598.81h14.1v1.90h-14.1zM102.2 600.66h14.1v1.90h-14.1zM102.2 602.51h14.1v1.90h-14.1zM102.2 606.21h14.1v1.90h-14.1zM102.2 619.17h14.1v1.90h-14.1zM116.3 532.16h13.7v1.90h-13.7zM116.3 571.04h13.7v1.90h-13.7zM116.3 584.00h13.7v1.90h-13.7zM116.3 608.06h13.7v1.90h-13.7zM116.3 617.32h13.7v1.90h-13.7zM131.5 630.28h3.6v1.90h-3.6zM131.5 661.75h3.6v1.90h-3.6zM135.1 643.24h3.6v1.90h-3.6zM135.1 652.49h3.6v1.90h-3.6zM142.2 630.28h3.6v1.90h-3.6zM142.2 643.24h3.6v1.90h-3.6zM152.9 633.98h3.6v1.90h-3.6zM156.5 630.28h3.6v1.90h-3.6zM156.5 639.53h3.6v1.90h-3.6zM156.5 661.75h3.6v1.90h-3.6zM160.0 641.38h3.6v1.90h-3.6zM160.0 652.49h3.6v1.90h-3.6zM160.0 661.75h3.6v1.90h-3.6zM163.6 648.79h3.6v1.90h-3.6zM163.6 652.49h3.6v1.90h-3.6zM163.6 661.75h3.6v1.90h-3.6zM167.2 524.76h3.6v1.90h-3.6zM167.2 643.24h3.6v1.90h-3.6zM167.2 648.79h3.6v1.90h-3.6zM170.8 630.28h3.6v1.90h-3.6zM170.8 632.13h3.6v1.90h-3.6zM174.3 652.49h3.6v1.90h-3.6zM174.3 654.34h3.6v1.90h-3.6zM177.9 648.79h3.6v1.90h-3.6zM185.0 600.66h3.6v1.90h-3.6zM185.0 630.28h3.6v1.90h-3.6zM185.0 643.24h3.6v1.90h-3.6zM185.0 656.20h3.6v1.90h-3.6zM188.6 558.08h3.6v1.90h-3.6zM188.6 648.79h3.6v1.90h-3.6zM192.2 661.75h3.6v1.90h-3.6zM195.7 519.20h3.6v1.90h-3.6zM195.7 526.61h3.6v1.90h-3.6zM195.7 580.29h3.6v1.90h-3.6zM195.7 584.00h3.6v1.90h-3.6zM195.7 591.40h3.6v1.90h-3.6zM195.7 617.32h3.6v1.90h-3.6zM199.3 524.76h3.6v1.90h-3.6zM199.3 576.59h3.6v1.90h-3.6zM199.3 615.47h3.6v1.90h-3.6zM202.9 552.52h3.6v1.90h-3.6zM202.9 561.78h3.6v1.90h-3.6zM202.9 571.04h3.6v1.90h-3.6zM202.9 617.32h3.6v1.90h-3.6zM206.4 569.19h3.6v1.90h-3.6zM206.4 578.44h3.6v1.90h-3.6zM210.0 539.57h3.6v1.90h-3.6zM210.0 571.04h3.6v1.90h-3.6zM210.0 606.21h3.6v1.90h-3.6zM213.6 589.55h3.6v1.90h-3.6zM217.1 611.76h3.6v1.90h-3.6zM220.7 587.70h3.6v1.90h-3.6zM224.3 554.38h3.6v1.90h-3.6zM224.3 585.85h3.6v1.90h-3.6zM224.3 646.94h3.6v1.90h-3.6zM227.8 565.48h3.6v1.90h-3.6zM227.8 578.44h3.6v1.90h-3.6zM227.8 593.25h3.6v1.90h-3.6zM227.8 619.17h3.6v1.90h-3.6zM231.4 561.78h3.6v1.90h-3.6zM231.4 595.10h3.6v1.90h-3.6zM231.4 608.06h3.6v1.90h-3.6zM235.0 569.19h3.6v1.90h-3.6zM235.0 598.81h3.6v1.90h-3.6zM235.0 609.91h3.6v1.90h-3.6zM238.6 532.16h3.6v1.90h-3.6zM238.6 582.14h3.6v1.90h-3.6zM238.6 587.70h3.6v1.90h-3.6zM242.1 532.16h3.6v1.90h-3.6zM245.7 600.66h3.6v1.90h-3.6zM245.7 619.17h3.6v1.90h-3.6zM249.3 521.05h3.6v1.90h-3.6zM249.3 593.25h3.6v1.90h-3.6zM252.8 530.31h3.6v1.90h-3.6zM252.8 539.57h3.6v1.90h-3.6zM256.4 521.05h3.6v1.90h-3.6zM256.4 528.46h3.6v1.90h-3.6zM256.4 574.74h3.6v1.90h-3.6zM260.0 646.94h3.6v1.90h-3.6zM263.5 532.16h3.6v1.90h-3.6zM263.5 582.14h3.6v1.90h-3.6z"/>
<path fill="#97c4de" d="M32.5 646.94h13.8v1.90h-13.8zM32.5 650.64h13.8v1.90h-13.8zM32.5 656.20h13.8v1.90h-13.8zM46.3 648.79h14.2v1.90h-14.2zM46.3 650.64h14.2v1.90h-14.2zM46.3 656.20h14.2v1.90h-14.2zM46.3 658.05h14.2v1.90h-14.2zM46.3 659.90h14.2v1.90h-14.2zM60.4 641.38h14.2v1.90h-14.2zM60.4 646.94h14.2v1.90h-14.2zM74.5 537.72h13.8v1.90h-13.8zM88.2 569.19h14.1v1.90h-14.1zM88.2 582.14h14.1v1.90h-14.1zM102.2 524.76h14.1v1.90h-14.1zM102.2 535.86h14.1v1.90h-14.1zM102.2 537.72h14.1v1.90h-14.1zM102.2 539.57h14.1v1.90h-14.1zM102.2 545.12h14.1v1.90h-14.1zM102.2 559.93h14.1v1.90h-14.1zM102.2 572.89h14.1v1.90h-14.1zM102.2 580.29h14.1v1.90h-14.1zM102.2 596.96h14.1v1.90h-14.1zM116.3 528.46h13.7v1.90h-13.7zM116.3 543.27h13.7v1.90h-13.7zM116.3 546.97h13.7v1.90h-13.7zM116.3 548.82h13.7v1.90h-13.7zM116.3 552.52h13.7v1.90h-13.7zM116.3 556.23h13.7v1.90h-13.7zM116.3 558.08h13.7v1.90h-13.7zM116.3 561.78h13.7v1.90h-13.7zM116.3 565.48h13.7v1.90h-13.7zM116.3 576.59h13.7v1.90h-13.7zM116.3 585.85h13.7v1.90h-13.7zM116.3 587.70h13.7v1.90h-13.7zM116.3 589.55h13.7v1.90h-13.7zM116.3 591.40h13.7v1.90h-13.7zM116.3 593.25h13.7v1.90h-13.7zM116.3 598.81h13.7v1.90h-13.7zM116.3 600.66h13.7v1.90h-13.7zM116.3 602.51h13.7v1.90h-13.7zM116.3 611.76h13.7v1.90h-13.7zM116.3 622.87h13.7v1.90h-13.7zM135.1 654.34h3.6v1.90h-3.6zM149.3 622.87h3.6v1.90h-3.6zM149.3 648.79h3.6v1.90h-3.6zM163.6 654.34h3.6v1.90h-3.6zM167.2 661.75h3.6v1.90h-3.6zM177.9 622.87h3.6v1.90h-3.6zM177.9 624.72h3.6v1.90h-3.6zM188.6 517.35h3.6v1.90h-3.6zM192.2 635.83h3.6v1.90h-3.6zM192.2 648.79h3.6v1.90h-3.6zM199.3 534.01h3.6v1.90h-3.6zM199.3 574.74h3.6v1.90h-3.6zM202.9 589.55h3.6v1.90h-3.6zM206.4 543.27h3.6v1.90h-3.6zM210.0 574.74h3.6v1.90h-3.6zM210.0 600.66h3.6v1.90h-3.6zM213.6 611.76h3.6v1.90h-3.6zM213.6 617.32h3.6v1.90h-3.6zM217.1 532.16h3.6v1.90h-3.6zM217.1 561.78h3.6v1.90h-3.6zM220.7 528.46h3.6v1.90h-3.6zM220.7 552.52h3.6v1.90h-3.6zM220.7 554.38h3.6v1.90h-3.6zM220.7 589.55h3.6v1.90h-3.6zM220.7 611.76h3.6v1.90h-3.6zM224.3 565.48h3.6v1.90h-3.6zM227.8 574.74h3.6v1.90h-3.6zM227.8 617.32h3.6v1.90h-3.6zM231.4 532.16h3.6v1.90h-3.6zM231.4 574.74h3.6v1.90h-3.6zM235.0 530.31h3.6v1.90h-3.6zM238.6 535.86h3.6v1.90h-3.6zM242.1 578.44h3.6v1.90h-3.6zM242.1 621.02h3.6v1.90h-3.6zM245.7 589.55h3.6v1.90h-3.6zM249.3 537.72h3.6v1.90h-3.6zM249.3 582.14h3.6v1.90h-3.6zM252.8 611.76h3.6v1.90h-3.6zM256.4 548.82h3.6v1.90h-3.6zM256.4 595.10h3.6v1.90h-3.6zM256.4 606.21h3.6v1.90h-3.6zM260.0 619.17h3.6v1.90h-3.6z"/>
<path fill="#a6cde3" d="M32.5 648.79h13.8v1.90h-13.8zM32.5 654.34h13.8v1.90h-13.8zM32.5 661.75h13.8v1.90h-13.8zM46.3 652.49h14.2v1.90h-14.2zM46.3 654.34h14.2v1.90h-14.2zM60.4 628.43h14.2v1.90h-14.2zM60.4 630.28h14.2v1.90h-14.2zM60.4 639.53h14.2v1.90h-14.2zM60.4 645.09h14.2v1.90h-14.2zM74.5 519.20h13.8v1.90h-13.8zM74.5 522.90h13.8v1.90h-13.8zM74.5 524.76h13.8v1.90h-13.8zM74.5 534.01h13.8v1.90h-13.8zM74.5 535.86h13.8v1.90h-13.8zM74.5 541.42h13.8v1.90h-13.8zM74.5 546.97h13.8v1.90h-13.8zM74.5 550.67h13.8v1.90h-13.8zM74.5 552.52h13.8v1.90h-13.8zM74.5 585.85h13.8v1.90h-13.8zM74.5 609.91h13.8v1.90h-13.8zM74.5 615.47h13.8v1.90h-13.8zM88.2 528.46h14.1v1.90h-14.1zM88.2 545.12h14.1v1.90h-14.1zM88.2 602.51h14.1v1.90h-14.1zM88.2 611.76h14.1v1.90h-14.1zM88.2 619.17h14.1v1.90h-14.1zM102.2 532.16h14.1v1.90h-14.1zM102.2 534.01h14.1v1.90h-14.1zM102.2 541.42h14.1v1.90h-14.1zM102.2 548.82h14.1v1.90h-14.1zM102.2 550.67h14.1v1.90h-14.1zM102.2 556.23h14.1v1.90h-14.1zM102.2 558.08h14.1v1.90h-14.1zM102.2 565.48h14.1v1.90h-14.1zM102.2 569.19h14.1v1.90h-14.1zM102.2 576.59h14.1v1.90h-14.1zM102.2 578.44h14.1v1.90h-14.1zM102.2 585.85h14.1v1.90h-14.1zM102.2 589.55h14.1v1.90h-14.1zM102.2 591.40h14.1v1.90h-14.1zM102.2 593.25h14.1v1.90h-14.1zM102.2 604.36h14.1v1.90h-14.1zM102.2 608.06h14.1v1.90h-14.1zM102.2 609.91h14.1v1.90h-14.1zM116.3 550.67h13.7v1.90h-13.7zM116.3 554.38h13.7v1.90h-13.7zM116.3 567.34h13.7v1.90h-13.7zM116.3 578.44h13.7v1.90h-13.7zM116.3 613.62h13.7v1.90h-13.7zM116.3 624.72h13.7v1.90h-13.7zM131.5 633.98h3.6v1.90h-3.6zM149.3 661.75h3.6v1.90h-3.6zM152.9 622.87h3.6v1.90h-3.6zM152.9 656.20h3.6v1.90h-3.6zM156.5 613.62h3.6v1.90h-3.6zM163.6 622.87h3.6v1.90h-3.6zM167.2 584.00h3.6v1.90h-3.6zM167.2 609.91h3.6v1.90h-3.6zM167.2 630.28h3.6v1.90h-3.6zM170.8 515.50h3.6v1.90h-3.6zM170.8 661.75h3.6v1.90h-3.6zM174.3 628.43h3.6v1.90h-3.6zM174.3 648.79h3.6v1.90h-3.6zM177.9 643.24h3.6v1.90h-3.6zM185.0 648.79h3.6v1.90h-3.6zM185.0 659.90h3.6v1.90h-3.6zM192.2 622.87h3.6v1.90h-3.6zM199.3 578.44h3.6v1.90h-3.6zM202.9 530.31h3.6v1.90h-3.6zM206.4 561.78h3.6v1.90h-3.6zM206.4 589.55h3.6v1.90h-3.6zM210.0 589.55h3.6v1.90h-3.6zM213.6 528.46h3.6v1.90h-3.6zM213.6 530.31h3.6v1.90h-3.6zM220.7 606.21h3.6v1.90h-3.6zM224.3 532.16h3.6v1.90h-3.6zM224.3 593.25h3.6v1.90h-3.6zM227.8 532.16h3.6v1.90h-3.6zM231.4 550.67h3.6v1.90h-3.6zM231.4 617.32h3.6v1.90h-3.6zM235.0 548.82h3.6v1.90h-3.6zM242.1 587.70h3.6v1.90h-3.6zM245.7 521.05h3.6v1.90h-3.6zM249.3 600.66h3.6v1.90h-3.6zM252.8 576.59h3.6v1.90h-3.6zM252.8 582.14h3.6v1.90h-3.6zM252.8 606.21h3.6v1.90h-3.6zM256.4 600.66h3.6v1.90h-3.6zM260.0 550.67h3.6v1.90h-3.6zM260.0 589.55h3.6v1.90h-3.6zM263.5 530.31h3.6v1.90h-3.6zM263.5 589.55h3.6v1.90h-3.6z"/>
<path fill="#78b1d5" d="M32.5 658.05h13.8v1.90h-13.8zM60.4 635.83h14.2v1.90h-14.2zM60.4 637.68h14.2v1.90h-14.2zM60.4 652.49h14.2v1.90h-14.2zM60.4 654.34h14.2v1.90h-14.2zM60.4 658.05h14.2v1.90h-14.2zM60.4 661.75h14.2v1.90h-14.2zM74.5 545.12h13.8v1.90h-13.8zM74.5 582.14h13.8v1.90h-13.8zM102.2 582.14h14.1v1.90h-14.1zM116.3 537.72h13.7v1.90h-13.7zM116.3 539.57h13.7v1.90h-13.7zM116.3 559.93h13.7v1.90h-13.7zM116.3 563.63h13.7v1.90h-13.7zM116.3 595.10h13.7v1.90h-13.7zM116.3 604.36h13.7v1.90h-13.7zM138.6 643.24h3.6v1.90h-3.6zM138.6 659.90h3.6v1.90h-3.6zM167.2 626.58h3.6v1.90h-3.6zM170.8 626.58h3.6v1.90h-3.6zM170.8 652.49h3.6v1.90h-3.6zM174.3 630.28h3.6v1.90h-3.6zM174.3 639.53h3.6v1.90h-3.6zM174.3 646.94h3.6v1.90h-3.6zM177.9 633.98h3.6v1.90h-3.6zM177.9 639.53h3.6v1.90h-3.6zM177.9 645.09h3.6v1.90h-3.6zM181.5 635.83h3.6v1.90h-3.6zM181.5 641.38h3.6v1.90h-3.6zM181.5 643.24h3.6v1.90h-3.6zM181.5 656.20h3.6v1.90h-3.6zM181.5 658.05h3.6v1.90h-3.6zM185.0 624.72h3.6v1.90h-3.6zM185.0 628.43h3.6v1.90h-3.6zM185.0 632.13h3.6v1.90h-3.6zM185.0 633.98h3.6v1.90h-3.6zM185.0 635.83h3.6v1.90h-3.6zM185.0 650.64h3.6v1.90h-3.6zM188.6 624.72h3.6v1.90h-3.6zM188.6 628.43h3.6v1.90h-3.6zM188.6 639.53h3.6v1.90h-3.6zM188.6 646.94h3.6v1.90h-3.6zM188.6 661.75h3.6v1.90h-3.6zM192.2 630.28h3.6v1.90h-3.6zM192.2 633.98h3.6v1.90h-3.6zM192.2 643.24h3.6v1.90h-3.6zM195.7 539.57h3.6v1.90h-3.6zM195.7 550.67h3.6v1.90h-3.6zM195.7 569.19h3.6v1.90h-3.6zM195.7 574.74h3.6v1.90h-3.6zM195.7 613.62h3.6v1.90h-3.6zM195.7 619.17h3.6v1.90h-3.6zM195.7 624.72h3.6v1.90h-3.6zM195.7 630.28h3.6v1.90h-3.6zM195.7 632.13h3.6v1.90h-3.6zM195.7 639.53h3.6v1.90h-3.6zM195.7 643.24h3.6v1.90h-3.6zM195.7 646.94h3.6v1.90h-3.6zM195.7 652.49h3.6v1.90h-3.6zM195.7 656.20h3.6v1.90h-3.6zM199.3 528.46h3.6v1.90h-3.6zM213.6 535.86h3.6v1.90h-3.6zM224.3 561.78h3.6v1.90h-3.6zM242.1 567.34h3.6v1.90h-3.6zM252.8 559.93h3.6v1.90h-3.6zM252.8 561.78h3.6v1.90h-3.6zM260.0 591.40h3.6v1.90h-3.6z"/>
<path fill="#d2594c" d="M46.3 582.14h14.2v1.90h-14.2zM60.4 615.47h14.2v1.90h-14.2zM149.3 532.16h3.6v1.90h-3.6zM149.3 535.86h3.6v1.90h-3.6zM170.8 595.10h3.6v1.90h-3.6zM177.9 585.85h3.6v1.90h-3.6zM188.6 619.17h3.6v1.90h-3.6zM192.2 606.21h3.6v1.90h-3.6zM195.7 517.35h3.6v1.90h-3.6zM195.7 521.05h3.6v1.90h-3.6zM195.7 524.76h3.6v1.90h-3.6zM195.7 532.16h3.6v1.90h-3.6zM195.7 595.10h3.6v1.90h-3.6zM195.7 606.21h3.6v1.90h-3.6zM220.7 659.90h3.6v1.90h-3.6zM235.0 645.09h3.6v1.90h-3.6zM235.0 656.20h3.6v1.90h-3.6zM235.0 659.90h3.6v1.90h-3.6zM238.6 626.58h3.6v1.90h-3.6zM238.6 632.13h3.6v1.90h-3.6zM242.1 648.79h3.6v1.90h-3.6zM245.7 641.38h3.6v1.90h-3.6zM249.3 624.72h3.6v1.90h-3.6zM252.8 654.34h3.6v1.90h-3.6zM256.4 622.87h3.6v1.90h-3.6zM256.4 628.43h3.6v1.90h-3.6zM256.4 658.05h3.6v1.90h-3.6zM260.0 639.53h3.6v1.90h-3.6zM260.0 650.64h3.6v1.90h-3.6zM260.0 654.34h3.6v1.90h-3.6zM263.5 633.98h3.6v1.90h-3.6zM263.5 654.34h3.6v1.90h-3.6z"/>
<path fill="#4c91c4" d="M46.3 626.58h14.2v1.90h-14.2zM46.3 632.13h14.2v1.90h-14.2zM102.2 613.62h14.1v1.90h-14.1zM131.5 641.38h3.6v1.90h-3.6zM145.8 652.49h3.6v1.90h-3.6zM167.2 650.64h3.6v1.90h-3.6zM170.8 643.24h3.6v1.90h-3.6zM188.6 658.05h3.6v1.90h-3.6zM195.7 515.50h3.6v1.90h-3.6zM195.7 528.46h3.6v1.90h-3.6zM195.7 530.31h3.6v1.90h-3.6zM195.7 534.01h3.6v1.90h-3.6zM195.7 537.72h3.6v1.90h-3.6zM195.7 561.78h3.6v1.90h-3.6zM195.7 565.48h3.6v1.90h-3.6zM195.7 589.55h3.6v1.90h-3.6zM195.7 600.66h3.6v1.90h-3.6zM195.7 602.51h3.6v1.90h-3.6zM195.7 604.36h3.6v1.90h-3.6zM195.7 621.02h3.6v1.90h-3.6zM195.7 626.58h3.6v1.90h-3.6zM195.7 650.64h3.6v1.90h-3.6zM195.7 661.75h3.6v1.90h-3.6zM199.3 521.05h3.6v1.90h-3.6zM199.3 530.31h3.6v1.90h-3.6zM202.9 569.19h3.6v1.90h-3.6zM210.0 578.44h3.6v1.90h-3.6zM217.1 608.06h3.6v1.90h-3.6zM231.4 604.36h3.6v1.90h-3.6zM242.1 519.20h3.6v1.90h-3.6zM263.5 565.48h3.6v1.90h-3.6z"/>
<path fill="#458ac0" d="M46.3 628.43h14.2v1.90h-14.2zM46.3 641.38h14.2v1.90h-14.2zM116.3 519.20h13.7v1.90h-13.7zM116.3 524.76h13.7v1.90h-13.7zM138.6 622.87h3.6v1.90h-3.6zM142.2 658.05h3.6v1.90h-3.6zM145.8 624.72h3.6v1.90h-3.6zM185.0 661.75h3.6v1.90h-3.6zM217.1 574.74h3.6v1.90h-3.6zM242.1 595.10h3.6v1.90h-3.6zM260.0 521.05h3.6v1.90h-3.6z"/>
<path fill="#3d82bc" d="M46.3 630.28h14.2v1.90h-14.2zM46.3 639.53h14.2v1.90h-14.2zM46.3 643.24h14.2v1.90h-14.2zM102.2 611.76h14.1v1.90h-14.1zM116.3 521.05h13.7v1.90h-13.7zM224.3 569.19h3.6v1.90h-3.6zM245.7 522.90h3.6v1.90h-3.6zM245.7 524.76h3.6v1.90h-3.6zM245.7 537.72h3.6v1.90h-3.6zM245.7 539.57h3.6v1.90h-3.6zM245.7 546.97h3.6v1.90h-3.6zM249.3 528.46h3.6v1.90h-3.6zM252.8 524.76h3.6v1.90h-3.6zM252.8 534.01h3.6v1.90h-3.6zM252.8 535.86h3.6v1.90h-3.6zM252.8 541.42h3.6v1.90h-3.6zM252.8 546.97h3.6v1.90h-3.6zM252.8 548.82h3.6v1.90h-3.6zM252.8 554.38h3.6v1.90h-3.6zM256.4 522.90h3.6v1.90h-3.6zM256.4 526.61h3.6v1.90h-3.6zM256.4 558.08h3.6v1.90h-3.6zM260.0 534.01h3.6v1.90h-3.6zM260.0 543.27h3.6v1.90h-3.6zM260.0 548.82h3.6v1.90h-3.6zM260.0 558.08h3.6v1.90h-3.6zM263.5 534.01h3.6v1.90h-3.6zM263.5 537.72h3.6v1.90h-3.6zM263.5 539.57h3.6v1.90h-3.6zM263.5 543.27h3.6v1.90h-3.6zM263.5 550.67h3.6v1.90h-3.6zM263.5 556.23h3.6v1.90h-3.6z"/>
<path fill="#5398c8" d="M46.3 633.98h14.2v1.90h-14.2zM46.3 635.83h14.2v1.90h-14.2zM46.3 637.68h14.2v1.90h-14.2zM46.3 645.09h14.2v1.90h-14.2zM74.5 619.17h13.8v1.90h-13.8zM74.5 621.02h13.8v1.90h-13.8zM116.3 522.90h13.7v1.90h-13.7zM185.0 639.53h3.6v1.90h-3.6zM217.1 619.17h3.6v1.90h-3.6zM242.1 521.05h3.6v1.90h-3.6zM242.1 554.38h3.6v1.90h-3.6zM245.7 569.19h3.6v1.90h-3.6zM252.8 532.16h3.6v1.90h-3.6zM260.0 587.70h3.6v1.90h-3.6z"/>
<path fill="#5a9fcc" d="M46.3 646.94h14.2v1.90h-14.2zM188.6 635.83h3.6v1.90h-3.6zM202.9 585.85h3.6v1.90h-3.6zM206.4 591.40h3.6v1.90h-3.6zM213.6 606.21h3.6v1.90h-3.6zM235.0 532.16h3.6v1.90h-3.6zM235.0 535.86h3.6v1.90h-3.6zM235.0 613.62h3.6v1.90h-3.6zM238.6 541.42h3.6v1.90h-3.6zM238.6 552.52h3.6v1.90h-3.6zM245.7 585.85h3.6v1.90h-3.6zM245.7 609.91h3.6v1.90h-3.6zM249.3 534.01h3.6v1.90h-3.6zM252.8 556.23h3.6v1.90h-3.6zM260.0 613.62h3.6v1.90h-3.6z"/>
<path fill="#cc4e46" d="M60.4 619.17h14.2v1.90h-14.2zM135.1 535.86h3.6v1.90h-3.6zM152.9 548.82h3.6v1.90h-3.6zM174.3 532.16h3.6v1.90h-3.6zM181.5 561.78h3.6v1.90h-3.6zM185.0 569.19h3.6v1.90h-3.6zM188.6 591.40h3.6v1.90h-3.6zM192.2 608.06h3.6v1.90h-3.6zM199.3 635.83h3.6v1.90h-3.6zM206.4 626.58h3.6v1.90h-3.6zM242.1 624.72h3.6v1.90h-3.6zM260.0 645.09h3.6v1.90h-3.6z"/>
<path fill="#88bbda" d="M60.4 626.58h14.2v1.90h-14.2zM60.4 632.13h14.2v1.90h-14.2zM60.4 643.24h14.2v1.90h-14.2zM60.4 656.20h14.2v1.90h-14.2zM60.4 659.90h14.2v1.90h-14.2zM74.5 528.46h13.8v1.90h-13.8zM74.5 558.08h13.8v1.90h-13.8zM102.2 528.46h14.1v1.90h-14.1zM102.2 561.78h14.1v1.90h-14.1zM102.2 563.63h14.1v1.90h-14.1zM116.3 535.86h13.7v1.90h-13.7zM116.3 569.19h13.7v1.90h-13.7zM116.3 572.89h13.7v1.90h-13.7zM116.3 580.29h13.7v1.90h-13.7zM116.3 582.14h13.7v1.90h-13.7zM116.3 596.96h13.7v1.90h-13.7zM116.3 609.91h13.7v1.90h-13.7zM116.3 615.47h13.7v1.90h-13.7zM116.3 619.17h13.7v1.90h-13.7zM116.3 621.02h13.7v1.90h-13.7zM142.2 517.35h3.6v1.90h-3.6zM160.0 626.58h3.6v1.90h-3.6zM167.2 628.43h3.6v1.90h-3.6zM170.8 654.34h3.6v1.90h-3.6zM177.9 630.28h3.6v1.90h-3.6zM177.9 652.49h3.6v1.90h-3.6zM181.5 628.43h3.6v1.90h-3.6zM206.4 530.31h3.6v1.90h-3.6zM206.4 541.42h3.6v1.90h-3.6zM210.0 517.35h3.6v1.90h-3.6zM213.6 546.97h3.6v1.90h-3.6zM213.6 578.44h3.6v1.90h-3.6zM220.7 574.74h3.6v1.90h-3.6zM224.3 534.01h3.6v1.90h-3.6zM231.4 569.19h3.6v1.90h-3.6zM231.4 572.89h3.6v1.90h-3.6zM235.0 608.06h3.6v1.90h-3.6zM242.1 609.91h3.6v1.90h-3.6zM245.7 595.10h3.6v1.90h-3.6zM249.3 565.48h3.6v1.90h-3.6zM252.8 589.55h3.6v1.90h-3.6zM256.4 571.04h3.6v1.90h-3.6zM263.5 576.59h3.6v1.90h-3.6z"/>
<path fill="#69a8d1" d="M60.4 633.98h14.2v1.90h-14.2zM60.4 648.79h14.2v1.90h-14.2zM60.4 650.64h14.2v1.90h-14.2zM116.3 534.01h13.7v1.90h-13.7zM116.3 545.12h13.7v1.90h-13.7zM202.9 565.48h3.6v1.90h-3.6zM206.4 558.08h3.6v1.90h-3.6zM206.4 613.62h3.6v1.90h-3.6zM217.1 559.93h3.6v1.90h-3.6zM217.1 584.00h3.6v1.90h-3.6zM235.0 556.23h3.6v1.90h-3.6zM238.6 515.50h3.6v1.90h-3.6zM238.6 598.81h3.6v1.90h-3.6zM238.6 621.02h3.6v1.90h-3.6z"/>
<path fill="#2f74b4" d="M116.3 526.61h13.7v1.90h-13.7zM185.0 654.34h3.6v1.90h-3.6zM192.2 641.38h3.6v1.90h-3.6zM195.7 635.83h3.6v1.90h-3.6zM231.4 606.21h3.6v1.90h-3.6z"/>
<path fill="#c74441" d="M135.1 611.76h3.6v1.90h-3.6zM174.3 521.05h3.6v1.90h-3.6zM174.3 600.66h3.6v1.90h-3.6zM181.5 541.42h3.6v1.90h-3.6zM181.5 563.63h3.6v1.90h-3.6zM185.0 598.81h3.6v1.90h-3.6zM227.8 656.20h3.6v1.90h-3.6zM231.4 654.34h3.6v1.90h-3.6z"/>
<path fill="#bc2e36" d="M142.2 539.57h3.6v1.90h-3.6zM145.8 541.42h3.6v1.90h-3.6zM156.5 578.44h3.6v1.90h-3.6zM188.6 521.05h3.6v1.90h-3.6zM195.7 522.90h3.6v1.90h-3.6zM195.7 535.86h3.6v1.90h-3.6zM195.7 546.97h3.6v1.90h-3.6zM195.7 556.23h3.6v1.90h-3.6zM195.7 558.08h3.6v1.90h-3.6zM195.7 563.63h3.6v1.90h-3.6zM195.7 576.59h3.6v1.90h-3.6zM195.7 582.14h3.6v1.90h-3.6zM217.1 633.98h3.6v1.90h-3.6z"/>
<path fill="#b72331" d="M145.8 535.86h3.6v1.90h-3.6zM156.5 595.10h3.6v1.90h-3.6zM199.3 633.98h3.6v1.90h-3.6z"/>
<path fill="#2166ac" d="M145.8 661.75h3.6v1.90h-3.6zM249.3 589.55h3.6v1.90h-3.6z"/>
<path fill="#286db0" d="M149.3 641.38h3.6v1.90h-3.6z"/>
<path fill="#b2182b" d="M152.9 602.51h3.6v1.90h-3.6z"/>
<path fill="#c2393c" d="M156.5 569.19h3.6v1.90h-3.6zM167.2 532.16h3.6v1.90h-3.6zM177.9 521.05h3.6v1.90h-3.6zM210.0 645.09h3.6v1.90h-3.6zM245.7 645.09h3.6v1.90h-3.6zM252.8 658.05h3.6v1.90h-3.6z"/>
<path fill="#367bb8" d="M206.4 595.10h3.6v1.90h-3.6z"/>
</g>
<rect x="129.90" y="506.50" width="1.60" height="158.00" fill="#fff"/>
<rect x="32.50" y="506.80" width="42.00" height="7.90" fill="#c9211e"/>
<rect x="74.50" y="506.80" width="55.40" height="7.90" fill="#3b82c4"/>
<rect x="131.80" y="507.00" width="67.20" height="7.80" fill="#c9211e"/>
<rect x="199.00" y="507.00" width="68.10" height="7.80" fill="#3b82c4"/>
<text transform="translate(37.70,513.60)" font-size="6.6" text-anchor="start" font-weight="normal" font-style="normal" fill="#fff" stroke="#fff" stroke-width="0.1"  textLength="13.1" lengthAdjust="spacingAndGlyphs">HPC</text>
<text transform="translate(51.10,511.00)" font-size="4.3" text-anchor="start" font-weight="normal" font-style="normal" fill="#fff" stroke="#fff" stroke-width="0.1"  textLength="17.2" lengthAdjust="spacingAndGlyphs">LSK p210</text>
<text transform="translate(81.00,513.60)" font-size="6.6" text-anchor="start" font-weight="normal" font-style="normal" fill="#fff" stroke="#fff" stroke-width="0.1"  textLength="12.7" lengthAdjust="spacingAndGlyphs">HPC</text>
<text transform="translate(94.00,511.00)" font-size="4.3" text-anchor="start" font-weight="normal" font-style="normal" fill="#fff" stroke="#fff" stroke-width="0.1"  textLength="32.5" lengthAdjust="spacingAndGlyphs">LSK p210 Cdk6-/-</text>
<text transform="translate(146.80,513.70)" font-size="7" text-anchor="start" font-weight="normal" font-style="normal" fill="#fff" stroke="#fff" stroke-width="0.1"  textLength="30.3" lengthAdjust="spacingAndGlyphs">CML-CDK6</text>
<text transform="translate(177.70,510.80)" font-size="4.6" text-anchor="start" font-weight="normal" font-style="normal" fill="#fff" stroke="#fff" stroke-width="0.1"  textLength="8.3" lengthAdjust="spacingAndGlyphs">high</text>
<text transform="translate(212.50,513.70)" font-size="7" text-anchor="start" font-weight="normal" font-style="normal" fill="#fff" stroke="#fff" stroke-width="0.1"  textLength="29.6" lengthAdjust="spacingAndGlyphs">CML-CDK6</text>
<text transform="translate(242.70,510.80)" font-size="4.6" text-anchor="start" font-weight="normal" font-style="normal" fill="#fff" stroke="#fff" stroke-width="0.1"  textLength="7.5" lengthAdjust="spacingAndGlyphs">low</text>
<polyline fill="none" stroke="#4a4a4a" stroke-width="0.8" points="46.1,497.7 46.1,493.2 67.3,493.2 67.3,506.8"/>
<polyline fill="none" stroke="#4a4a4a" stroke-width="0.8" points="39.2,506.8 39.2,497.7 53.1,497.7 53.1,506.8"/>
<polyline fill="none" stroke="#4a4a4a" stroke-width="0.8" points="56.6,493.2 56.6,485.3 111.0,485.3 111.0,497.9"/>
<polyline fill="none" stroke="#4a4a4a" stroke-width="0.8" points="81.3,506.8 81.3,497.9 123.2,497.9 123.2,506.8"/>
<polyline fill="none" stroke="#4a4a4a" stroke-width="0.8" points="95.2,497.9 95.2,506.8"/>
<polyline fill="none" stroke="#4a4a4a" stroke-width="0.8" points="109.3,497.9 109.3,506.8"/>
<polyline fill="none" stroke="#5e5e5e" stroke-width="0.6" points="136.9,507.0 136.9,502.0 140.4,502.0 140.4,507.0"/>
<polyline fill="none" stroke="#5e5e5e" stroke-width="0.6" points="138.6,502.0 138.6,499.1 144.0,499.1 144.0,507.0"/>
<polyline fill="none" stroke="#5e5e5e" stroke-width="0.6" points="133.3,507.0 133.3,497.9 141.3,497.9 141.3,499.1"/>
<polyline fill="none" stroke="#5e5e5e" stroke-width="0.6" points="154.7,507.0 154.7,502.8 158.3,502.8 158.3,507.0"/>
<polyline fill="none" stroke="#5e5e5e" stroke-width="0.6" points="151.1,507.0 151.1,499.9 156.5,499.9 156.5,502.8"/>
<polyline fill="none" stroke="#5e5e5e" stroke-width="0.6" points="161.8,507.0 161.8,501.1 165.4,501.1 165.4,507.0"/>
<polyline fill="none" stroke="#5e5e5e" stroke-width="0.6" points="153.8,499.9 153.8,497.7 163.6,497.7 163.6,501.1"/>
<polyline fill="none" stroke="#5e5e5e" stroke-width="0.6" points="147.6,507.0 147.6,496.4 158.7,496.4 158.7,497.7"/>
<polyline fill="none" stroke="#5e5e5e" stroke-width="0.6" points="137.3,497.9 137.3,494.3 153.1,494.3 153.1,496.4"/>
<polyline fill="none" stroke="#5e5e5e" stroke-width="0.6" points="172.5,507.0 172.5,502.7 176.1,502.7 176.1,507.0"/>
<polyline fill="none" stroke="#5e5e5e" stroke-width="0.6" points="169.0,507.0 169.0,500.6 174.3,500.6 174.3,502.7"/>
<polyline fill="none" stroke="#5e5e5e" stroke-width="0.6" points="179.7,507.0 179.7,502.2 183.2,502.2 183.2,507.0"/>
<polyline fill="none" stroke="#5e5e5e" stroke-width="0.6" points="190.4,507.0 190.4,501.9 193.9,501.9 193.9,507.0"/>
<polyline fill="none" stroke="#5e5e5e" stroke-width="0.6" points="192.2,501.9 192.2,499.2 197.5,499.2 197.5,507.0"/>
<polyline fill="none" stroke="#5e5e5e" stroke-width="0.6" points="186.8,507.0 186.8,497.8 194.8,497.8 194.8,499.2"/>
<polyline fill="none" stroke="#5e5e5e" stroke-width="0.6" points="181.5,502.2 181.5,495.4 190.8,495.4 190.8,497.8"/>
<polyline fill="none" stroke="#5e5e5e" stroke-width="0.6" points="171.6,500.6 171.6,494.1 186.1,494.1 186.1,495.4"/>
<polyline fill="none" stroke="#5e5e5e" stroke-width="0.6" points="145.2,494.3 145.2,489.8 178.9,489.8 178.9,494.1"/>
<polyline fill="none" stroke="#5e5e5e" stroke-width="0.6" points="204.7,507.0 204.7,501.2 208.2,501.2 208.2,507.0"/>
<polyline fill="none" stroke="#5e5e5e" stroke-width="0.6" points="201.1,507.0 201.1,500.0 206.4,500.0 206.4,501.2"/>
<polyline fill="none" stroke="#5e5e5e" stroke-width="0.6" points="218.9,507.0 218.9,502.2 222.5,502.2 222.5,507.0"/>
<polyline fill="none" stroke="#5e5e5e" stroke-width="0.6" points="220.7,502.2 220.7,500.5 226.1,500.5 226.1,507.0"/>
<polyline fill="none" stroke="#5e5e5e" stroke-width="0.6" points="215.4,507.0 215.4,498.3 223.4,498.3 223.4,500.5"/>
<polyline fill="none" stroke="#5e5e5e" stroke-width="0.6" points="211.8,507.0 211.8,497.1 219.4,497.1 219.4,498.3"/>
<polyline fill="none" stroke="#5e5e5e" stroke-width="0.6" points="233.2,507.0 233.2,501.7 236.8,501.7 236.8,507.0"/>
<polyline fill="none" stroke="#5e5e5e" stroke-width="0.6" points="229.6,507.0 229.6,499.7 235.0,499.7 235.0,501.7"/>
<polyline fill="none" stroke="#5e5e5e" stroke-width="0.6" points="240.3,507.0 240.3,501.8 243.9,501.8 243.9,507.0"/>
<polyline fill="none" stroke="#5e5e5e" stroke-width="0.6" points="232.3,499.7 232.3,498.0 242.1,498.0 242.1,501.8"/>
<polyline fill="none" stroke="#5e5e5e" stroke-width="0.6" points="247.5,507.0 247.5,503.0 251.0,503.0 251.0,507.0"/>
<polyline fill="none" stroke="#5e5e5e" stroke-width="0.6" points="254.6,507.0 254.6,502.4 258.2,502.4 258.2,507.0"/>
<polyline fill="none" stroke="#5e5e5e" stroke-width="0.6" points="261.7,507.0 261.7,502.1 265.3,502.1 265.3,507.0"/>
<polyline fill="none" stroke="#5e5e5e" stroke-width="0.6" points="256.4,502.4 256.4,498.5 263.5,498.5 263.5,502.1"/>
<polyline fill="none" stroke="#5e5e5e" stroke-width="0.6" points="249.3,503.0 249.3,497.2 260.0,497.2 260.0,498.5"/>
<polyline fill="none" stroke="#5e5e5e" stroke-width="0.6" points="237.2,498.0 237.2,493.5 254.6,493.5 254.6,497.2"/>
<polyline fill="none" stroke="#5e5e5e" stroke-width="0.6" points="215.6,497.1 215.6,492.3 245.9,492.3 245.9,493.5"/>
<polyline fill="none" stroke="#5e5e5e" stroke-width="0.6" points="203.8,500.0 203.8,490.9 230.7,490.9 230.7,492.3"/>
<polyline fill="none" stroke="#5e5e5e" stroke-width="0.6" points="162.1,489.8 162.1,484.2 217.3,484.2 217.3,490.9"/>
<rect x="24.00" y="516.50" width="8.20" height="146.50" fill="#c4c4c4"/>
<polyline fill="none" stroke="#555" stroke-width="0.7" points="19.6,573.1 7.4,573.1 7.4,635.0 19.6,635.0"/>
<polyline fill="none" stroke="#555" stroke-width="0.7" points="22.6,530.2 19.6,530.2 19.6,614.5 22.6,614.5"/>
<polyline fill="none" stroke="#555" stroke-width="0.7" points="32.0,625.7 19.6,625.7 19.6,644.0 22.6,644.0"/>
<polyline fill="none" stroke="#777" stroke-width="0.9" points="22.6,518.0 22.6,540.0"/>
<polyline fill="none" stroke="#888" stroke-width="0.9" points="22.6,600.0 22.6,625.0"/>
<polyline fill="none" stroke="#888" stroke-width="0.9" points="22.6,630.0 22.6,660.0"/>
<polyline fill="none" stroke="#5a5a5a" stroke-width="0.5" points="32.2,518.0 24.8,520.1 32.2,522.2"/>
<polyline fill="none" stroke="#5a5a5a" stroke-width="0.5" points="32.2,523.4 25.1,526.4 32.2,529.4"/>
<polyline fill="none" stroke="#5a5a5a" stroke-width="0.5" points="32.2,530.1 25.9,531.6 32.2,533.1"/>
<polyline fill="none" stroke="#5a5a5a" stroke-width="0.5" points="32.2,534.2 26.5,536.3 32.2,538.3"/>
<polyline fill="none" stroke="#5a5a5a" stroke-width="0.5" points="32.2,539.8 24.6,543.4 32.2,547.0"/>
<polyline fill="none" stroke="#5a5a5a" stroke-width="0.5" points="32.2,548.7 25.1,550.6 32.2,552.5"/>
<polyline fill="none" stroke="#5a5a5a" stroke-width="0.5" points="32.2,554.7 25.5,557.5 32.2,560.3"/>
<polyline fill="none" stroke="#5a5a5a" stroke-width="0.5" points="32.2,562.2 25.6,563.8 32.2,565.5"/>
<polyline fill="none" stroke="#5a5a5a" stroke-width="0.5" points="32.2,567.2 22.9,569.4 32.2,571.7"/>
<polyline fill="none" stroke="#5a5a5a" stroke-width="0.5" points="32.2,573.9 25.5,576.6 32.2,579.3"/>
<polyline fill="none" stroke="#5a5a5a" stroke-width="0.5" points="32.2,581.5 26.2,584.8 32.2,588.1"/>
<polyline fill="none" stroke="#5a5a5a" stroke-width="0.5" points="32.2,589.4 24.4,592.9 32.2,596.4"/>
<polyline fill="none" stroke="#5a5a5a" stroke-width="0.5" points="32.2,598.8 23.2,602.5 32.2,606.2"/>
<polyline fill="none" stroke="#5a5a5a" stroke-width="0.5" points="32.2,606.9 26.4,609.0 32.2,611.0"/>
<polyline fill="none" stroke="#5a5a5a" stroke-width="0.5" points="32.2,612.4 23.9,615.5 32.2,618.5"/>
<polyline fill="none" stroke="#5a5a5a" stroke-width="0.5" points="32.2,620.1 24.1,622.5 32.2,625.0"/>
<polyline fill="none" stroke="#5a5a5a" stroke-width="0.5" points="32.2,626.7 26.1,629.6 32.2,632.6"/>
<polyline fill="none" stroke="#5a5a5a" stroke-width="0.5" points="32.2,634.4 26.0,638.3 32.2,642.1"/>
<polyline fill="none" stroke="#5a5a5a" stroke-width="0.5" points="32.2,644.6 23.4,647.7 32.2,650.9"/>
<polyline fill="none" stroke="#5a5a5a" stroke-width="0.5" points="32.2,653.1 26.1,657.1 32.2,661.0"/>
<defs><linearGradient id="cb" x1="0" y1="0" x2="0" y2="1"><stop offset="0" stop-color="#b2182b"/><stop offset="0.2" stop-color="#d6604d"/><stop offset="0.35" stop-color="#f4a582"/><stop offset="0.5" stop-color="#f7f7f7"/><stop offset="0.65" stop-color="#92c5de"/><stop offset="0.8" stop-color="#4393c3"/><stop offset="1" stop-color="#2166ac"/></linearGradient></defs>
<rect x="268.40" y="516.20" width="4.80" height="71.30" fill="url(#cb)"/>
<text transform="translate(276.50,522.90)" font-size="8" text-anchor="start" font-weight="normal" font-style="normal" fill="#231f20" stroke="#231f20" stroke-width="0.1" >4</text>
<text transform="translate(276.50,538.30)" font-size="8" text-anchor="start" font-weight="normal" font-style="normal" fill="#231f20" stroke="#231f20" stroke-width="0.1" >2</text>
<text transform="translate(276.50,552.80)" font-size="8" text-anchor="start" font-weight="normal" font-style="normal" fill="#231f20" stroke="#231f20" stroke-width="0.1" >0</text>
<text transform="translate(276.50,568.40)" font-size="8" text-anchor="start" font-weight="normal" font-style="normal" fill="#231f20" stroke="#231f20" stroke-width="0.1" >-2</text>
<text transform="translate(276.50,583.30)" font-size="8" text-anchor="start" font-weight="normal" font-style="normal" fill="#231f20" stroke="#231f20" stroke-width="0.1" >-4</text>
<line x1="404.50" y1="476.90" x2="404.50" y2="635.00" stroke="#231f20" stroke-width="1.1"/>
<line x1="404.00" y1="634.50" x2="469.90" y2="634.50" stroke="#231f20" stroke-width="1.1"/>
<rect x="405.00" y="481.40" width="62.00" height="3.60" fill="#2b4b8c"/>
<rect x="405.00" y="494.70" width="54.30" height="3.60" fill="#2b4b8c"/>
<rect x="405.00" y="507.90" width="50.00" height="3.60" fill="#2b4b8c"/>
<rect x="405.00" y="521.10" width="44.90" height="3.60" fill="#2b4b8c"/>
<rect x="405.00" y="534.40" width="41.10" height="3.60" fill="#2b4b8c"/>
<rect x="405.00" y="547.40" width="33.80" height="3.60" fill="#2b4b8c"/>
<rect x="405.00" y="560.70" width="33.50" height="3.60" fill="#2b4b8c"/>
<rect x="405.00" y="574.00" width="31.80" height="3.60" fill="#2b4b8c"/>
<rect x="405.00" y="587.00" width="29.70" height="3.60" fill="#2b4b8c"/>
<rect x="405.00" y="600.10" width="29.20" height="3.60" fill="#2b4b8c"/>
<rect x="405.00" y="613.50" width="28.50" height="3.60" fill="#2b4b8c"/>
<rect x="405.00" y="626.60" width="27.70" height="3.60" fill="#2b4b8c"/>
<line x1="404.50" y1="634.50" x2="404.50" y2="637.20" stroke="#231f20" stroke-width="0.9"/>
<text transform="translate(404.50,646.80)" font-size="8.3" text-anchor="middle" font-weight="normal" font-style="normal" fill="#231f20" stroke="#231f20" stroke-width="0.1" >0</text>
<line x1="418.80" y1="634.50" x2="418.80" y2="637.20" stroke="#231f20" stroke-width="0.9"/>
<text transform="translate(418.80,646.80)" font-size="8.3" text-anchor="middle" font-weight="normal" font-style="normal" fill="#231f20" stroke="#231f20" stroke-width="0.1" >1</text>
<line x1="433.50" y1="634.50" x2="433.50" y2="637.20" stroke="#231f20" stroke-width="0.9"/>
<text transform="translate(433.50,646.80)" font-size="8.3" text-anchor="middle" font-weight="normal" font-style="normal" fill="#231f20" stroke="#231f20" stroke-width="0.1" >2</text>
<line x1="447.80" y1="634.50" x2="447.80" y2="637.20" stroke="#231f20" stroke-width="0.9"/>
<text transform="translate(447.80,646.80)" font-size="8.3" text-anchor="middle" font-weight="normal" font-style="normal" fill="#231f20" stroke="#231f20" stroke-width="0.1" >3</text>
<line x1="462.40" y1="634.50" x2="462.40" y2="637.20" stroke="#231f20" stroke-width="0.9"/>
<text transform="translate(462.40,646.80)" font-size="8.3" text-anchor="middle" font-weight="normal" font-style="normal" fill="#231f20" stroke="#231f20" stroke-width="0.1" >4</text>
<text transform="translate(437.50,660.70) scale(0.700,1)" font-size="9.6" text-anchor="middle" font-weight="normal" font-style="normal" fill="#231f20" stroke="#231f20" stroke-width="0.3">-Log<tspan font-size="6.8" dy="2">10</tspan><tspan dy="-2"> FDR</tspan></text>
<text transform="translate(402.00,482.60) scale(1.020,1)" font-size="7.4" text-anchor="end" font-weight="normal" font-style="normal" fill="#231f20" stroke="#231f20" stroke-width="0.1" >Neg. reg. of multicellular</text>
<text transform="translate(402.00,488.50) scale(1.020,1)" font-size="7.4" text-anchor="end" font-weight="normal" font-style="normal" fill="#231f20" stroke="#231f20" stroke-width="0.1" >organismal process</text>
<text transform="translate(402.00,499.00) scale(1.020,1)" font-size="7.4" text-anchor="end" font-weight="normal" font-style="normal" fill="#231f20" stroke="#231f20" stroke-width="0.1" >Wound healing</text>
<text transform="translate(402.00,508.40) scale(1.020,1)" font-size="7.4" text-anchor="end" font-weight="normal" font-style="normal" fill="#231f20" stroke="#231f20" stroke-width="0.1" >Reg. of multicellular</text>
<text transform="translate(402.00,514.30) scale(1.020,1)" font-size="7.4" text-anchor="end" font-weight="normal" font-style="normal" fill="#231f20" stroke="#231f20" stroke-width="0.1" >organismal process</text>
<text transform="translate(402.00,524.90) scale(1.020,1)" font-size="7.4" text-anchor="end" font-weight="normal" font-style="normal" fill="#231f20" stroke="#231f20" stroke-width="0.1" >Cell activation</text>
<text transform="translate(402.00,538.00) scale(1.020,1)" font-size="7.4" text-anchor="end" font-weight="normal" font-style="normal" fill="#231f20" stroke="#231f20" stroke-width="0.1" >Cell adhesion</text>
<text transform="translate(402.00,548.60) scale(1.020,1)" font-size="7.4" text-anchor="end" font-weight="normal" font-style="normal" fill="#231f20" stroke="#231f20" stroke-width="0.1" >Reg. of developmental</text>
<text transform="translate(402.00,554.50) scale(1.020,1)" font-size="7.4" text-anchor="end" font-weight="normal" font-style="normal" fill="#231f20" stroke="#231f20" stroke-width="0.1" >process</text>
<text transform="translate(402.00,561.70) scale(1.020,1)" font-size="7.4" text-anchor="end" font-weight="normal" font-style="normal" fill="#231f20" stroke="#231f20" stroke-width="0.1" >Anatomical structure</text>
<text transform="translate(402.00,567.70) scale(1.020,1)" font-size="7.4" text-anchor="end" font-weight="normal" font-style="normal" fill="#231f20" stroke="#231f20" stroke-width="0.1" >morphogenesis</text>
<text transform="translate(402.00,574.60) scale(1.020,1)" font-size="7.4" text-anchor="end" font-weight="normal" font-style="normal" fill="#231f20" stroke="#231f20" stroke-width="0.1" >Neg. reg. of extracellular</text>
<text transform="translate(402.00,580.40) scale(1.020,1)" font-size="7.4" text-anchor="end" font-weight="normal" font-style="normal" fill="#231f20" stroke="#231f20" stroke-width="0.1" >matrix constituent secretion</text>
<text transform="translate(402.00,588.20) scale(1.020,1)" font-size="7.4" text-anchor="end" font-weight="normal" font-style="normal" fill="#231f20" stroke="#231f20" stroke-width="0.1" >Pos. reg. of apoptotic process</text>
<text transform="translate(402.00,594.00) scale(1.020,1)" font-size="7.4" text-anchor="end" font-weight="normal" font-style="normal" fill="#231f20" stroke="#231f20" stroke-width="0.1" >in morphogenesis</text>
<text transform="translate(402.00,601.00) scale(1.020,1)" font-size="7.4" text-anchor="end" font-weight="normal" font-style="normal" fill="#231f20" stroke="#231f20" stroke-width="0.1" >Reg. of myeloid cell</text>
<text transform="translate(402.00,607.40) scale(1.020,1)" font-size="7.4" text-anchor="end" font-weight="normal" font-style="normal" fill="#231f20" stroke="#231f20" stroke-width="0.1" >differentiation</text>
<text transform="translate(402.00,616.60) scale(1.020,1)" font-size="7.4" text-anchor="end" font-weight="normal" font-style="normal" fill="#231f20" stroke="#231f20" stroke-width="0.1" >Immune system process</text>
<text transform="translate(402.00,630.00) scale(1.020,1)" font-size="7.4" text-anchor="end" font-weight="normal" font-style="normal" fill="#231f20" stroke="#231f20" stroke-width="0.1" >Regulation of cell differentiation</text>
<text transform="translate(404.55,459.50)" font-size="9" text-anchor="middle" font-weight="normal" font-style="normal" fill="#231f20" stroke="#231f20" stroke-width="0.1"  textLength="90.3" lengthAdjust="spacingAndGlyphs">GO analysis of overlap</text>
<text transform="translate(404.40,470.10)" font-size="9" text-anchor="middle" font-weight="normal" font-style="normal" fill="#231f20" stroke="#231f20" stroke-width="0.1"  textLength="159.1" lengthAdjust="spacingAndGlyphs">HPC<tspan font-size="7" dy="-3.3">LSK</tspan><tspan dy="3.3"> BCR/ABL</tspan><tspan font-size="7" dy="-3.3">p210</tspan><tspan dy="3.3"> and human data</tspan></text>
<rect x="0.6" y="0.6" width="518.8" height="669.8" fill="none" stroke="#000" stroke-width="1.2"/>
</svg></body></html>
